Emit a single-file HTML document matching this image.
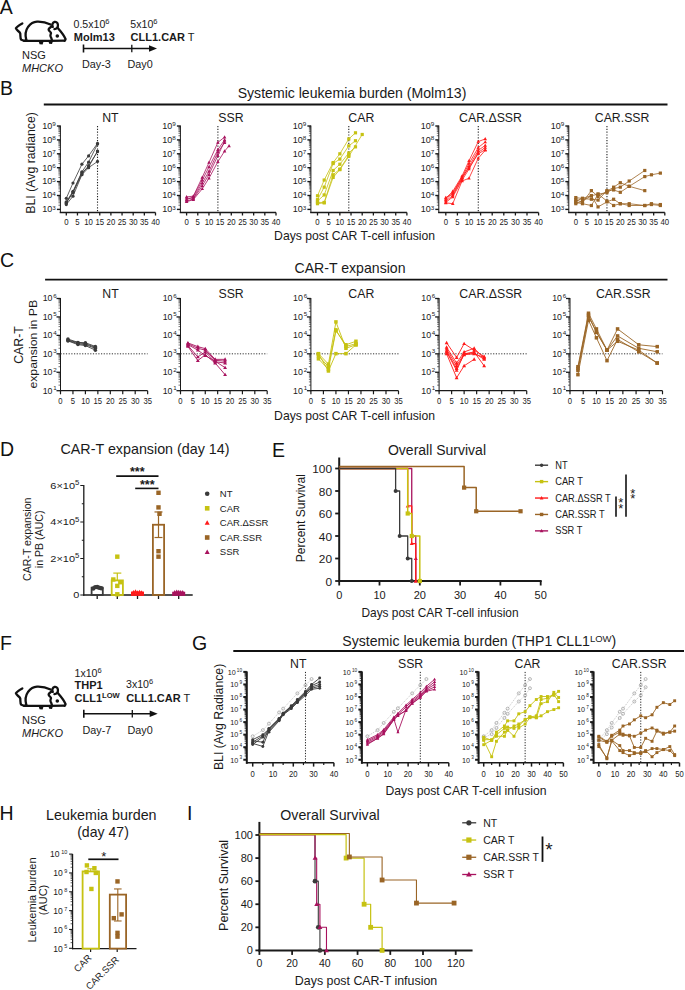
<!DOCTYPE html><html><head><meta charset="utf-8"><style>html,body{margin:0;padding:0;background:#fff;}svg{display:block;}</style></head><body><svg width="685" height="990" viewBox="0 0 685 990" font-family='"Liberation Sans", sans-serif'>
<rect width="685" height="990" fill="#fff"/>
<text transform="translate(-0.3,14.3)" font-size="19.5" text-anchor="start" fill="#111" >A</text>
<text transform="translate(0,95.2)" font-size="19.5" text-anchor="start" fill="#111" >B</text>
<text transform="translate(0,267.4)" font-size="19.5" text-anchor="start" fill="#111" >C</text>
<text transform="translate(0,456.4)" font-size="19.5" text-anchor="start" fill="#111" >D</text>
<text transform="translate(272,456.5)" font-size="19.5" text-anchor="start" fill="#111" >E</text>
<text transform="translate(0,650)" font-size="19.5" text-anchor="start" fill="#111" >F</text>
<text transform="translate(192,650)" font-size="19.5" text-anchor="start" fill="#111" >G</text>
<text transform="translate(-0.5,820)" font-size="19.5" text-anchor="start" fill="#111" >H</text>
<text transform="translate(187,820)" font-size="19.5" text-anchor="start" fill="#111" >I</text>
<g transform="translate(0,0.5)" fill="none" stroke="#111" stroke-width="2.3" stroke-linejoin="round" stroke-linecap="round">
<path d="M22.3,22.9 C19.6,24.4 16.8,26 15.9,27.8 C16.4,29.8 19.6,31 20.2,32.8 C20.6,35 20,37.6 21.2,39.2 C22.6,40.4 25,40.4 27.5,40.3"/>
<path d="M26.3,39.6 C25.2,35.6 25.2,30.4 28.2,26.2 C30.6,23 33.6,21.4 37,21.2 C41.6,21 46.4,22 50.6,24"/>
<path d="M24,40.4 L50,40.3 L64.8,40.1"/>
<path d="M51.4,26 C50,27 48.6,28 48.6,29.2 C48.8,30.6 51,31.4 51,32.6 C50.8,33.8 50,34.6 50.6,36 C51.2,37.2 51.8,38.4 52,40"/>
<path d="M57.8,27.4 C60.8,30.8 64.2,35 65.6,38.6 C65.4,39.6 65,40 64.6,40.2"/>
<path d="M52.8,26.4 C51.8,24.6 52.4,22 54.6,21.4 C57,21 58.2,23 57.9,25.6 C57.6,27.6 56,28.4 54.4,28.6"/>
</g>
<g transform="translate(0,0.5)" fill="#111">
<circle cx="57.3" cy="35.5" r="1.8"/>
<path d="M38.4,40 L43.8,40 L42.6,43.9 L39.6,43.7 Z"/>
<path d="M48.2,40 L53.2,40 L52,43.4 L49.2,43.2 Z"/>
</g>
<text transform="translate(22,59)" font-size="11" text-anchor="start" fill="#1a1a1a" >NSG</text>
<text transform="translate(22,72)" font-size="11" text-anchor="start" fill="#1a1a1a" font-style="italic" >MHCKO</text>
<text x="73.5" y="28" font-size="10.6" fill="#1a1a1a">0.5x10<tspan dy="-4" font-size="7.5">6</tspan></text>
<text transform="translate(73.8,40.8)" font-size="11" text-anchor="start" fill="#1a1a1a" font-weight="bold" >Molm13</text>
<text x="130.3" y="28" font-size="10.6" fill="#1a1a1a">5x10<tspan dy="-4" font-size="7.5">6</tspan></text>
<text x="130.6" y="40.8" font-size="11" fill="#1a1a1a"><tspan font-weight="bold">CLL1.CAR</tspan> T</text>
<line x1="83.5" y1="48.5" x2="151" y2="48.5" stroke="#111" stroke-width="1.6" stroke-linecap="butt"/>
<path d="M157,48.5 L149,45.2 L149,51.8 Z" fill="#111"/>
<line x1="83.5" y1="44.5" x2="83.5" y2="52.5" stroke="#111" stroke-width="1.6" stroke-linecap="butt"/>
<line x1="131.8" y1="44.8" x2="131.8" y2="52.2" stroke="#111" stroke-width="1.3" stroke-linecap="butt"/>
<text transform="translate(82,67.8)" font-size="10.8" text-anchor="start" fill="#1a1a1a" >Day-3</text>
<text transform="translate(127.5,67.8)" font-size="10.8" text-anchor="start" fill="#1a1a1a" >Day0</text>
<g transform="translate(0,665.5)" fill="none" stroke="#111" stroke-width="2.3" stroke-linejoin="round" stroke-linecap="round">
<path d="M22.3,22.9 C19.6,24.4 16.8,26 15.9,27.8 C16.4,29.8 19.6,31 20.2,32.8 C20.6,35 20,37.6 21.2,39.2 C22.6,40.4 25,40.4 27.5,40.3"/>
<path d="M26.3,39.6 C25.2,35.6 25.2,30.4 28.2,26.2 C30.6,23 33.6,21.4 37,21.2 C41.6,21 46.4,22 50.6,24"/>
<path d="M24,40.4 L50,40.3 L64.8,40.1"/>
<path d="M51.4,26 C50,27 48.6,28 48.6,29.2 C48.8,30.6 51,31.4 51,32.6 C50.8,33.8 50,34.6 50.6,36 C51.2,37.2 51.8,38.4 52,40"/>
<path d="M57.8,27.4 C60.8,30.8 64.2,35 65.6,38.6 C65.4,39.6 65,40 64.6,40.2"/>
<path d="M52.8,26.4 C51.8,24.6 52.4,22 54.6,21.4 C57,21 58.2,23 57.9,25.6 C57.6,27.6 56,28.4 54.4,28.6"/>
</g>
<g transform="translate(0,665.5)" fill="#111">
<circle cx="57.3" cy="35.5" r="1.8"/>
<path d="M38.4,40 L43.8,40 L42.6,43.9 L39.6,43.7 Z"/>
<path d="M48.2,40 L53.2,40 L52,43.4 L49.2,43.2 Z"/>
</g>
<text transform="translate(22,723.5)" font-size="11" text-anchor="start" fill="#1a1a1a" >NSG</text>
<text transform="translate(22,736.8)" font-size="11" text-anchor="start" fill="#1a1a1a" font-style="italic" >MHCKO</text>
<text x="74.5" y="676.8" font-size="10.6" fill="#1a1a1a">1x10<tspan dy="-4" font-size="7.5">6</tspan></text>
<text transform="translate(74.5,689.4)" font-size="11" text-anchor="start" fill="#1a1a1a" font-weight="bold" >THP1</text>
<text x="74.5" y="702.4" font-size="11" font-weight="bold" fill="#1a1a1a">CLL1<tspan dy="-4" font-size="7.6">LOW</tspan></text>
<text x="126" y="688.4" font-size="10.6" fill="#1a1a1a">3x10<tspan dy="-4" font-size="7.5">6</tspan></text>
<text x="126.3" y="702.4" font-size="11" fill="#1a1a1a"><tspan font-weight="bold">CLL1.CAR</tspan> T</text>
<line x1="83.8" y1="713.8" x2="151.5" y2="713.8" stroke="#111" stroke-width="1.6" stroke-linecap="butt"/>
<path d="M157.7,713.8 L149.7,710.5 L149.7,717.1 Z" fill="#111"/>
<line x1="83.8" y1="709.8" x2="83.8" y2="717.8" stroke="#111" stroke-width="1.6" stroke-linecap="butt"/>
<line x1="132.3" y1="710.1" x2="132.3" y2="717.5" stroke="#111" stroke-width="1.3" stroke-linecap="butt"/>
<text transform="translate(82.5,733.6)" font-size="10.8" text-anchor="start" fill="#1a1a1a" >Day-7</text>
<text transform="translate(127.5,733.6)" font-size="10.8" text-anchor="start" fill="#1a1a1a" >Day0</text>
<text transform="translate(352,97.8)" font-size="14.1" text-anchor="middle" fill="#1a1a1a" >Systemic leukemia burden (Molm13)</text>
<line x1="43.8" y1="104.5" x2="667.5" y2="104.5" stroke="#111" stroke-width="1.8" stroke-linecap="butt"/>
<text transform="translate(34.9,162.9) rotate(-90)" font-size="12.3" text-anchor="middle" fill="#1a1a1a" >BLI (Avg radiance)</text>
<text transform="translate(354.6,240)" font-size="12.2" text-anchor="middle" fill="#1a1a1a" >Days post CAR T-cell infusion</text>
<line x1="60.4" y1="125.5" x2="60.4" y2="213" stroke="#1a1a1a" stroke-width="1" stroke-linecap="butt"/>
<line x1="56.9" y1="209.4" x2="60.4" y2="209.4" stroke="#1a1a1a" stroke-width="1.4" stroke-linecap="butt"/>
<text transform="translate(55.8,212.2) scale(1.05,1)" font-size="8.6" text-anchor="end" fill="#1a1a1a">10<tspan dx="0" dy="-2.6" font-size="6">3</tspan></text>
<line x1="58.4" y1="205.22" x2="60.4" y2="205.22" stroke="#1a1a1a" stroke-width="0.6" stroke-linecap="butt"/>
<line x1="58.4" y1="202.77" x2="60.4" y2="202.77" stroke="#1a1a1a" stroke-width="0.6" stroke-linecap="butt"/>
<line x1="58.4" y1="201.03" x2="60.4" y2="201.03" stroke="#1a1a1a" stroke-width="0.6" stroke-linecap="butt"/>
<line x1="58.4" y1="199.68" x2="60.4" y2="199.68" stroke="#1a1a1a" stroke-width="0.6" stroke-linecap="butt"/>
<line x1="58.4" y1="198.58" x2="60.4" y2="198.58" stroke="#1a1a1a" stroke-width="0.6" stroke-linecap="butt"/>
<line x1="58.4" y1="197.65" x2="60.4" y2="197.65" stroke="#1a1a1a" stroke-width="0.6" stroke-linecap="butt"/>
<line x1="58.4" y1="196.85" x2="60.4" y2="196.85" stroke="#1a1a1a" stroke-width="0.6" stroke-linecap="butt"/>
<line x1="58.4" y1="196.14" x2="60.4" y2="196.14" stroke="#1a1a1a" stroke-width="0.6" stroke-linecap="butt"/>
<line x1="56.9" y1="195.5" x2="60.4" y2="195.5" stroke="#1a1a1a" stroke-width="1.4" stroke-linecap="butt"/>
<text transform="translate(55.8,198.3) scale(1.05,1)" font-size="8.6" text-anchor="end" fill="#1a1a1a">10<tspan dx="0" dy="-2.6" font-size="6">4</tspan></text>
<line x1="58.4" y1="191.32" x2="60.4" y2="191.32" stroke="#1a1a1a" stroke-width="0.6" stroke-linecap="butt"/>
<line x1="58.4" y1="188.87" x2="60.4" y2="188.87" stroke="#1a1a1a" stroke-width="0.6" stroke-linecap="butt"/>
<line x1="58.4" y1="187.13" x2="60.4" y2="187.13" stroke="#1a1a1a" stroke-width="0.6" stroke-linecap="butt"/>
<line x1="58.4" y1="185.78" x2="60.4" y2="185.78" stroke="#1a1a1a" stroke-width="0.6" stroke-linecap="butt"/>
<line x1="58.4" y1="184.68" x2="60.4" y2="184.68" stroke="#1a1a1a" stroke-width="0.6" stroke-linecap="butt"/>
<line x1="58.4" y1="183.75" x2="60.4" y2="183.75" stroke="#1a1a1a" stroke-width="0.6" stroke-linecap="butt"/>
<line x1="58.4" y1="182.95" x2="60.4" y2="182.95" stroke="#1a1a1a" stroke-width="0.6" stroke-linecap="butt"/>
<line x1="58.4" y1="182.24" x2="60.4" y2="182.24" stroke="#1a1a1a" stroke-width="0.6" stroke-linecap="butt"/>
<line x1="56.9" y1="181.6" x2="60.4" y2="181.6" stroke="#1a1a1a" stroke-width="1.4" stroke-linecap="butt"/>
<text transform="translate(55.8,184.4) scale(1.05,1)" font-size="8.6" text-anchor="end" fill="#1a1a1a">10<tspan dx="0" dy="-2.6" font-size="6">5</tspan></text>
<line x1="58.4" y1="177.42" x2="60.4" y2="177.42" stroke="#1a1a1a" stroke-width="0.6" stroke-linecap="butt"/>
<line x1="58.4" y1="174.97" x2="60.4" y2="174.97" stroke="#1a1a1a" stroke-width="0.6" stroke-linecap="butt"/>
<line x1="58.4" y1="173.23" x2="60.4" y2="173.23" stroke="#1a1a1a" stroke-width="0.6" stroke-linecap="butt"/>
<line x1="58.4" y1="171.88" x2="60.4" y2="171.88" stroke="#1a1a1a" stroke-width="0.6" stroke-linecap="butt"/>
<line x1="58.4" y1="170.78" x2="60.4" y2="170.78" stroke="#1a1a1a" stroke-width="0.6" stroke-linecap="butt"/>
<line x1="58.4" y1="169.85" x2="60.4" y2="169.85" stroke="#1a1a1a" stroke-width="0.6" stroke-linecap="butt"/>
<line x1="58.4" y1="169.05" x2="60.4" y2="169.05" stroke="#1a1a1a" stroke-width="0.6" stroke-linecap="butt"/>
<line x1="58.4" y1="168.34" x2="60.4" y2="168.34" stroke="#1a1a1a" stroke-width="0.6" stroke-linecap="butt"/>
<line x1="56.9" y1="167.7" x2="60.4" y2="167.7" stroke="#1a1a1a" stroke-width="1.4" stroke-linecap="butt"/>
<text transform="translate(55.8,170.5) scale(1.05,1)" font-size="8.6" text-anchor="end" fill="#1a1a1a">10<tspan dx="0" dy="-2.6" font-size="6">6</tspan></text>
<line x1="58.4" y1="163.52" x2="60.4" y2="163.52" stroke="#1a1a1a" stroke-width="0.6" stroke-linecap="butt"/>
<line x1="58.4" y1="161.07" x2="60.4" y2="161.07" stroke="#1a1a1a" stroke-width="0.6" stroke-linecap="butt"/>
<line x1="58.4" y1="159.33" x2="60.4" y2="159.33" stroke="#1a1a1a" stroke-width="0.6" stroke-linecap="butt"/>
<line x1="58.4" y1="157.98" x2="60.4" y2="157.98" stroke="#1a1a1a" stroke-width="0.6" stroke-linecap="butt"/>
<line x1="58.4" y1="156.88" x2="60.4" y2="156.88" stroke="#1a1a1a" stroke-width="0.6" stroke-linecap="butt"/>
<line x1="58.4" y1="155.95" x2="60.4" y2="155.95" stroke="#1a1a1a" stroke-width="0.6" stroke-linecap="butt"/>
<line x1="58.4" y1="155.15" x2="60.4" y2="155.15" stroke="#1a1a1a" stroke-width="0.6" stroke-linecap="butt"/>
<line x1="58.4" y1="154.44" x2="60.4" y2="154.44" stroke="#1a1a1a" stroke-width="0.6" stroke-linecap="butt"/>
<line x1="56.9" y1="153.8" x2="60.4" y2="153.8" stroke="#1a1a1a" stroke-width="1.4" stroke-linecap="butt"/>
<text transform="translate(55.8,156.6) scale(1.05,1)" font-size="8.6" text-anchor="end" fill="#1a1a1a">10<tspan dx="0" dy="-2.6" font-size="6">7</tspan></text>
<line x1="58.4" y1="149.62" x2="60.4" y2="149.62" stroke="#1a1a1a" stroke-width="0.6" stroke-linecap="butt"/>
<line x1="58.4" y1="147.17" x2="60.4" y2="147.17" stroke="#1a1a1a" stroke-width="0.6" stroke-linecap="butt"/>
<line x1="58.4" y1="145.43" x2="60.4" y2="145.43" stroke="#1a1a1a" stroke-width="0.6" stroke-linecap="butt"/>
<line x1="58.4" y1="144.08" x2="60.4" y2="144.08" stroke="#1a1a1a" stroke-width="0.6" stroke-linecap="butt"/>
<line x1="58.4" y1="142.98" x2="60.4" y2="142.98" stroke="#1a1a1a" stroke-width="0.6" stroke-linecap="butt"/>
<line x1="58.4" y1="142.05" x2="60.4" y2="142.05" stroke="#1a1a1a" stroke-width="0.6" stroke-linecap="butt"/>
<line x1="58.4" y1="141.25" x2="60.4" y2="141.25" stroke="#1a1a1a" stroke-width="0.6" stroke-linecap="butt"/>
<line x1="58.4" y1="140.54" x2="60.4" y2="140.54" stroke="#1a1a1a" stroke-width="0.6" stroke-linecap="butt"/>
<line x1="56.9" y1="139.9" x2="60.4" y2="139.9" stroke="#1a1a1a" stroke-width="1.4" stroke-linecap="butt"/>
<text transform="translate(55.8,142.7) scale(1.05,1)" font-size="8.6" text-anchor="end" fill="#1a1a1a">10<tspan dx="0" dy="-2.6" font-size="6">8</tspan></text>
<line x1="58.4" y1="135.72" x2="60.4" y2="135.72" stroke="#1a1a1a" stroke-width="0.6" stroke-linecap="butt"/>
<line x1="58.4" y1="133.27" x2="60.4" y2="133.27" stroke="#1a1a1a" stroke-width="0.6" stroke-linecap="butt"/>
<line x1="58.4" y1="131.53" x2="60.4" y2="131.53" stroke="#1a1a1a" stroke-width="0.6" stroke-linecap="butt"/>
<line x1="58.4" y1="130.18" x2="60.4" y2="130.18" stroke="#1a1a1a" stroke-width="0.6" stroke-linecap="butt"/>
<line x1="58.4" y1="129.08" x2="60.4" y2="129.08" stroke="#1a1a1a" stroke-width="0.6" stroke-linecap="butt"/>
<line x1="58.4" y1="128.15" x2="60.4" y2="128.15" stroke="#1a1a1a" stroke-width="0.6" stroke-linecap="butt"/>
<line x1="58.4" y1="127.35" x2="60.4" y2="127.35" stroke="#1a1a1a" stroke-width="0.6" stroke-linecap="butt"/>
<line x1="58.4" y1="126.64" x2="60.4" y2="126.64" stroke="#1a1a1a" stroke-width="0.6" stroke-linecap="butt"/>
<line x1="56.9" y1="126" x2="60.4" y2="126" stroke="#1a1a1a" stroke-width="1.4" stroke-linecap="butt"/>
<text transform="translate(55.8,128.8) scale(1.05,1)" font-size="8.6" text-anchor="end" fill="#1a1a1a">10<tspan dx="0" dy="-2.6" font-size="6">9</tspan></text>
<line x1="59.75" y1="212.5" x2="155.5" y2="212.5" stroke="#1a1a1a" stroke-width="1.3" stroke-linecap="butt"/>
<line x1="66.3" y1="212.5" x2="66.3" y2="215.5" stroke="#1a1a1a" stroke-width="1.3" stroke-linecap="butt"/>
<text transform="translate(66.3,224.6) scale(0.95,1)" font-size="8.2" text-anchor="middle" fill="#1a1a1a" >0</text>
<line x1="77.45" y1="212.5" x2="77.45" y2="215.5" stroke="#1a1a1a" stroke-width="1.3" stroke-linecap="butt"/>
<text transform="translate(77.45,224.6) scale(0.95,1)" font-size="8.2" text-anchor="middle" fill="#1a1a1a" >5</text>
<line x1="88.6" y1="212.5" x2="88.6" y2="215.5" stroke="#1a1a1a" stroke-width="1.3" stroke-linecap="butt"/>
<text transform="translate(88.6,224.6) scale(0.95,1)" font-size="8.2" text-anchor="middle" fill="#1a1a1a" >10</text>
<line x1="99.75" y1="212.5" x2="99.75" y2="215.5" stroke="#1a1a1a" stroke-width="1.3" stroke-linecap="butt"/>
<text transform="translate(99.75,224.6) scale(0.95,1)" font-size="8.2" text-anchor="middle" fill="#1a1a1a" >15</text>
<line x1="110.9" y1="212.5" x2="110.9" y2="215.5" stroke="#1a1a1a" stroke-width="1.3" stroke-linecap="butt"/>
<text transform="translate(110.9,224.6) scale(0.95,1)" font-size="8.2" text-anchor="middle" fill="#1a1a1a" >20</text>
<line x1="122.05" y1="212.5" x2="122.05" y2="215.5" stroke="#1a1a1a" stroke-width="1.3" stroke-linecap="butt"/>
<text transform="translate(122.05,224.6) scale(0.95,1)" font-size="8.2" text-anchor="middle" fill="#1a1a1a" >25</text>
<line x1="133.2" y1="212.5" x2="133.2" y2="215.5" stroke="#1a1a1a" stroke-width="1.3" stroke-linecap="butt"/>
<text transform="translate(133.2,224.6) scale(0.95,1)" font-size="8.2" text-anchor="middle" fill="#1a1a1a" >30</text>
<line x1="144.35" y1="212.5" x2="144.35" y2="215.5" stroke="#1a1a1a" stroke-width="1.3" stroke-linecap="butt"/>
<text transform="translate(144.35,224.6) scale(0.95,1)" font-size="8.2" text-anchor="middle" fill="#1a1a1a" >35</text>
<line x1="155.5" y1="212.5" x2="155.5" y2="215.5" stroke="#1a1a1a" stroke-width="1.3" stroke-linecap="butt"/>
<text transform="translate(155.5,224.6) scale(0.95,1)" font-size="8.2" text-anchor="middle" fill="#1a1a1a" >40</text>
<line x1="97.52" y1="126" x2="97.52" y2="212" stroke="#222" stroke-width="1.1" stroke-linecap="butt" stroke-dasharray="1.2,1.6"/>
<text transform="translate(110.4,121.9)" font-size="12.3" text-anchor="middle" fill="#1a1a1a" >NT</text>
<polyline points="66.3,198.28 72.99,182.99 81.91,164.22 88.6,155.88 97.52,143.38" fill="none" stroke="#3a3a3a" stroke-width="0.8" stroke-linejoin="round"/>
<circle cx="66.3" cy="198.28" r="1.6" fill="#3a3a3a"/>
<circle cx="72.99" cy="182.99" r="1.6" fill="#3a3a3a"/>
<circle cx="81.91" cy="164.22" r="1.6" fill="#3a3a3a"/>
<circle cx="88.6" cy="155.88" r="1.6" fill="#3a3a3a"/>
<circle cx="97.52" cy="143.38" r="1.6" fill="#3a3a3a"/>
<polyline points="66.3,201.75 72.99,191.33 81.91,171.87 88.6,162.14 97.52,144.07" fill="none" stroke="#3a3a3a" stroke-width="0.8" stroke-linejoin="round"/>
<circle cx="66.3" cy="201.75" r="1.6" fill="#3a3a3a"/>
<circle cx="72.99" cy="191.33" r="1.6" fill="#3a3a3a"/>
<circle cx="81.91" cy="171.87" r="1.6" fill="#3a3a3a"/>
<circle cx="88.6" cy="162.14" r="1.6" fill="#3a3a3a"/>
<circle cx="97.52" cy="144.07" r="1.6" fill="#3a3a3a"/>
<polyline points="66.3,203.14 72.99,192.03 81.91,172.56 88.6,167 97.52,151.02" fill="none" stroke="#3a3a3a" stroke-width="0.8" stroke-linejoin="round"/>
<circle cx="66.3" cy="203.14" r="1.6" fill="#3a3a3a"/>
<circle cx="72.99" cy="192.03" r="1.6" fill="#3a3a3a"/>
<circle cx="81.91" cy="172.56" r="1.6" fill="#3a3a3a"/>
<circle cx="88.6" cy="167" r="1.6" fill="#3a3a3a"/>
<circle cx="97.52" cy="151.02" r="1.6" fill="#3a3a3a"/>
<polyline points="66.3,204.54 72.99,196.19 81.91,174.65 88.6,167.7 97.52,161.44" fill="none" stroke="#3a3a3a" stroke-width="0.8" stroke-linejoin="round"/>
<circle cx="66.3" cy="204.54" r="1.6" fill="#3a3a3a"/>
<circle cx="72.99" cy="196.19" r="1.6" fill="#3a3a3a"/>
<circle cx="81.91" cy="174.65" r="1.6" fill="#3a3a3a"/>
<circle cx="88.6" cy="167.7" r="1.6" fill="#3a3a3a"/>
<circle cx="97.52" cy="161.44" r="1.6" fill="#3a3a3a"/>
<polyline points="66.3,202.45 72.99,192.72 81.91,173.96 88.6,165.62 97.52,151.72" fill="none" stroke="#3a3a3a" stroke-width="0.8" stroke-linejoin="round"/>
<circle cx="66.3" cy="202.45" r="1.6" fill="#3a3a3a"/>
<circle cx="72.99" cy="192.72" r="1.6" fill="#3a3a3a"/>
<circle cx="81.91" cy="173.96" r="1.6" fill="#3a3a3a"/>
<circle cx="88.6" cy="165.62" r="1.6" fill="#3a3a3a"/>
<circle cx="97.52" cy="151.72" r="1.6" fill="#3a3a3a"/>
<line x1="180.4" y1="125.5" x2="180.4" y2="213" stroke="#1a1a1a" stroke-width="1" stroke-linecap="butt"/>
<line x1="176.9" y1="209.4" x2="180.4" y2="209.4" stroke="#1a1a1a" stroke-width="1.4" stroke-linecap="butt"/>
<text transform="translate(175.8,212.2) scale(1.05,1)" font-size="8.6" text-anchor="end" fill="#1a1a1a">10<tspan dx="0" dy="-2.6" font-size="6">3</tspan></text>
<line x1="178.4" y1="205.22" x2="180.4" y2="205.22" stroke="#1a1a1a" stroke-width="0.6" stroke-linecap="butt"/>
<line x1="178.4" y1="202.77" x2="180.4" y2="202.77" stroke="#1a1a1a" stroke-width="0.6" stroke-linecap="butt"/>
<line x1="178.4" y1="201.03" x2="180.4" y2="201.03" stroke="#1a1a1a" stroke-width="0.6" stroke-linecap="butt"/>
<line x1="178.4" y1="199.68" x2="180.4" y2="199.68" stroke="#1a1a1a" stroke-width="0.6" stroke-linecap="butt"/>
<line x1="178.4" y1="198.58" x2="180.4" y2="198.58" stroke="#1a1a1a" stroke-width="0.6" stroke-linecap="butt"/>
<line x1="178.4" y1="197.65" x2="180.4" y2="197.65" stroke="#1a1a1a" stroke-width="0.6" stroke-linecap="butt"/>
<line x1="178.4" y1="196.85" x2="180.4" y2="196.85" stroke="#1a1a1a" stroke-width="0.6" stroke-linecap="butt"/>
<line x1="178.4" y1="196.14" x2="180.4" y2="196.14" stroke="#1a1a1a" stroke-width="0.6" stroke-linecap="butt"/>
<line x1="176.9" y1="195.5" x2="180.4" y2="195.5" stroke="#1a1a1a" stroke-width="1.4" stroke-linecap="butt"/>
<text transform="translate(175.8,198.3) scale(1.05,1)" font-size="8.6" text-anchor="end" fill="#1a1a1a">10<tspan dx="0" dy="-2.6" font-size="6">4</tspan></text>
<line x1="178.4" y1="191.32" x2="180.4" y2="191.32" stroke="#1a1a1a" stroke-width="0.6" stroke-linecap="butt"/>
<line x1="178.4" y1="188.87" x2="180.4" y2="188.87" stroke="#1a1a1a" stroke-width="0.6" stroke-linecap="butt"/>
<line x1="178.4" y1="187.13" x2="180.4" y2="187.13" stroke="#1a1a1a" stroke-width="0.6" stroke-linecap="butt"/>
<line x1="178.4" y1="185.78" x2="180.4" y2="185.78" stroke="#1a1a1a" stroke-width="0.6" stroke-linecap="butt"/>
<line x1="178.4" y1="184.68" x2="180.4" y2="184.68" stroke="#1a1a1a" stroke-width="0.6" stroke-linecap="butt"/>
<line x1="178.4" y1="183.75" x2="180.4" y2="183.75" stroke="#1a1a1a" stroke-width="0.6" stroke-linecap="butt"/>
<line x1="178.4" y1="182.95" x2="180.4" y2="182.95" stroke="#1a1a1a" stroke-width="0.6" stroke-linecap="butt"/>
<line x1="178.4" y1="182.24" x2="180.4" y2="182.24" stroke="#1a1a1a" stroke-width="0.6" stroke-linecap="butt"/>
<line x1="176.9" y1="181.6" x2="180.4" y2="181.6" stroke="#1a1a1a" stroke-width="1.4" stroke-linecap="butt"/>
<text transform="translate(175.8,184.4) scale(1.05,1)" font-size="8.6" text-anchor="end" fill="#1a1a1a">10<tspan dx="0" dy="-2.6" font-size="6">5</tspan></text>
<line x1="178.4" y1="177.42" x2="180.4" y2="177.42" stroke="#1a1a1a" stroke-width="0.6" stroke-linecap="butt"/>
<line x1="178.4" y1="174.97" x2="180.4" y2="174.97" stroke="#1a1a1a" stroke-width="0.6" stroke-linecap="butt"/>
<line x1="178.4" y1="173.23" x2="180.4" y2="173.23" stroke="#1a1a1a" stroke-width="0.6" stroke-linecap="butt"/>
<line x1="178.4" y1="171.88" x2="180.4" y2="171.88" stroke="#1a1a1a" stroke-width="0.6" stroke-linecap="butt"/>
<line x1="178.4" y1="170.78" x2="180.4" y2="170.78" stroke="#1a1a1a" stroke-width="0.6" stroke-linecap="butt"/>
<line x1="178.4" y1="169.85" x2="180.4" y2="169.85" stroke="#1a1a1a" stroke-width="0.6" stroke-linecap="butt"/>
<line x1="178.4" y1="169.05" x2="180.4" y2="169.05" stroke="#1a1a1a" stroke-width="0.6" stroke-linecap="butt"/>
<line x1="178.4" y1="168.34" x2="180.4" y2="168.34" stroke="#1a1a1a" stroke-width="0.6" stroke-linecap="butt"/>
<line x1="176.9" y1="167.7" x2="180.4" y2="167.7" stroke="#1a1a1a" stroke-width="1.4" stroke-linecap="butt"/>
<text transform="translate(175.8,170.5) scale(1.05,1)" font-size="8.6" text-anchor="end" fill="#1a1a1a">10<tspan dx="0" dy="-2.6" font-size="6">6</tspan></text>
<line x1="178.4" y1="163.52" x2="180.4" y2="163.52" stroke="#1a1a1a" stroke-width="0.6" stroke-linecap="butt"/>
<line x1="178.4" y1="161.07" x2="180.4" y2="161.07" stroke="#1a1a1a" stroke-width="0.6" stroke-linecap="butt"/>
<line x1="178.4" y1="159.33" x2="180.4" y2="159.33" stroke="#1a1a1a" stroke-width="0.6" stroke-linecap="butt"/>
<line x1="178.4" y1="157.98" x2="180.4" y2="157.98" stroke="#1a1a1a" stroke-width="0.6" stroke-linecap="butt"/>
<line x1="178.4" y1="156.88" x2="180.4" y2="156.88" stroke="#1a1a1a" stroke-width="0.6" stroke-linecap="butt"/>
<line x1="178.4" y1="155.95" x2="180.4" y2="155.95" stroke="#1a1a1a" stroke-width="0.6" stroke-linecap="butt"/>
<line x1="178.4" y1="155.15" x2="180.4" y2="155.15" stroke="#1a1a1a" stroke-width="0.6" stroke-linecap="butt"/>
<line x1="178.4" y1="154.44" x2="180.4" y2="154.44" stroke="#1a1a1a" stroke-width="0.6" stroke-linecap="butt"/>
<line x1="176.9" y1="153.8" x2="180.4" y2="153.8" stroke="#1a1a1a" stroke-width="1.4" stroke-linecap="butt"/>
<text transform="translate(175.8,156.6) scale(1.05,1)" font-size="8.6" text-anchor="end" fill="#1a1a1a">10<tspan dx="0" dy="-2.6" font-size="6">7</tspan></text>
<line x1="178.4" y1="149.62" x2="180.4" y2="149.62" stroke="#1a1a1a" stroke-width="0.6" stroke-linecap="butt"/>
<line x1="178.4" y1="147.17" x2="180.4" y2="147.17" stroke="#1a1a1a" stroke-width="0.6" stroke-linecap="butt"/>
<line x1="178.4" y1="145.43" x2="180.4" y2="145.43" stroke="#1a1a1a" stroke-width="0.6" stroke-linecap="butt"/>
<line x1="178.4" y1="144.08" x2="180.4" y2="144.08" stroke="#1a1a1a" stroke-width="0.6" stroke-linecap="butt"/>
<line x1="178.4" y1="142.98" x2="180.4" y2="142.98" stroke="#1a1a1a" stroke-width="0.6" stroke-linecap="butt"/>
<line x1="178.4" y1="142.05" x2="180.4" y2="142.05" stroke="#1a1a1a" stroke-width="0.6" stroke-linecap="butt"/>
<line x1="178.4" y1="141.25" x2="180.4" y2="141.25" stroke="#1a1a1a" stroke-width="0.6" stroke-linecap="butt"/>
<line x1="178.4" y1="140.54" x2="180.4" y2="140.54" stroke="#1a1a1a" stroke-width="0.6" stroke-linecap="butt"/>
<line x1="176.9" y1="139.9" x2="180.4" y2="139.9" stroke="#1a1a1a" stroke-width="1.4" stroke-linecap="butt"/>
<text transform="translate(175.8,142.7) scale(1.05,1)" font-size="8.6" text-anchor="end" fill="#1a1a1a">10<tspan dx="0" dy="-2.6" font-size="6">8</tspan></text>
<line x1="178.4" y1="135.72" x2="180.4" y2="135.72" stroke="#1a1a1a" stroke-width="0.6" stroke-linecap="butt"/>
<line x1="178.4" y1="133.27" x2="180.4" y2="133.27" stroke="#1a1a1a" stroke-width="0.6" stroke-linecap="butt"/>
<line x1="178.4" y1="131.53" x2="180.4" y2="131.53" stroke="#1a1a1a" stroke-width="0.6" stroke-linecap="butt"/>
<line x1="178.4" y1="130.18" x2="180.4" y2="130.18" stroke="#1a1a1a" stroke-width="0.6" stroke-linecap="butt"/>
<line x1="178.4" y1="129.08" x2="180.4" y2="129.08" stroke="#1a1a1a" stroke-width="0.6" stroke-linecap="butt"/>
<line x1="178.4" y1="128.15" x2="180.4" y2="128.15" stroke="#1a1a1a" stroke-width="0.6" stroke-linecap="butt"/>
<line x1="178.4" y1="127.35" x2="180.4" y2="127.35" stroke="#1a1a1a" stroke-width="0.6" stroke-linecap="butt"/>
<line x1="178.4" y1="126.64" x2="180.4" y2="126.64" stroke="#1a1a1a" stroke-width="0.6" stroke-linecap="butt"/>
<line x1="176.9" y1="126" x2="180.4" y2="126" stroke="#1a1a1a" stroke-width="1.4" stroke-linecap="butt"/>
<text transform="translate(175.8,128.8) scale(1.05,1)" font-size="8.6" text-anchor="end" fill="#1a1a1a">10<tspan dx="0" dy="-2.6" font-size="6">9</tspan></text>
<line x1="179.75" y1="212.5" x2="276" y2="212.5" stroke="#1a1a1a" stroke-width="1.3" stroke-linecap="butt"/>
<line x1="186.6" y1="212.5" x2="186.6" y2="215.5" stroke="#1a1a1a" stroke-width="1.3" stroke-linecap="butt"/>
<text transform="translate(186.6,224.6) scale(0.95,1)" font-size="8.2" text-anchor="middle" fill="#1a1a1a" >0</text>
<line x1="197.78" y1="212.5" x2="197.78" y2="215.5" stroke="#1a1a1a" stroke-width="1.3" stroke-linecap="butt"/>
<text transform="translate(197.78,224.6) scale(0.95,1)" font-size="8.2" text-anchor="middle" fill="#1a1a1a" >5</text>
<line x1="208.95" y1="212.5" x2="208.95" y2="215.5" stroke="#1a1a1a" stroke-width="1.3" stroke-linecap="butt"/>
<text transform="translate(208.95,224.6) scale(0.95,1)" font-size="8.2" text-anchor="middle" fill="#1a1a1a" >10</text>
<line x1="220.12" y1="212.5" x2="220.12" y2="215.5" stroke="#1a1a1a" stroke-width="1.3" stroke-linecap="butt"/>
<text transform="translate(220.12,224.6) scale(0.95,1)" font-size="8.2" text-anchor="middle" fill="#1a1a1a" >15</text>
<line x1="231.3" y1="212.5" x2="231.3" y2="215.5" stroke="#1a1a1a" stroke-width="1.3" stroke-linecap="butt"/>
<text transform="translate(231.3,224.6) scale(0.95,1)" font-size="8.2" text-anchor="middle" fill="#1a1a1a" >20</text>
<line x1="242.47" y1="212.5" x2="242.47" y2="215.5" stroke="#1a1a1a" stroke-width="1.3" stroke-linecap="butt"/>
<text transform="translate(242.47,224.6) scale(0.95,1)" font-size="8.2" text-anchor="middle" fill="#1a1a1a" >25</text>
<line x1="253.65" y1="212.5" x2="253.65" y2="215.5" stroke="#1a1a1a" stroke-width="1.3" stroke-linecap="butt"/>
<text transform="translate(253.65,224.6) scale(0.95,1)" font-size="8.2" text-anchor="middle" fill="#1a1a1a" >30</text>
<line x1="264.82" y1="212.5" x2="264.82" y2="215.5" stroke="#1a1a1a" stroke-width="1.3" stroke-linecap="butt"/>
<text transform="translate(264.82,224.6) scale(0.95,1)" font-size="8.2" text-anchor="middle" fill="#1a1a1a" >35</text>
<line x1="276" y1="212.5" x2="276" y2="215.5" stroke="#1a1a1a" stroke-width="1.3" stroke-linecap="butt"/>
<text transform="translate(276,224.6) scale(0.95,1)" font-size="8.2" text-anchor="middle" fill="#1a1a1a" >40</text>
<line x1="217.89" y1="126" x2="217.89" y2="212" stroke="#222" stroke-width="1.1" stroke-linecap="butt" stroke-dasharray="1.2,1.6"/>
<text transform="translate(231,121.9)" font-size="12.3" text-anchor="middle" fill="#1a1a1a" >SSR</text>
<polyline points="186.6,196.89 193.31,196.19 202.25,177.43 208.95,162.56 217.89,142.4 224.59,137.12" fill="none" stroke="#a8125e" stroke-width="0.8" stroke-linejoin="round"/>
<path d="M186.6,195.05L188.36,198.17L184.84,198.17Z" fill="#a8125e"/>
<path d="M193.31,194.35L195.06,197.47L191.55,197.47Z" fill="#a8125e"/>
<path d="M202.25,175.59L204,178.71L200.49,178.71Z" fill="#a8125e"/>
<path d="M208.95,160.72L210.71,163.84L207.19,163.84Z" fill="#a8125e"/>
<path d="M217.89,140.56L219.65,143.68L216.13,143.68Z" fill="#a8125e"/>
<path d="M224.59,135.28L226.35,138.4L222.84,138.4Z" fill="#a8125e"/>
<polyline points="186.6,199.67 193.31,196.89 202.25,180.21 208.95,167 217.89,149.63 224.59,139.9" fill="none" stroke="#a8125e" stroke-width="0.8" stroke-linejoin="round"/>
<path d="M186.6,197.83L188.36,200.95L184.84,200.95Z" fill="#a8125e"/>
<path d="M193.31,195.05L195.06,198.17L191.55,198.17Z" fill="#a8125e"/>
<path d="M202.25,178.37L204,181.49L200.49,181.49Z" fill="#a8125e"/>
<path d="M208.95,165.16L210.71,168.28L207.19,168.28Z" fill="#a8125e"/>
<path d="M217.89,147.79L219.65,150.91L216.13,150.91Z" fill="#a8125e"/>
<path d="M224.59,138.06L226.35,141.18L222.84,141.18Z" fill="#a8125e"/>
<polyline points="186.6,198.28 193.31,198.28 202.25,182.99 208.95,171.45 217.89,152.13 224.59,142.68" fill="none" stroke="#a8125e" stroke-width="0.8" stroke-linejoin="round"/>
<path d="M186.6,196.44L188.36,199.56L184.84,199.56Z" fill="#a8125e"/>
<path d="M193.31,196.44L195.06,199.56L191.55,199.56Z" fill="#a8125e"/>
<path d="M202.25,181.15L204,184.27L200.49,184.27Z" fill="#a8125e"/>
<path d="M208.95,169.61L210.71,172.73L207.19,172.73Z" fill="#a8125e"/>
<path d="M217.89,150.29L219.65,153.41L216.13,153.41Z" fill="#a8125e"/>
<path d="M224.59,140.84L226.35,143.96L222.84,143.96Z" fill="#a8125e"/>
<polyline points="186.6,201.06 193.31,198.98 202.25,185.77 208.95,174.65 217.89,155.61 224.59,141.29" fill="none" stroke="#a8125e" stroke-width="0.8" stroke-linejoin="round"/>
<path d="M186.6,199.22L188.36,202.34L184.84,202.34Z" fill="#a8125e"/>
<path d="M193.31,197.14L195.06,200.26L191.55,200.26Z" fill="#a8125e"/>
<path d="M202.25,183.93L204,187.05L200.49,187.05Z" fill="#a8125e"/>
<path d="M208.95,172.81L210.71,175.93L207.19,175.93Z" fill="#a8125e"/>
<path d="M217.89,153.77L219.65,156.89L216.13,156.89Z" fill="#a8125e"/>
<path d="M224.59,139.45L226.35,142.57L222.84,142.57Z" fill="#a8125e"/>
<polyline points="186.6,201.75 193.31,199.67 202.25,188.83 208.95,178.26 217.89,161.72 224.59,151.16 229.06,145.88" fill="none" stroke="#a8125e" stroke-width="0.8" stroke-linejoin="round"/>
<path d="M186.6,199.91L188.36,203.03L184.84,203.03Z" fill="#a8125e"/>
<path d="M193.31,197.83L195.06,200.95L191.55,200.95Z" fill="#a8125e"/>
<path d="M202.25,186.99L204,190.11L200.49,190.11Z" fill="#a8125e"/>
<path d="M208.95,176.42L210.71,179.54L207.19,179.54Z" fill="#a8125e"/>
<path d="M217.89,159.88L219.65,163L216.13,163Z" fill="#a8125e"/>
<path d="M224.59,149.32L226.35,152.44L222.84,152.44Z" fill="#a8125e"/>
<path d="M229.06,144.04L230.82,147.16L227.31,147.16Z" fill="#a8125e"/>
<line x1="310.9" y1="125.5" x2="310.9" y2="213" stroke="#1a1a1a" stroke-width="1" stroke-linecap="butt"/>
<line x1="307.4" y1="209.4" x2="310.9" y2="209.4" stroke="#1a1a1a" stroke-width="1.4" stroke-linecap="butt"/>
<text transform="translate(306.3,212.2) scale(1.05,1)" font-size="8.6" text-anchor="end" fill="#1a1a1a">10<tspan dx="0" dy="-2.6" font-size="6">3</tspan></text>
<line x1="308.9" y1="205.22" x2="310.9" y2="205.22" stroke="#1a1a1a" stroke-width="0.6" stroke-linecap="butt"/>
<line x1="308.9" y1="202.77" x2="310.9" y2="202.77" stroke="#1a1a1a" stroke-width="0.6" stroke-linecap="butt"/>
<line x1="308.9" y1="201.03" x2="310.9" y2="201.03" stroke="#1a1a1a" stroke-width="0.6" stroke-linecap="butt"/>
<line x1="308.9" y1="199.68" x2="310.9" y2="199.68" stroke="#1a1a1a" stroke-width="0.6" stroke-linecap="butt"/>
<line x1="308.9" y1="198.58" x2="310.9" y2="198.58" stroke="#1a1a1a" stroke-width="0.6" stroke-linecap="butt"/>
<line x1="308.9" y1="197.65" x2="310.9" y2="197.65" stroke="#1a1a1a" stroke-width="0.6" stroke-linecap="butt"/>
<line x1="308.9" y1="196.85" x2="310.9" y2="196.85" stroke="#1a1a1a" stroke-width="0.6" stroke-linecap="butt"/>
<line x1="308.9" y1="196.14" x2="310.9" y2="196.14" stroke="#1a1a1a" stroke-width="0.6" stroke-linecap="butt"/>
<line x1="307.4" y1="195.5" x2="310.9" y2="195.5" stroke="#1a1a1a" stroke-width="1.4" stroke-linecap="butt"/>
<text transform="translate(306.3,198.3) scale(1.05,1)" font-size="8.6" text-anchor="end" fill="#1a1a1a">10<tspan dx="0" dy="-2.6" font-size="6">4</tspan></text>
<line x1="308.9" y1="191.32" x2="310.9" y2="191.32" stroke="#1a1a1a" stroke-width="0.6" stroke-linecap="butt"/>
<line x1="308.9" y1="188.87" x2="310.9" y2="188.87" stroke="#1a1a1a" stroke-width="0.6" stroke-linecap="butt"/>
<line x1="308.9" y1="187.13" x2="310.9" y2="187.13" stroke="#1a1a1a" stroke-width="0.6" stroke-linecap="butt"/>
<line x1="308.9" y1="185.78" x2="310.9" y2="185.78" stroke="#1a1a1a" stroke-width="0.6" stroke-linecap="butt"/>
<line x1="308.9" y1="184.68" x2="310.9" y2="184.68" stroke="#1a1a1a" stroke-width="0.6" stroke-linecap="butt"/>
<line x1="308.9" y1="183.75" x2="310.9" y2="183.75" stroke="#1a1a1a" stroke-width="0.6" stroke-linecap="butt"/>
<line x1="308.9" y1="182.95" x2="310.9" y2="182.95" stroke="#1a1a1a" stroke-width="0.6" stroke-linecap="butt"/>
<line x1="308.9" y1="182.24" x2="310.9" y2="182.24" stroke="#1a1a1a" stroke-width="0.6" stroke-linecap="butt"/>
<line x1="307.4" y1="181.6" x2="310.9" y2="181.6" stroke="#1a1a1a" stroke-width="1.4" stroke-linecap="butt"/>
<text transform="translate(306.3,184.4) scale(1.05,1)" font-size="8.6" text-anchor="end" fill="#1a1a1a">10<tspan dx="0" dy="-2.6" font-size="6">5</tspan></text>
<line x1="308.9" y1="177.42" x2="310.9" y2="177.42" stroke="#1a1a1a" stroke-width="0.6" stroke-linecap="butt"/>
<line x1="308.9" y1="174.97" x2="310.9" y2="174.97" stroke="#1a1a1a" stroke-width="0.6" stroke-linecap="butt"/>
<line x1="308.9" y1="173.23" x2="310.9" y2="173.23" stroke="#1a1a1a" stroke-width="0.6" stroke-linecap="butt"/>
<line x1="308.9" y1="171.88" x2="310.9" y2="171.88" stroke="#1a1a1a" stroke-width="0.6" stroke-linecap="butt"/>
<line x1="308.9" y1="170.78" x2="310.9" y2="170.78" stroke="#1a1a1a" stroke-width="0.6" stroke-linecap="butt"/>
<line x1="308.9" y1="169.85" x2="310.9" y2="169.85" stroke="#1a1a1a" stroke-width="0.6" stroke-linecap="butt"/>
<line x1="308.9" y1="169.05" x2="310.9" y2="169.05" stroke="#1a1a1a" stroke-width="0.6" stroke-linecap="butt"/>
<line x1="308.9" y1="168.34" x2="310.9" y2="168.34" stroke="#1a1a1a" stroke-width="0.6" stroke-linecap="butt"/>
<line x1="307.4" y1="167.7" x2="310.9" y2="167.7" stroke="#1a1a1a" stroke-width="1.4" stroke-linecap="butt"/>
<text transform="translate(306.3,170.5) scale(1.05,1)" font-size="8.6" text-anchor="end" fill="#1a1a1a">10<tspan dx="0" dy="-2.6" font-size="6">6</tspan></text>
<line x1="308.9" y1="163.52" x2="310.9" y2="163.52" stroke="#1a1a1a" stroke-width="0.6" stroke-linecap="butt"/>
<line x1="308.9" y1="161.07" x2="310.9" y2="161.07" stroke="#1a1a1a" stroke-width="0.6" stroke-linecap="butt"/>
<line x1="308.9" y1="159.33" x2="310.9" y2="159.33" stroke="#1a1a1a" stroke-width="0.6" stroke-linecap="butt"/>
<line x1="308.9" y1="157.98" x2="310.9" y2="157.98" stroke="#1a1a1a" stroke-width="0.6" stroke-linecap="butt"/>
<line x1="308.9" y1="156.88" x2="310.9" y2="156.88" stroke="#1a1a1a" stroke-width="0.6" stroke-linecap="butt"/>
<line x1="308.9" y1="155.95" x2="310.9" y2="155.95" stroke="#1a1a1a" stroke-width="0.6" stroke-linecap="butt"/>
<line x1="308.9" y1="155.15" x2="310.9" y2="155.15" stroke="#1a1a1a" stroke-width="0.6" stroke-linecap="butt"/>
<line x1="308.9" y1="154.44" x2="310.9" y2="154.44" stroke="#1a1a1a" stroke-width="0.6" stroke-linecap="butt"/>
<line x1="307.4" y1="153.8" x2="310.9" y2="153.8" stroke="#1a1a1a" stroke-width="1.4" stroke-linecap="butt"/>
<text transform="translate(306.3,156.6) scale(1.05,1)" font-size="8.6" text-anchor="end" fill="#1a1a1a">10<tspan dx="0" dy="-2.6" font-size="6">7</tspan></text>
<line x1="308.9" y1="149.62" x2="310.9" y2="149.62" stroke="#1a1a1a" stroke-width="0.6" stroke-linecap="butt"/>
<line x1="308.9" y1="147.17" x2="310.9" y2="147.17" stroke="#1a1a1a" stroke-width="0.6" stroke-linecap="butt"/>
<line x1="308.9" y1="145.43" x2="310.9" y2="145.43" stroke="#1a1a1a" stroke-width="0.6" stroke-linecap="butt"/>
<line x1="308.9" y1="144.08" x2="310.9" y2="144.08" stroke="#1a1a1a" stroke-width="0.6" stroke-linecap="butt"/>
<line x1="308.9" y1="142.98" x2="310.9" y2="142.98" stroke="#1a1a1a" stroke-width="0.6" stroke-linecap="butt"/>
<line x1="308.9" y1="142.05" x2="310.9" y2="142.05" stroke="#1a1a1a" stroke-width="0.6" stroke-linecap="butt"/>
<line x1="308.9" y1="141.25" x2="310.9" y2="141.25" stroke="#1a1a1a" stroke-width="0.6" stroke-linecap="butt"/>
<line x1="308.9" y1="140.54" x2="310.9" y2="140.54" stroke="#1a1a1a" stroke-width="0.6" stroke-linecap="butt"/>
<line x1="307.4" y1="139.9" x2="310.9" y2="139.9" stroke="#1a1a1a" stroke-width="1.4" stroke-linecap="butt"/>
<text transform="translate(306.3,142.7) scale(1.05,1)" font-size="8.6" text-anchor="end" fill="#1a1a1a">10<tspan dx="0" dy="-2.6" font-size="6">8</tspan></text>
<line x1="308.9" y1="135.72" x2="310.9" y2="135.72" stroke="#1a1a1a" stroke-width="0.6" stroke-linecap="butt"/>
<line x1="308.9" y1="133.27" x2="310.9" y2="133.27" stroke="#1a1a1a" stroke-width="0.6" stroke-linecap="butt"/>
<line x1="308.9" y1="131.53" x2="310.9" y2="131.53" stroke="#1a1a1a" stroke-width="0.6" stroke-linecap="butt"/>
<line x1="308.9" y1="130.18" x2="310.9" y2="130.18" stroke="#1a1a1a" stroke-width="0.6" stroke-linecap="butt"/>
<line x1="308.9" y1="129.08" x2="310.9" y2="129.08" stroke="#1a1a1a" stroke-width="0.6" stroke-linecap="butt"/>
<line x1="308.9" y1="128.15" x2="310.9" y2="128.15" stroke="#1a1a1a" stroke-width="0.6" stroke-linecap="butt"/>
<line x1="308.9" y1="127.35" x2="310.9" y2="127.35" stroke="#1a1a1a" stroke-width="0.6" stroke-linecap="butt"/>
<line x1="308.9" y1="126.64" x2="310.9" y2="126.64" stroke="#1a1a1a" stroke-width="0.6" stroke-linecap="butt"/>
<line x1="307.4" y1="126" x2="310.9" y2="126" stroke="#1a1a1a" stroke-width="1.4" stroke-linecap="butt"/>
<text transform="translate(306.3,128.8) scale(1.05,1)" font-size="8.6" text-anchor="end" fill="#1a1a1a">10<tspan dx="0" dy="-2.6" font-size="6">9</tspan></text>
<line x1="310.25" y1="212.5" x2="406.9" y2="212.5" stroke="#1a1a1a" stroke-width="1.3" stroke-linecap="butt"/>
<line x1="317.5" y1="212.5" x2="317.5" y2="215.5" stroke="#1a1a1a" stroke-width="1.3" stroke-linecap="butt"/>
<text transform="translate(317.5,224.6) scale(0.95,1)" font-size="8.2" text-anchor="middle" fill="#1a1a1a" >0</text>
<line x1="328.68" y1="212.5" x2="328.68" y2="215.5" stroke="#1a1a1a" stroke-width="1.3" stroke-linecap="butt"/>
<text transform="translate(328.68,224.6) scale(0.95,1)" font-size="8.2" text-anchor="middle" fill="#1a1a1a" >5</text>
<line x1="339.85" y1="212.5" x2="339.85" y2="215.5" stroke="#1a1a1a" stroke-width="1.3" stroke-linecap="butt"/>
<text transform="translate(339.85,224.6) scale(0.95,1)" font-size="8.2" text-anchor="middle" fill="#1a1a1a" >10</text>
<line x1="351.02" y1="212.5" x2="351.02" y2="215.5" stroke="#1a1a1a" stroke-width="1.3" stroke-linecap="butt"/>
<text transform="translate(351.02,224.6) scale(0.95,1)" font-size="8.2" text-anchor="middle" fill="#1a1a1a" >15</text>
<line x1="362.2" y1="212.5" x2="362.2" y2="215.5" stroke="#1a1a1a" stroke-width="1.3" stroke-linecap="butt"/>
<text transform="translate(362.2,224.6) scale(0.95,1)" font-size="8.2" text-anchor="middle" fill="#1a1a1a" >20</text>
<line x1="373.38" y1="212.5" x2="373.38" y2="215.5" stroke="#1a1a1a" stroke-width="1.3" stroke-linecap="butt"/>
<text transform="translate(373.38,224.6) scale(0.95,1)" font-size="8.2" text-anchor="middle" fill="#1a1a1a" >25</text>
<line x1="384.55" y1="212.5" x2="384.55" y2="215.5" stroke="#1a1a1a" stroke-width="1.3" stroke-linecap="butt"/>
<text transform="translate(384.55,224.6) scale(0.95,1)" font-size="8.2" text-anchor="middle" fill="#1a1a1a" >30</text>
<line x1="395.73" y1="212.5" x2="395.73" y2="215.5" stroke="#1a1a1a" stroke-width="1.3" stroke-linecap="butt"/>
<text transform="translate(395.73,224.6) scale(0.95,1)" font-size="8.2" text-anchor="middle" fill="#1a1a1a" >35</text>
<line x1="406.9" y1="212.5" x2="406.9" y2="215.5" stroke="#1a1a1a" stroke-width="1.3" stroke-linecap="butt"/>
<text transform="translate(406.9,224.6) scale(0.95,1)" font-size="8.2" text-anchor="middle" fill="#1a1a1a" >40</text>
<line x1="348.79" y1="126" x2="348.79" y2="212" stroke="#222" stroke-width="1.1" stroke-linecap="butt" stroke-dasharray="1.2,1.6"/>
<text transform="translate(361.3,121.9)" font-size="12.3" text-anchor="middle" fill="#1a1a1a" >CAR</text>
<polyline points="317.5,195.78 324.2,180.07 333.14,162.56 339.85,153.8 348.79,138.93 355.5,132.81" fill="none" stroke="#c6c212" stroke-width="0.8" stroke-linejoin="round"/>
<rect x="315.9" y="194.18" width="3.2" height="3.2" fill="#c6c212"/>
<rect x="322.6" y="178.47" width="3.2" height="3.2" fill="#c6c212"/>
<rect x="331.54" y="160.96" width="3.2" height="3.2" fill="#c6c212"/>
<rect x="338.25" y="152.2" width="3.2" height="3.2" fill="#c6c212"/>
<rect x="347.19" y="137.33" width="3.2" height="3.2" fill="#c6c212"/>
<rect x="353.89" y="131.21" width="3.2" height="3.2" fill="#c6c212"/>
<polyline points="317.5,199.67 324.2,187.16 333.14,163.53 339.85,159.08 348.79,145.88 355.5,140.73" fill="none" stroke="#c6c212" stroke-width="0.8" stroke-linejoin="round"/>
<rect x="315.9" y="198.07" width="3.2" height="3.2" fill="#c6c212"/>
<rect x="322.6" y="185.56" width="3.2" height="3.2" fill="#c6c212"/>
<rect x="331.54" y="161.93" width="3.2" height="3.2" fill="#c6c212"/>
<rect x="338.25" y="157.48" width="3.2" height="3.2" fill="#c6c212"/>
<rect x="347.19" y="144.28" width="3.2" height="3.2" fill="#c6c212"/>
<rect x="353.89" y="139.13" width="3.2" height="3.2" fill="#c6c212"/>
<polyline points="317.5,201.06 324.2,194.94 333.14,170.48 339.85,164.22 348.79,152.97 355.5,146.85" fill="none" stroke="#c6c212" stroke-width="0.8" stroke-linejoin="round"/>
<rect x="315.9" y="199.46" width="3.2" height="3.2" fill="#c6c212"/>
<rect x="322.6" y="193.34" width="3.2" height="3.2" fill="#c6c212"/>
<rect x="331.54" y="168.88" width="3.2" height="3.2" fill="#c6c212"/>
<rect x="338.25" y="162.62" width="3.2" height="3.2" fill="#c6c212"/>
<rect x="347.19" y="151.37" width="3.2" height="3.2" fill="#c6c212"/>
<rect x="353.89" y="145.25" width="3.2" height="3.2" fill="#c6c212"/>
<polyline points="317.5,203.7 324.2,202.87 333.14,177.43 339.85,169.65 348.79,156.44 362.2,134.48" fill="none" stroke="#c6c212" stroke-width="0.8" stroke-linejoin="round"/>
<rect x="315.9" y="202.1" width="3.2" height="3.2" fill="#c6c212"/>
<rect x="322.6" y="201.27" width="3.2" height="3.2" fill="#c6c212"/>
<rect x="331.54" y="175.83" width="3.2" height="3.2" fill="#c6c212"/>
<rect x="338.25" y="168.05" width="3.2" height="3.2" fill="#c6c212"/>
<rect x="347.19" y="154.84" width="3.2" height="3.2" fill="#c6c212"/>
<rect x="360.6" y="132.88" width="3.2" height="3.2" fill="#c6c212"/>
<polyline points="317.5,202.45 324.2,202.45 333.14,174.79 339.85,169.09 348.79,155.19" fill="none" stroke="#c6c212" stroke-width="0.8" stroke-linejoin="round"/>
<rect x="315.9" y="200.85" width="3.2" height="3.2" fill="#c6c212"/>
<rect x="322.6" y="200.85" width="3.2" height="3.2" fill="#c6c212"/>
<rect x="331.54" y="173.19" width="3.2" height="3.2" fill="#c6c212"/>
<rect x="338.25" y="167.49" width="3.2" height="3.2" fill="#c6c212"/>
<rect x="347.19" y="153.59" width="3.2" height="3.2" fill="#c6c212"/>
<line x1="438.8" y1="125.5" x2="438.8" y2="213" stroke="#1a1a1a" stroke-width="1" stroke-linecap="butt"/>
<line x1="435.3" y1="209.4" x2="438.8" y2="209.4" stroke="#1a1a1a" stroke-width="1.4" stroke-linecap="butt"/>
<text transform="translate(434.2,212.2) scale(1.05,1)" font-size="8.6" text-anchor="end" fill="#1a1a1a">10<tspan dx="0" dy="-2.6" font-size="6">3</tspan></text>
<line x1="436.8" y1="205.22" x2="438.8" y2="205.22" stroke="#1a1a1a" stroke-width="0.6" stroke-linecap="butt"/>
<line x1="436.8" y1="202.77" x2="438.8" y2="202.77" stroke="#1a1a1a" stroke-width="0.6" stroke-linecap="butt"/>
<line x1="436.8" y1="201.03" x2="438.8" y2="201.03" stroke="#1a1a1a" stroke-width="0.6" stroke-linecap="butt"/>
<line x1="436.8" y1="199.68" x2="438.8" y2="199.68" stroke="#1a1a1a" stroke-width="0.6" stroke-linecap="butt"/>
<line x1="436.8" y1="198.58" x2="438.8" y2="198.58" stroke="#1a1a1a" stroke-width="0.6" stroke-linecap="butt"/>
<line x1="436.8" y1="197.65" x2="438.8" y2="197.65" stroke="#1a1a1a" stroke-width="0.6" stroke-linecap="butt"/>
<line x1="436.8" y1="196.85" x2="438.8" y2="196.85" stroke="#1a1a1a" stroke-width="0.6" stroke-linecap="butt"/>
<line x1="436.8" y1="196.14" x2="438.8" y2="196.14" stroke="#1a1a1a" stroke-width="0.6" stroke-linecap="butt"/>
<line x1="435.3" y1="195.5" x2="438.8" y2="195.5" stroke="#1a1a1a" stroke-width="1.4" stroke-linecap="butt"/>
<text transform="translate(434.2,198.3) scale(1.05,1)" font-size="8.6" text-anchor="end" fill="#1a1a1a">10<tspan dx="0" dy="-2.6" font-size="6">4</tspan></text>
<line x1="436.8" y1="191.32" x2="438.8" y2="191.32" stroke="#1a1a1a" stroke-width="0.6" stroke-linecap="butt"/>
<line x1="436.8" y1="188.87" x2="438.8" y2="188.87" stroke="#1a1a1a" stroke-width="0.6" stroke-linecap="butt"/>
<line x1="436.8" y1="187.13" x2="438.8" y2="187.13" stroke="#1a1a1a" stroke-width="0.6" stroke-linecap="butt"/>
<line x1="436.8" y1="185.78" x2="438.8" y2="185.78" stroke="#1a1a1a" stroke-width="0.6" stroke-linecap="butt"/>
<line x1="436.8" y1="184.68" x2="438.8" y2="184.68" stroke="#1a1a1a" stroke-width="0.6" stroke-linecap="butt"/>
<line x1="436.8" y1="183.75" x2="438.8" y2="183.75" stroke="#1a1a1a" stroke-width="0.6" stroke-linecap="butt"/>
<line x1="436.8" y1="182.95" x2="438.8" y2="182.95" stroke="#1a1a1a" stroke-width="0.6" stroke-linecap="butt"/>
<line x1="436.8" y1="182.24" x2="438.8" y2="182.24" stroke="#1a1a1a" stroke-width="0.6" stroke-linecap="butt"/>
<line x1="435.3" y1="181.6" x2="438.8" y2="181.6" stroke="#1a1a1a" stroke-width="1.4" stroke-linecap="butt"/>
<text transform="translate(434.2,184.4) scale(1.05,1)" font-size="8.6" text-anchor="end" fill="#1a1a1a">10<tspan dx="0" dy="-2.6" font-size="6">5</tspan></text>
<line x1="436.8" y1="177.42" x2="438.8" y2="177.42" stroke="#1a1a1a" stroke-width="0.6" stroke-linecap="butt"/>
<line x1="436.8" y1="174.97" x2="438.8" y2="174.97" stroke="#1a1a1a" stroke-width="0.6" stroke-linecap="butt"/>
<line x1="436.8" y1="173.23" x2="438.8" y2="173.23" stroke="#1a1a1a" stroke-width="0.6" stroke-linecap="butt"/>
<line x1="436.8" y1="171.88" x2="438.8" y2="171.88" stroke="#1a1a1a" stroke-width="0.6" stroke-linecap="butt"/>
<line x1="436.8" y1="170.78" x2="438.8" y2="170.78" stroke="#1a1a1a" stroke-width="0.6" stroke-linecap="butt"/>
<line x1="436.8" y1="169.85" x2="438.8" y2="169.85" stroke="#1a1a1a" stroke-width="0.6" stroke-linecap="butt"/>
<line x1="436.8" y1="169.05" x2="438.8" y2="169.05" stroke="#1a1a1a" stroke-width="0.6" stroke-linecap="butt"/>
<line x1="436.8" y1="168.34" x2="438.8" y2="168.34" stroke="#1a1a1a" stroke-width="0.6" stroke-linecap="butt"/>
<line x1="435.3" y1="167.7" x2="438.8" y2="167.7" stroke="#1a1a1a" stroke-width="1.4" stroke-linecap="butt"/>
<text transform="translate(434.2,170.5) scale(1.05,1)" font-size="8.6" text-anchor="end" fill="#1a1a1a">10<tspan dx="0" dy="-2.6" font-size="6">6</tspan></text>
<line x1="436.8" y1="163.52" x2="438.8" y2="163.52" stroke="#1a1a1a" stroke-width="0.6" stroke-linecap="butt"/>
<line x1="436.8" y1="161.07" x2="438.8" y2="161.07" stroke="#1a1a1a" stroke-width="0.6" stroke-linecap="butt"/>
<line x1="436.8" y1="159.33" x2="438.8" y2="159.33" stroke="#1a1a1a" stroke-width="0.6" stroke-linecap="butt"/>
<line x1="436.8" y1="157.98" x2="438.8" y2="157.98" stroke="#1a1a1a" stroke-width="0.6" stroke-linecap="butt"/>
<line x1="436.8" y1="156.88" x2="438.8" y2="156.88" stroke="#1a1a1a" stroke-width="0.6" stroke-linecap="butt"/>
<line x1="436.8" y1="155.95" x2="438.8" y2="155.95" stroke="#1a1a1a" stroke-width="0.6" stroke-linecap="butt"/>
<line x1="436.8" y1="155.15" x2="438.8" y2="155.15" stroke="#1a1a1a" stroke-width="0.6" stroke-linecap="butt"/>
<line x1="436.8" y1="154.44" x2="438.8" y2="154.44" stroke="#1a1a1a" stroke-width="0.6" stroke-linecap="butt"/>
<line x1="435.3" y1="153.8" x2="438.8" y2="153.8" stroke="#1a1a1a" stroke-width="1.4" stroke-linecap="butt"/>
<text transform="translate(434.2,156.6) scale(1.05,1)" font-size="8.6" text-anchor="end" fill="#1a1a1a">10<tspan dx="0" dy="-2.6" font-size="6">7</tspan></text>
<line x1="436.8" y1="149.62" x2="438.8" y2="149.62" stroke="#1a1a1a" stroke-width="0.6" stroke-linecap="butt"/>
<line x1="436.8" y1="147.17" x2="438.8" y2="147.17" stroke="#1a1a1a" stroke-width="0.6" stroke-linecap="butt"/>
<line x1="436.8" y1="145.43" x2="438.8" y2="145.43" stroke="#1a1a1a" stroke-width="0.6" stroke-linecap="butt"/>
<line x1="436.8" y1="144.08" x2="438.8" y2="144.08" stroke="#1a1a1a" stroke-width="0.6" stroke-linecap="butt"/>
<line x1="436.8" y1="142.98" x2="438.8" y2="142.98" stroke="#1a1a1a" stroke-width="0.6" stroke-linecap="butt"/>
<line x1="436.8" y1="142.05" x2="438.8" y2="142.05" stroke="#1a1a1a" stroke-width="0.6" stroke-linecap="butt"/>
<line x1="436.8" y1="141.25" x2="438.8" y2="141.25" stroke="#1a1a1a" stroke-width="0.6" stroke-linecap="butt"/>
<line x1="436.8" y1="140.54" x2="438.8" y2="140.54" stroke="#1a1a1a" stroke-width="0.6" stroke-linecap="butt"/>
<line x1="435.3" y1="139.9" x2="438.8" y2="139.9" stroke="#1a1a1a" stroke-width="1.4" stroke-linecap="butt"/>
<text transform="translate(434.2,142.7) scale(1.05,1)" font-size="8.6" text-anchor="end" fill="#1a1a1a">10<tspan dx="0" dy="-2.6" font-size="6">8</tspan></text>
<line x1="436.8" y1="135.72" x2="438.8" y2="135.72" stroke="#1a1a1a" stroke-width="0.6" stroke-linecap="butt"/>
<line x1="436.8" y1="133.27" x2="438.8" y2="133.27" stroke="#1a1a1a" stroke-width="0.6" stroke-linecap="butt"/>
<line x1="436.8" y1="131.53" x2="438.8" y2="131.53" stroke="#1a1a1a" stroke-width="0.6" stroke-linecap="butt"/>
<line x1="436.8" y1="130.18" x2="438.8" y2="130.18" stroke="#1a1a1a" stroke-width="0.6" stroke-linecap="butt"/>
<line x1="436.8" y1="129.08" x2="438.8" y2="129.08" stroke="#1a1a1a" stroke-width="0.6" stroke-linecap="butt"/>
<line x1="436.8" y1="128.15" x2="438.8" y2="128.15" stroke="#1a1a1a" stroke-width="0.6" stroke-linecap="butt"/>
<line x1="436.8" y1="127.35" x2="438.8" y2="127.35" stroke="#1a1a1a" stroke-width="0.6" stroke-linecap="butt"/>
<line x1="436.8" y1="126.64" x2="438.8" y2="126.64" stroke="#1a1a1a" stroke-width="0.6" stroke-linecap="butt"/>
<line x1="435.3" y1="126" x2="438.8" y2="126" stroke="#1a1a1a" stroke-width="1.4" stroke-linecap="butt"/>
<text transform="translate(434.2,128.8) scale(1.05,1)" font-size="8.6" text-anchor="end" fill="#1a1a1a">10<tspan dx="0" dy="-2.6" font-size="6">9</tspan></text>
<line x1="438.15" y1="212.5" x2="538.6" y2="212.5" stroke="#1a1a1a" stroke-width="1.3" stroke-linecap="butt"/>
<line x1="445.8" y1="212.5" x2="445.8" y2="215.5" stroke="#1a1a1a" stroke-width="1.3" stroke-linecap="butt"/>
<text transform="translate(445.8,224.6) scale(0.95,1)" font-size="8.2" text-anchor="middle" fill="#1a1a1a" >0</text>
<line x1="457.4" y1="212.5" x2="457.4" y2="215.5" stroke="#1a1a1a" stroke-width="1.3" stroke-linecap="butt"/>
<text transform="translate(457.4,224.6) scale(0.95,1)" font-size="8.2" text-anchor="middle" fill="#1a1a1a" >5</text>
<line x1="469" y1="212.5" x2="469" y2="215.5" stroke="#1a1a1a" stroke-width="1.3" stroke-linecap="butt"/>
<text transform="translate(469,224.6) scale(0.95,1)" font-size="8.2" text-anchor="middle" fill="#1a1a1a" >10</text>
<line x1="480.6" y1="212.5" x2="480.6" y2="215.5" stroke="#1a1a1a" stroke-width="1.3" stroke-linecap="butt"/>
<text transform="translate(480.6,224.6) scale(0.95,1)" font-size="8.2" text-anchor="middle" fill="#1a1a1a" >15</text>
<line x1="492.2" y1="212.5" x2="492.2" y2="215.5" stroke="#1a1a1a" stroke-width="1.3" stroke-linecap="butt"/>
<text transform="translate(492.2,224.6) scale(0.95,1)" font-size="8.2" text-anchor="middle" fill="#1a1a1a" >20</text>
<line x1="503.8" y1="212.5" x2="503.8" y2="215.5" stroke="#1a1a1a" stroke-width="1.3" stroke-linecap="butt"/>
<text transform="translate(503.8,224.6) scale(0.95,1)" font-size="8.2" text-anchor="middle" fill="#1a1a1a" >25</text>
<line x1="515.4" y1="212.5" x2="515.4" y2="215.5" stroke="#1a1a1a" stroke-width="1.3" stroke-linecap="butt"/>
<text transform="translate(515.4,224.6) scale(0.95,1)" font-size="8.2" text-anchor="middle" fill="#1a1a1a" >30</text>
<line x1="527" y1="212.5" x2="527" y2="215.5" stroke="#1a1a1a" stroke-width="1.3" stroke-linecap="butt"/>
<text transform="translate(527,224.6) scale(0.95,1)" font-size="8.2" text-anchor="middle" fill="#1a1a1a" >35</text>
<line x1="538.6" y1="212.5" x2="538.6" y2="215.5" stroke="#1a1a1a" stroke-width="1.3" stroke-linecap="butt"/>
<text transform="translate(538.6,224.6) scale(0.95,1)" font-size="8.2" text-anchor="middle" fill="#1a1a1a" >40</text>
<line x1="478.28" y1="126" x2="478.28" y2="212" stroke="#222" stroke-width="1.1" stroke-linecap="butt" stroke-dasharray="1.2,1.6"/>
<text transform="translate(490.5,121.9)" font-size="12.3" text-anchor="middle" fill="#1a1a1a" >CAR.&#916;SSR</text>
<polyline points="445.8,198.28 452.76,191.33 462.04,176.04 469,160.75 478.28,141.57 485.24,138.93" fill="none" stroke="#ff1a1a" stroke-width="0.8" stroke-linejoin="round"/>
<path d="M445.8,196.44L447.56,199.56L444.04,199.56Z" fill="#ff1a1a"/>
<path d="M452.76,189.49L454.52,192.61L451,192.61Z" fill="#ff1a1a"/>
<path d="M462.04,174.2L463.8,177.32L460.28,177.32Z" fill="#ff1a1a"/>
<path d="M469,158.91L470.76,162.03L467.24,162.03Z" fill="#ff1a1a"/>
<path d="M478.28,139.73L480.04,142.85L476.52,142.85Z" fill="#ff1a1a"/>
<path d="M485.24,137.09L487,140.21L483.48,140.21Z" fill="#ff1a1a"/>
<polyline points="445.8,199.67 452.76,192.72 462.04,177.43 469,163.53 478.28,147.54 485.24,141.99" fill="none" stroke="#ff1a1a" stroke-width="0.8" stroke-linejoin="round"/>
<path d="M445.8,197.83L447.56,200.95L444.04,200.95Z" fill="#ff1a1a"/>
<path d="M452.76,190.88L454.52,194L451,194Z" fill="#ff1a1a"/>
<path d="M462.04,175.59L463.8,178.71L460.28,178.71Z" fill="#ff1a1a"/>
<path d="M469,161.69L470.76,164.81L467.24,164.81Z" fill="#ff1a1a"/>
<path d="M478.28,145.7L480.04,148.82L476.52,148.82Z" fill="#ff1a1a"/>
<path d="M485.24,140.15L487,143.27L483.48,143.27Z" fill="#ff1a1a"/>
<polyline points="445.8,201.06 452.76,195.5 462.04,178.82 469,166.31 478.28,150.32 485.24,145.46" fill="none" stroke="#ff1a1a" stroke-width="0.8" stroke-linejoin="round"/>
<path d="M445.8,199.22L447.56,202.34L444.04,202.34Z" fill="#ff1a1a"/>
<path d="M452.76,193.66L454.52,196.78L451,196.78Z" fill="#ff1a1a"/>
<path d="M462.04,176.98L463.8,180.1L460.28,180.1Z" fill="#ff1a1a"/>
<path d="M469,164.47L470.76,167.59L467.24,167.59Z" fill="#ff1a1a"/>
<path d="M478.28,148.48L480.04,151.6L476.52,151.6Z" fill="#ff1a1a"/>
<path d="M485.24,143.62L487,146.74L483.48,146.74Z" fill="#ff1a1a"/>
<polyline points="445.8,202.45 452.76,196.89 462.04,180.21 469,169.09 478.28,152.41 485.24,147.54" fill="none" stroke="#ff1a1a" stroke-width="0.8" stroke-linejoin="round"/>
<path d="M445.8,200.61L447.56,203.73L444.04,203.73Z" fill="#ff1a1a"/>
<path d="M452.76,195.05L454.52,198.17L451,198.17Z" fill="#ff1a1a"/>
<path d="M462.04,178.37L463.8,181.49L460.28,181.49Z" fill="#ff1a1a"/>
<path d="M469,167.25L470.76,170.37L467.24,170.37Z" fill="#ff1a1a"/>
<path d="M478.28,150.57L480.04,153.69L476.52,153.69Z" fill="#ff1a1a"/>
<path d="M485.24,145.7L487,148.82L483.48,148.82Z" fill="#ff1a1a"/>
<polyline points="445.8,202.87 452.76,203.7 462.04,181.04 469,178.26 478.28,158.25 485.24,150.32" fill="none" stroke="#ff1a1a" stroke-width="0.8" stroke-linejoin="round"/>
<path d="M445.8,201.03L447.56,204.15L444.04,204.15Z" fill="#ff1a1a"/>
<path d="M452.76,201.86L454.52,204.98L451,204.98Z" fill="#ff1a1a"/>
<path d="M462.04,179.2L463.8,182.32L460.28,182.32Z" fill="#ff1a1a"/>
<path d="M469,176.42L470.76,179.54L467.24,179.54Z" fill="#ff1a1a"/>
<path d="M478.28,156.41L480.04,159.53L476.52,159.53Z" fill="#ff1a1a"/>
<path d="M485.24,148.48L487,151.6L483.48,151.6Z" fill="#ff1a1a"/>
<polyline points="445.8,197.59 452.76,194.11 462.04,177.43 469,167.7 478.28,153.8 485.24,149.63" fill="none" stroke="#ff1a1a" stroke-width="0.8" stroke-linejoin="round"/>
<path d="M445.8,195.75L447.56,198.87L444.04,198.87Z" fill="#ff1a1a"/>
<path d="M452.76,192.27L454.52,195.39L451,195.39Z" fill="#ff1a1a"/>
<path d="M462.04,175.59L463.8,178.71L460.28,178.71Z" fill="#ff1a1a"/>
<path d="M469,165.86L470.76,168.98L467.24,168.98Z" fill="#ff1a1a"/>
<path d="M478.28,151.96L480.04,155.08L476.52,155.08Z" fill="#ff1a1a"/>
<path d="M485.24,147.79L487,150.91L483.48,150.91Z" fill="#ff1a1a"/>
<line x1="568.8" y1="125.5" x2="568.8" y2="213" stroke="#1a1a1a" stroke-width="1" stroke-linecap="butt"/>
<line x1="565.3" y1="209.4" x2="568.8" y2="209.4" stroke="#1a1a1a" stroke-width="1.4" stroke-linecap="butt"/>
<text transform="translate(564.2,212.2) scale(1.05,1)" font-size="8.6" text-anchor="end" fill="#1a1a1a">10<tspan dx="0" dy="-2.6" font-size="6">3</tspan></text>
<line x1="566.8" y1="205.22" x2="568.8" y2="205.22" stroke="#1a1a1a" stroke-width="0.6" stroke-linecap="butt"/>
<line x1="566.8" y1="202.77" x2="568.8" y2="202.77" stroke="#1a1a1a" stroke-width="0.6" stroke-linecap="butt"/>
<line x1="566.8" y1="201.03" x2="568.8" y2="201.03" stroke="#1a1a1a" stroke-width="0.6" stroke-linecap="butt"/>
<line x1="566.8" y1="199.68" x2="568.8" y2="199.68" stroke="#1a1a1a" stroke-width="0.6" stroke-linecap="butt"/>
<line x1="566.8" y1="198.58" x2="568.8" y2="198.58" stroke="#1a1a1a" stroke-width="0.6" stroke-linecap="butt"/>
<line x1="566.8" y1="197.65" x2="568.8" y2="197.65" stroke="#1a1a1a" stroke-width="0.6" stroke-linecap="butt"/>
<line x1="566.8" y1="196.85" x2="568.8" y2="196.85" stroke="#1a1a1a" stroke-width="0.6" stroke-linecap="butt"/>
<line x1="566.8" y1="196.14" x2="568.8" y2="196.14" stroke="#1a1a1a" stroke-width="0.6" stroke-linecap="butt"/>
<line x1="565.3" y1="195.5" x2="568.8" y2="195.5" stroke="#1a1a1a" stroke-width="1.4" stroke-linecap="butt"/>
<text transform="translate(564.2,198.3) scale(1.05,1)" font-size="8.6" text-anchor="end" fill="#1a1a1a">10<tspan dx="0" dy="-2.6" font-size="6">4</tspan></text>
<line x1="566.8" y1="191.32" x2="568.8" y2="191.32" stroke="#1a1a1a" stroke-width="0.6" stroke-linecap="butt"/>
<line x1="566.8" y1="188.87" x2="568.8" y2="188.87" stroke="#1a1a1a" stroke-width="0.6" stroke-linecap="butt"/>
<line x1="566.8" y1="187.13" x2="568.8" y2="187.13" stroke="#1a1a1a" stroke-width="0.6" stroke-linecap="butt"/>
<line x1="566.8" y1="185.78" x2="568.8" y2="185.78" stroke="#1a1a1a" stroke-width="0.6" stroke-linecap="butt"/>
<line x1="566.8" y1="184.68" x2="568.8" y2="184.68" stroke="#1a1a1a" stroke-width="0.6" stroke-linecap="butt"/>
<line x1="566.8" y1="183.75" x2="568.8" y2="183.75" stroke="#1a1a1a" stroke-width="0.6" stroke-linecap="butt"/>
<line x1="566.8" y1="182.95" x2="568.8" y2="182.95" stroke="#1a1a1a" stroke-width="0.6" stroke-linecap="butt"/>
<line x1="566.8" y1="182.24" x2="568.8" y2="182.24" stroke="#1a1a1a" stroke-width="0.6" stroke-linecap="butt"/>
<line x1="565.3" y1="181.6" x2="568.8" y2="181.6" stroke="#1a1a1a" stroke-width="1.4" stroke-linecap="butt"/>
<text transform="translate(564.2,184.4) scale(1.05,1)" font-size="8.6" text-anchor="end" fill="#1a1a1a">10<tspan dx="0" dy="-2.6" font-size="6">5</tspan></text>
<line x1="566.8" y1="177.42" x2="568.8" y2="177.42" stroke="#1a1a1a" stroke-width="0.6" stroke-linecap="butt"/>
<line x1="566.8" y1="174.97" x2="568.8" y2="174.97" stroke="#1a1a1a" stroke-width="0.6" stroke-linecap="butt"/>
<line x1="566.8" y1="173.23" x2="568.8" y2="173.23" stroke="#1a1a1a" stroke-width="0.6" stroke-linecap="butt"/>
<line x1="566.8" y1="171.88" x2="568.8" y2="171.88" stroke="#1a1a1a" stroke-width="0.6" stroke-linecap="butt"/>
<line x1="566.8" y1="170.78" x2="568.8" y2="170.78" stroke="#1a1a1a" stroke-width="0.6" stroke-linecap="butt"/>
<line x1="566.8" y1="169.85" x2="568.8" y2="169.85" stroke="#1a1a1a" stroke-width="0.6" stroke-linecap="butt"/>
<line x1="566.8" y1="169.05" x2="568.8" y2="169.05" stroke="#1a1a1a" stroke-width="0.6" stroke-linecap="butt"/>
<line x1="566.8" y1="168.34" x2="568.8" y2="168.34" stroke="#1a1a1a" stroke-width="0.6" stroke-linecap="butt"/>
<line x1="565.3" y1="167.7" x2="568.8" y2="167.7" stroke="#1a1a1a" stroke-width="1.4" stroke-linecap="butt"/>
<text transform="translate(564.2,170.5) scale(1.05,1)" font-size="8.6" text-anchor="end" fill="#1a1a1a">10<tspan dx="0" dy="-2.6" font-size="6">6</tspan></text>
<line x1="566.8" y1="163.52" x2="568.8" y2="163.52" stroke="#1a1a1a" stroke-width="0.6" stroke-linecap="butt"/>
<line x1="566.8" y1="161.07" x2="568.8" y2="161.07" stroke="#1a1a1a" stroke-width="0.6" stroke-linecap="butt"/>
<line x1="566.8" y1="159.33" x2="568.8" y2="159.33" stroke="#1a1a1a" stroke-width="0.6" stroke-linecap="butt"/>
<line x1="566.8" y1="157.98" x2="568.8" y2="157.98" stroke="#1a1a1a" stroke-width="0.6" stroke-linecap="butt"/>
<line x1="566.8" y1="156.88" x2="568.8" y2="156.88" stroke="#1a1a1a" stroke-width="0.6" stroke-linecap="butt"/>
<line x1="566.8" y1="155.95" x2="568.8" y2="155.95" stroke="#1a1a1a" stroke-width="0.6" stroke-linecap="butt"/>
<line x1="566.8" y1="155.15" x2="568.8" y2="155.15" stroke="#1a1a1a" stroke-width="0.6" stroke-linecap="butt"/>
<line x1="566.8" y1="154.44" x2="568.8" y2="154.44" stroke="#1a1a1a" stroke-width="0.6" stroke-linecap="butt"/>
<line x1="565.3" y1="153.8" x2="568.8" y2="153.8" stroke="#1a1a1a" stroke-width="1.4" stroke-linecap="butt"/>
<text transform="translate(564.2,156.6) scale(1.05,1)" font-size="8.6" text-anchor="end" fill="#1a1a1a">10<tspan dx="0" dy="-2.6" font-size="6">7</tspan></text>
<line x1="566.8" y1="149.62" x2="568.8" y2="149.62" stroke="#1a1a1a" stroke-width="0.6" stroke-linecap="butt"/>
<line x1="566.8" y1="147.17" x2="568.8" y2="147.17" stroke="#1a1a1a" stroke-width="0.6" stroke-linecap="butt"/>
<line x1="566.8" y1="145.43" x2="568.8" y2="145.43" stroke="#1a1a1a" stroke-width="0.6" stroke-linecap="butt"/>
<line x1="566.8" y1="144.08" x2="568.8" y2="144.08" stroke="#1a1a1a" stroke-width="0.6" stroke-linecap="butt"/>
<line x1="566.8" y1="142.98" x2="568.8" y2="142.98" stroke="#1a1a1a" stroke-width="0.6" stroke-linecap="butt"/>
<line x1="566.8" y1="142.05" x2="568.8" y2="142.05" stroke="#1a1a1a" stroke-width="0.6" stroke-linecap="butt"/>
<line x1="566.8" y1="141.25" x2="568.8" y2="141.25" stroke="#1a1a1a" stroke-width="0.6" stroke-linecap="butt"/>
<line x1="566.8" y1="140.54" x2="568.8" y2="140.54" stroke="#1a1a1a" stroke-width="0.6" stroke-linecap="butt"/>
<line x1="565.3" y1="139.9" x2="568.8" y2="139.9" stroke="#1a1a1a" stroke-width="1.4" stroke-linecap="butt"/>
<text transform="translate(564.2,142.7) scale(1.05,1)" font-size="8.6" text-anchor="end" fill="#1a1a1a">10<tspan dx="0" dy="-2.6" font-size="6">8</tspan></text>
<line x1="566.8" y1="135.72" x2="568.8" y2="135.72" stroke="#1a1a1a" stroke-width="0.6" stroke-linecap="butt"/>
<line x1="566.8" y1="133.27" x2="568.8" y2="133.27" stroke="#1a1a1a" stroke-width="0.6" stroke-linecap="butt"/>
<line x1="566.8" y1="131.53" x2="568.8" y2="131.53" stroke="#1a1a1a" stroke-width="0.6" stroke-linecap="butt"/>
<line x1="566.8" y1="130.18" x2="568.8" y2="130.18" stroke="#1a1a1a" stroke-width="0.6" stroke-linecap="butt"/>
<line x1="566.8" y1="129.08" x2="568.8" y2="129.08" stroke="#1a1a1a" stroke-width="0.6" stroke-linecap="butt"/>
<line x1="566.8" y1="128.15" x2="568.8" y2="128.15" stroke="#1a1a1a" stroke-width="0.6" stroke-linecap="butt"/>
<line x1="566.8" y1="127.35" x2="568.8" y2="127.35" stroke="#1a1a1a" stroke-width="0.6" stroke-linecap="butt"/>
<line x1="566.8" y1="126.64" x2="568.8" y2="126.64" stroke="#1a1a1a" stroke-width="0.6" stroke-linecap="butt"/>
<line x1="565.3" y1="126" x2="568.8" y2="126" stroke="#1a1a1a" stroke-width="1.4" stroke-linecap="butt"/>
<text transform="translate(564.2,128.8) scale(1.05,1)" font-size="8.6" text-anchor="end" fill="#1a1a1a">10<tspan dx="0" dy="-2.6" font-size="6">9</tspan></text>
<line x1="568.15" y1="212.5" x2="664.8" y2="212.5" stroke="#1a1a1a" stroke-width="1.3" stroke-linecap="butt"/>
<line x1="575.8" y1="212.5" x2="575.8" y2="215.5" stroke="#1a1a1a" stroke-width="1.3" stroke-linecap="butt"/>
<text transform="translate(575.8,224.6) scale(0.95,1)" font-size="8.2" text-anchor="middle" fill="#1a1a1a" >0</text>
<line x1="586.92" y1="212.5" x2="586.92" y2="215.5" stroke="#1a1a1a" stroke-width="1.3" stroke-linecap="butt"/>
<text transform="translate(586.92,224.6) scale(0.95,1)" font-size="8.2" text-anchor="middle" fill="#1a1a1a" >5</text>
<line x1="598.05" y1="212.5" x2="598.05" y2="215.5" stroke="#1a1a1a" stroke-width="1.3" stroke-linecap="butt"/>
<text transform="translate(598.05,224.6) scale(0.95,1)" font-size="8.2" text-anchor="middle" fill="#1a1a1a" >10</text>
<line x1="609.17" y1="212.5" x2="609.17" y2="215.5" stroke="#1a1a1a" stroke-width="1.3" stroke-linecap="butt"/>
<text transform="translate(609.17,224.6) scale(0.95,1)" font-size="8.2" text-anchor="middle" fill="#1a1a1a" >15</text>
<line x1="620.3" y1="212.5" x2="620.3" y2="215.5" stroke="#1a1a1a" stroke-width="1.3" stroke-linecap="butt"/>
<text transform="translate(620.3,224.6) scale(0.95,1)" font-size="8.2" text-anchor="middle" fill="#1a1a1a" >20</text>
<line x1="631.42" y1="212.5" x2="631.42" y2="215.5" stroke="#1a1a1a" stroke-width="1.3" stroke-linecap="butt"/>
<text transform="translate(631.42,224.6) scale(0.95,1)" font-size="8.2" text-anchor="middle" fill="#1a1a1a" >25</text>
<line x1="642.55" y1="212.5" x2="642.55" y2="215.5" stroke="#1a1a1a" stroke-width="1.3" stroke-linecap="butt"/>
<text transform="translate(642.55,224.6) scale(0.95,1)" font-size="8.2" text-anchor="middle" fill="#1a1a1a" >30</text>
<line x1="653.67" y1="212.5" x2="653.67" y2="215.5" stroke="#1a1a1a" stroke-width="1.3" stroke-linecap="butt"/>
<text transform="translate(653.67,224.6) scale(0.95,1)" font-size="8.2" text-anchor="middle" fill="#1a1a1a" >35</text>
<line x1="664.8" y1="212.5" x2="664.8" y2="215.5" stroke="#1a1a1a" stroke-width="1.3" stroke-linecap="butt"/>
<text transform="translate(664.8,224.6) scale(0.95,1)" font-size="8.2" text-anchor="middle" fill="#1a1a1a" >40</text>
<line x1="606.95" y1="126" x2="606.95" y2="212" stroke="#222" stroke-width="1.1" stroke-linecap="butt" stroke-dasharray="1.2,1.6"/>
<text transform="translate(622.1,121.9)" font-size="12.3" text-anchor="middle" fill="#1a1a1a" >CAR.SSR</text>
<polyline points="575.8,201.06 582.47,198.28 591.38,195.78 598.05,194.11 606.95,192.72 613.62,188.55 620.3,187.16 629.2,181.04 644.77,170.48" fill="none" stroke="#9a6526" stroke-width="0.8" stroke-linejoin="round"/>
<rect x="574.2" y="199.46" width="3.2" height="3.2" fill="#9a6526"/>
<rect x="580.87" y="196.68" width="3.2" height="3.2" fill="#9a6526"/>
<rect x="589.77" y="194.18" width="3.2" height="3.2" fill="#9a6526"/>
<rect x="596.45" y="192.51" width="3.2" height="3.2" fill="#9a6526"/>
<rect x="605.35" y="191.12" width="3.2" height="3.2" fill="#9a6526"/>
<rect x="612.02" y="186.95" width="3.2" height="3.2" fill="#9a6526"/>
<rect x="618.7" y="185.56" width="3.2" height="3.2" fill="#9a6526"/>
<rect x="627.6" y="179.44" width="3.2" height="3.2" fill="#9a6526"/>
<rect x="643.17" y="168.88" width="3.2" height="3.2" fill="#9a6526"/>
<polyline points="575.8,197.59 582.47,198.56 591.38,199.25 598.05,200.09 606.95,190.63 613.62,189.94 620.3,192.3 629.2,186.33 644.77,176.6 651.45,174.79 660.35,173.12" fill="none" stroke="#9a6526" stroke-width="0.8" stroke-linejoin="round"/>
<rect x="574.2" y="195.99" width="3.2" height="3.2" fill="#9a6526"/>
<rect x="580.87" y="196.96" width="3.2" height="3.2" fill="#9a6526"/>
<rect x="589.77" y="197.65" width="3.2" height="3.2" fill="#9a6526"/>
<rect x="596.45" y="198.49" width="3.2" height="3.2" fill="#9a6526"/>
<rect x="605.35" y="189.03" width="3.2" height="3.2" fill="#9a6526"/>
<rect x="612.02" y="188.34" width="3.2" height="3.2" fill="#9a6526"/>
<rect x="618.7" y="190.7" width="3.2" height="3.2" fill="#9a6526"/>
<rect x="627.6" y="184.73" width="3.2" height="3.2" fill="#9a6526"/>
<rect x="643.17" y="175" width="3.2" height="3.2" fill="#9a6526"/>
<rect x="649.85" y="173.19" width="3.2" height="3.2" fill="#9a6526"/>
<rect x="658.75" y="171.52" width="3.2" height="3.2" fill="#9a6526"/>
<polyline points="575.8,199.67 582.47,202.45 591.38,190.63 598.05,196.47 606.95,191.33 613.62,187.16 620.3,182.71 629.2,186.33 644.77,190.63" fill="none" stroke="#9a6526" stroke-width="0.8" stroke-linejoin="round"/>
<rect x="574.2" y="198.07" width="3.2" height="3.2" fill="#9a6526"/>
<rect x="580.87" y="200.85" width="3.2" height="3.2" fill="#9a6526"/>
<rect x="589.77" y="189.03" width="3.2" height="3.2" fill="#9a6526"/>
<rect x="596.45" y="194.87" width="3.2" height="3.2" fill="#9a6526"/>
<rect x="605.35" y="189.73" width="3.2" height="3.2" fill="#9a6526"/>
<rect x="612.02" y="185.56" width="3.2" height="3.2" fill="#9a6526"/>
<rect x="618.7" y="181.11" width="3.2" height="3.2" fill="#9a6526"/>
<rect x="627.6" y="184.73" width="3.2" height="3.2" fill="#9a6526"/>
<rect x="643.17" y="189.03" width="3.2" height="3.2" fill="#9a6526"/>
<polyline points="575.8,202.45 582.47,203.7 591.38,205.51 598.05,194.11 606.95,201.06 613.62,205.51 620.3,203.7 629.2,203.7 644.77,205.51 651.45,203.7 660.35,204.54" fill="none" stroke="#9a6526" stroke-width="0.8" stroke-linejoin="round"/>
<rect x="574.2" y="200.85" width="3.2" height="3.2" fill="#9a6526"/>
<rect x="580.87" y="202.1" width="3.2" height="3.2" fill="#9a6526"/>
<rect x="589.77" y="203.91" width="3.2" height="3.2" fill="#9a6526"/>
<rect x="596.45" y="192.51" width="3.2" height="3.2" fill="#9a6526"/>
<rect x="605.35" y="199.46" width="3.2" height="3.2" fill="#9a6526"/>
<rect x="612.02" y="203.91" width="3.2" height="3.2" fill="#9a6526"/>
<rect x="618.7" y="202.1" width="3.2" height="3.2" fill="#9a6526"/>
<rect x="627.6" y="202.1" width="3.2" height="3.2" fill="#9a6526"/>
<rect x="643.17" y="203.91" width="3.2" height="3.2" fill="#9a6526"/>
<rect x="649.85" y="202.1" width="3.2" height="3.2" fill="#9a6526"/>
<rect x="658.75" y="202.94" width="3.2" height="3.2" fill="#9a6526"/>
<polyline points="575.8,203.7 582.47,201.06 591.38,195.78 598.05,206.9 606.95,201.89 613.62,199.25 620.3,203.7 629.2,205.51 644.77,205.51 651.45,204.54 660.35,205.51" fill="none" stroke="#9a6526" stroke-width="0.8" stroke-linejoin="round"/>
<rect x="574.2" y="202.1" width="3.2" height="3.2" fill="#9a6526"/>
<rect x="580.87" y="199.46" width="3.2" height="3.2" fill="#9a6526"/>
<rect x="589.77" y="194.18" width="3.2" height="3.2" fill="#9a6526"/>
<rect x="596.45" y="205.3" width="3.2" height="3.2" fill="#9a6526"/>
<rect x="605.35" y="200.29" width="3.2" height="3.2" fill="#9a6526"/>
<rect x="612.02" y="197.65" width="3.2" height="3.2" fill="#9a6526"/>
<rect x="618.7" y="202.1" width="3.2" height="3.2" fill="#9a6526"/>
<rect x="627.6" y="203.91" width="3.2" height="3.2" fill="#9a6526"/>
<rect x="643.17" y="203.91" width="3.2" height="3.2" fill="#9a6526"/>
<rect x="649.85" y="202.94" width="3.2" height="3.2" fill="#9a6526"/>
<rect x="658.75" y="203.91" width="3.2" height="3.2" fill="#9a6526"/>
<text transform="translate(350,273)" font-size="14.1" text-anchor="middle" fill="#1a1a1a" >CAR-T expansion</text>
<line x1="45.1" y1="279.6" x2="667.5" y2="279.6" stroke="#111" stroke-width="1.8" stroke-linecap="butt"/>
<text transform="translate(23,345) rotate(-90)" font-size="12.3" text-anchor="middle" fill="#1a1a1a" >CAR-T</text>
<text transform="translate(36.9,344.2) rotate(-90) scale(1,0.85)" font-size="12.3" text-anchor="middle" fill="#1a1a1a" >expansion in PB</text>
<text transform="translate(354.6,420)" font-size="12.2" text-anchor="middle" fill="#1a1a1a" >Days post CAR T-cell infusion</text>
<line x1="60.5" y1="298" x2="60.5" y2="391.2" stroke="#1a1a1a" stroke-width="1" stroke-linecap="butt"/>
<line x1="56.5" y1="390.7" x2="60.5" y2="390.7" stroke="#1a1a1a" stroke-width="1.3" stroke-linecap="butt"/>
<text transform="translate(56.7,393.5) scale(1,1)" font-size="8.8" text-anchor="end" fill="#1a1a1a">10<tspan dx="0.8" dy="-3.3" font-size="6.2">1</tspan></text>
<line x1="58.5" y1="385.15" x2="60.5" y2="385.15" stroke="#1a1a1a" stroke-width="0.6" stroke-linecap="butt"/>
<line x1="58.5" y1="381.9" x2="60.5" y2="381.9" stroke="#1a1a1a" stroke-width="0.6" stroke-linecap="butt"/>
<line x1="58.5" y1="379.6" x2="60.5" y2="379.6" stroke="#1a1a1a" stroke-width="0.6" stroke-linecap="butt"/>
<line x1="58.5" y1="377.81" x2="60.5" y2="377.81" stroke="#1a1a1a" stroke-width="0.6" stroke-linecap="butt"/>
<line x1="58.5" y1="376.35" x2="60.5" y2="376.35" stroke="#1a1a1a" stroke-width="0.6" stroke-linecap="butt"/>
<line x1="58.5" y1="375.12" x2="60.5" y2="375.12" stroke="#1a1a1a" stroke-width="0.6" stroke-linecap="butt"/>
<line x1="58.5" y1="374.05" x2="60.5" y2="374.05" stroke="#1a1a1a" stroke-width="0.6" stroke-linecap="butt"/>
<line x1="58.5" y1="373.1" x2="60.5" y2="373.1" stroke="#1a1a1a" stroke-width="0.6" stroke-linecap="butt"/>
<line x1="56.5" y1="372.26" x2="60.5" y2="372.26" stroke="#1a1a1a" stroke-width="1.3" stroke-linecap="butt"/>
<text transform="translate(56.7,375.06) scale(1,1)" font-size="8.8" text-anchor="end" fill="#1a1a1a">10<tspan dx="0.8" dy="-3.3" font-size="6.2">2</tspan></text>
<line x1="58.5" y1="366.71" x2="60.5" y2="366.71" stroke="#1a1a1a" stroke-width="0.6" stroke-linecap="butt"/>
<line x1="58.5" y1="363.46" x2="60.5" y2="363.46" stroke="#1a1a1a" stroke-width="0.6" stroke-linecap="butt"/>
<line x1="58.5" y1="361.16" x2="60.5" y2="361.16" stroke="#1a1a1a" stroke-width="0.6" stroke-linecap="butt"/>
<line x1="58.5" y1="359.37" x2="60.5" y2="359.37" stroke="#1a1a1a" stroke-width="0.6" stroke-linecap="butt"/>
<line x1="58.5" y1="357.91" x2="60.5" y2="357.91" stroke="#1a1a1a" stroke-width="0.6" stroke-linecap="butt"/>
<line x1="58.5" y1="356.68" x2="60.5" y2="356.68" stroke="#1a1a1a" stroke-width="0.6" stroke-linecap="butt"/>
<line x1="58.5" y1="355.61" x2="60.5" y2="355.61" stroke="#1a1a1a" stroke-width="0.6" stroke-linecap="butt"/>
<line x1="58.5" y1="354.66" x2="60.5" y2="354.66" stroke="#1a1a1a" stroke-width="0.6" stroke-linecap="butt"/>
<line x1="56.5" y1="353.82" x2="60.5" y2="353.82" stroke="#1a1a1a" stroke-width="1.3" stroke-linecap="butt"/>
<text transform="translate(56.7,356.62) scale(1,1)" font-size="8.8" text-anchor="end" fill="#1a1a1a">10<tspan dx="0.8" dy="-3.3" font-size="6.2">3</tspan></text>
<line x1="58.5" y1="348.27" x2="60.5" y2="348.27" stroke="#1a1a1a" stroke-width="0.6" stroke-linecap="butt"/>
<line x1="58.5" y1="345.02" x2="60.5" y2="345.02" stroke="#1a1a1a" stroke-width="0.6" stroke-linecap="butt"/>
<line x1="58.5" y1="342.72" x2="60.5" y2="342.72" stroke="#1a1a1a" stroke-width="0.6" stroke-linecap="butt"/>
<line x1="58.5" y1="340.93" x2="60.5" y2="340.93" stroke="#1a1a1a" stroke-width="0.6" stroke-linecap="butt"/>
<line x1="58.5" y1="339.47" x2="60.5" y2="339.47" stroke="#1a1a1a" stroke-width="0.6" stroke-linecap="butt"/>
<line x1="58.5" y1="338.24" x2="60.5" y2="338.24" stroke="#1a1a1a" stroke-width="0.6" stroke-linecap="butt"/>
<line x1="58.5" y1="337.17" x2="60.5" y2="337.17" stroke="#1a1a1a" stroke-width="0.6" stroke-linecap="butt"/>
<line x1="58.5" y1="336.22" x2="60.5" y2="336.22" stroke="#1a1a1a" stroke-width="0.6" stroke-linecap="butt"/>
<line x1="56.5" y1="335.38" x2="60.5" y2="335.38" stroke="#1a1a1a" stroke-width="1.3" stroke-linecap="butt"/>
<text transform="translate(56.7,338.18) scale(1,1)" font-size="8.8" text-anchor="end" fill="#1a1a1a">10<tspan dx="0.8" dy="-3.3" font-size="6.2">4</tspan></text>
<line x1="58.5" y1="329.83" x2="60.5" y2="329.83" stroke="#1a1a1a" stroke-width="0.6" stroke-linecap="butt"/>
<line x1="58.5" y1="326.58" x2="60.5" y2="326.58" stroke="#1a1a1a" stroke-width="0.6" stroke-linecap="butt"/>
<line x1="58.5" y1="324.28" x2="60.5" y2="324.28" stroke="#1a1a1a" stroke-width="0.6" stroke-linecap="butt"/>
<line x1="58.5" y1="322.49" x2="60.5" y2="322.49" stroke="#1a1a1a" stroke-width="0.6" stroke-linecap="butt"/>
<line x1="58.5" y1="321.03" x2="60.5" y2="321.03" stroke="#1a1a1a" stroke-width="0.6" stroke-linecap="butt"/>
<line x1="58.5" y1="319.8" x2="60.5" y2="319.8" stroke="#1a1a1a" stroke-width="0.6" stroke-linecap="butt"/>
<line x1="58.5" y1="318.73" x2="60.5" y2="318.73" stroke="#1a1a1a" stroke-width="0.6" stroke-linecap="butt"/>
<line x1="58.5" y1="317.78" x2="60.5" y2="317.78" stroke="#1a1a1a" stroke-width="0.6" stroke-linecap="butt"/>
<line x1="56.5" y1="316.94" x2="60.5" y2="316.94" stroke="#1a1a1a" stroke-width="1.3" stroke-linecap="butt"/>
<text transform="translate(56.7,319.74) scale(1,1)" font-size="8.8" text-anchor="end" fill="#1a1a1a">10<tspan dx="0.8" dy="-3.3" font-size="6.2">5</tspan></text>
<line x1="58.5" y1="311.39" x2="60.5" y2="311.39" stroke="#1a1a1a" stroke-width="0.6" stroke-linecap="butt"/>
<line x1="58.5" y1="308.14" x2="60.5" y2="308.14" stroke="#1a1a1a" stroke-width="0.6" stroke-linecap="butt"/>
<line x1="58.5" y1="305.84" x2="60.5" y2="305.84" stroke="#1a1a1a" stroke-width="0.6" stroke-linecap="butt"/>
<line x1="58.5" y1="304.05" x2="60.5" y2="304.05" stroke="#1a1a1a" stroke-width="0.6" stroke-linecap="butt"/>
<line x1="58.5" y1="302.59" x2="60.5" y2="302.59" stroke="#1a1a1a" stroke-width="0.6" stroke-linecap="butt"/>
<line x1="58.5" y1="301.36" x2="60.5" y2="301.36" stroke="#1a1a1a" stroke-width="0.6" stroke-linecap="butt"/>
<line x1="58.5" y1="300.29" x2="60.5" y2="300.29" stroke="#1a1a1a" stroke-width="0.6" stroke-linecap="butt"/>
<line x1="58.5" y1="299.34" x2="60.5" y2="299.34" stroke="#1a1a1a" stroke-width="0.6" stroke-linecap="butt"/>
<line x1="56.5" y1="298.5" x2="60.5" y2="298.5" stroke="#1a1a1a" stroke-width="1.3" stroke-linecap="butt"/>
<text transform="translate(56.7,301.3) scale(1,1)" font-size="8.8" text-anchor="end" fill="#1a1a1a">10<tspan dx="0.8" dy="-3.3" font-size="6.2">6</tspan></text>
<line x1="59.9" y1="390.7" x2="147.65" y2="390.7" stroke="#1a1a1a" stroke-width="1.2" stroke-linecap="butt"/>
<line x1="60.5" y1="390.7" x2="60.5" y2="394.3" stroke="#1a1a1a" stroke-width="1.2" stroke-linecap="butt"/>
<text transform="translate(60.5,403.9) scale(0.8,1)" font-size="9.6" text-anchor="middle" fill="#1a1a1a" >0</text>
<line x1="72.95" y1="390.7" x2="72.95" y2="394.3" stroke="#1a1a1a" stroke-width="1.2" stroke-linecap="butt"/>
<text transform="translate(72.95,403.9) scale(0.8,1)" font-size="9.6" text-anchor="middle" fill="#1a1a1a" >5</text>
<line x1="85.4" y1="390.7" x2="85.4" y2="394.3" stroke="#1a1a1a" stroke-width="1.2" stroke-linecap="butt"/>
<text transform="translate(85.4,403.9) scale(0.8,1)" font-size="9.6" text-anchor="middle" fill="#1a1a1a" >10</text>
<line x1="97.85" y1="390.7" x2="97.85" y2="394.3" stroke="#1a1a1a" stroke-width="1.2" stroke-linecap="butt"/>
<text transform="translate(97.85,403.9) scale(0.8,1)" font-size="9.6" text-anchor="middle" fill="#1a1a1a" >15</text>
<line x1="110.3" y1="390.7" x2="110.3" y2="394.3" stroke="#1a1a1a" stroke-width="1.2" stroke-linecap="butt"/>
<text transform="translate(110.3,403.9) scale(0.8,1)" font-size="9.6" text-anchor="middle" fill="#1a1a1a" >20</text>
<line x1="122.75" y1="390.7" x2="122.75" y2="394.3" stroke="#1a1a1a" stroke-width="1.2" stroke-linecap="butt"/>
<text transform="translate(122.75,403.9) scale(0.8,1)" font-size="9.6" text-anchor="middle" fill="#1a1a1a" >25</text>
<line x1="135.2" y1="390.7" x2="135.2" y2="394.3" stroke="#1a1a1a" stroke-width="1.2" stroke-linecap="butt"/>
<text transform="translate(135.2,403.9) scale(0.8,1)" font-size="9.6" text-anchor="middle" fill="#1a1a1a" >30</text>
<line x1="147.65" y1="390.7" x2="147.65" y2="394.3" stroke="#1a1a1a" stroke-width="1.2" stroke-linecap="butt"/>
<text transform="translate(147.65,403.9) scale(0.8,1)" font-size="9.6" text-anchor="middle" fill="#1a1a1a" >35</text>
<line x1="60.5" y1="353.82" x2="147.65" y2="353.82" stroke="#333" stroke-width="1" stroke-linecap="butt" stroke-dasharray="1.2,1.5"/>
<text transform="translate(110.5,298)" font-size="12.3" text-anchor="middle" fill="#1a1a1a" >NT</text>
<polyline points="67.97,339.07 77.93,342.39 85.4,342.76 95.36,346.44" fill="none" stroke="#3a3a3a" stroke-width="0.9" stroke-linejoin="round"/>
<circle cx="67.97" cy="339.07" r="1.75" fill="#3a3a3a"/>
<circle cx="77.93" cy="342.39" r="1.75" fill="#3a3a3a"/>
<circle cx="85.4" cy="342.76" r="1.75" fill="#3a3a3a"/>
<circle cx="95.36" cy="346.44" r="1.75" fill="#3a3a3a"/>
<polyline points="67.97,340.54 77.93,343.68 85.4,344.6 95.36,348.29" fill="none" stroke="#3a3a3a" stroke-width="0.9" stroke-linejoin="round"/>
<circle cx="67.97" cy="340.54" r="1.75" fill="#3a3a3a"/>
<circle cx="77.93" cy="343.68" r="1.75" fill="#3a3a3a"/>
<circle cx="85.4" cy="344.6" r="1.75" fill="#3a3a3a"/>
<circle cx="95.36" cy="348.29" r="1.75" fill="#3a3a3a"/>
<polyline points="67.97,340.91 77.93,344.6 85.4,345.52 95.36,350.13" fill="none" stroke="#3a3a3a" stroke-width="0.9" stroke-linejoin="round"/>
<circle cx="67.97" cy="340.91" r="1.75" fill="#3a3a3a"/>
<circle cx="77.93" cy="344.6" r="1.75" fill="#3a3a3a"/>
<circle cx="85.4" cy="345.52" r="1.75" fill="#3a3a3a"/>
<circle cx="95.36" cy="350.13" r="1.75" fill="#3a3a3a"/>
<polyline points="67.97,339.99 77.93,342.76 85.4,343.68 95.36,347.37" fill="none" stroke="#3a3a3a" stroke-width="0.9" stroke-linejoin="round"/>
<circle cx="67.97" cy="339.99" r="1.75" fill="#3a3a3a"/>
<circle cx="77.93" cy="342.76" r="1.75" fill="#3a3a3a"/>
<circle cx="85.4" cy="343.68" r="1.75" fill="#3a3a3a"/>
<circle cx="95.36" cy="347.37" r="1.75" fill="#3a3a3a"/>
<line x1="180.5" y1="298" x2="180.5" y2="391.2" stroke="#1a1a1a" stroke-width="1" stroke-linecap="butt"/>
<line x1="176.5" y1="390.7" x2="180.5" y2="390.7" stroke="#1a1a1a" stroke-width="1.3" stroke-linecap="butt"/>
<text transform="translate(176.7,393.5) scale(1,1)" font-size="8.8" text-anchor="end" fill="#1a1a1a">10<tspan dx="0.8" dy="-3.3" font-size="6.2">1</tspan></text>
<line x1="178.5" y1="385.15" x2="180.5" y2="385.15" stroke="#1a1a1a" stroke-width="0.6" stroke-linecap="butt"/>
<line x1="178.5" y1="381.9" x2="180.5" y2="381.9" stroke="#1a1a1a" stroke-width="0.6" stroke-linecap="butt"/>
<line x1="178.5" y1="379.6" x2="180.5" y2="379.6" stroke="#1a1a1a" stroke-width="0.6" stroke-linecap="butt"/>
<line x1="178.5" y1="377.81" x2="180.5" y2="377.81" stroke="#1a1a1a" stroke-width="0.6" stroke-linecap="butt"/>
<line x1="178.5" y1="376.35" x2="180.5" y2="376.35" stroke="#1a1a1a" stroke-width="0.6" stroke-linecap="butt"/>
<line x1="178.5" y1="375.12" x2="180.5" y2="375.12" stroke="#1a1a1a" stroke-width="0.6" stroke-linecap="butt"/>
<line x1="178.5" y1="374.05" x2="180.5" y2="374.05" stroke="#1a1a1a" stroke-width="0.6" stroke-linecap="butt"/>
<line x1="178.5" y1="373.1" x2="180.5" y2="373.1" stroke="#1a1a1a" stroke-width="0.6" stroke-linecap="butt"/>
<line x1="176.5" y1="372.26" x2="180.5" y2="372.26" stroke="#1a1a1a" stroke-width="1.3" stroke-linecap="butt"/>
<text transform="translate(176.7,375.06) scale(1,1)" font-size="8.8" text-anchor="end" fill="#1a1a1a">10<tspan dx="0.8" dy="-3.3" font-size="6.2">2</tspan></text>
<line x1="178.5" y1="366.71" x2="180.5" y2="366.71" stroke="#1a1a1a" stroke-width="0.6" stroke-linecap="butt"/>
<line x1="178.5" y1="363.46" x2="180.5" y2="363.46" stroke="#1a1a1a" stroke-width="0.6" stroke-linecap="butt"/>
<line x1="178.5" y1="361.16" x2="180.5" y2="361.16" stroke="#1a1a1a" stroke-width="0.6" stroke-linecap="butt"/>
<line x1="178.5" y1="359.37" x2="180.5" y2="359.37" stroke="#1a1a1a" stroke-width="0.6" stroke-linecap="butt"/>
<line x1="178.5" y1="357.91" x2="180.5" y2="357.91" stroke="#1a1a1a" stroke-width="0.6" stroke-linecap="butt"/>
<line x1="178.5" y1="356.68" x2="180.5" y2="356.68" stroke="#1a1a1a" stroke-width="0.6" stroke-linecap="butt"/>
<line x1="178.5" y1="355.61" x2="180.5" y2="355.61" stroke="#1a1a1a" stroke-width="0.6" stroke-linecap="butt"/>
<line x1="178.5" y1="354.66" x2="180.5" y2="354.66" stroke="#1a1a1a" stroke-width="0.6" stroke-linecap="butt"/>
<line x1="176.5" y1="353.82" x2="180.5" y2="353.82" stroke="#1a1a1a" stroke-width="1.3" stroke-linecap="butt"/>
<text transform="translate(176.7,356.62) scale(1,1)" font-size="8.8" text-anchor="end" fill="#1a1a1a">10<tspan dx="0.8" dy="-3.3" font-size="6.2">3</tspan></text>
<line x1="178.5" y1="348.27" x2="180.5" y2="348.27" stroke="#1a1a1a" stroke-width="0.6" stroke-linecap="butt"/>
<line x1="178.5" y1="345.02" x2="180.5" y2="345.02" stroke="#1a1a1a" stroke-width="0.6" stroke-linecap="butt"/>
<line x1="178.5" y1="342.72" x2="180.5" y2="342.72" stroke="#1a1a1a" stroke-width="0.6" stroke-linecap="butt"/>
<line x1="178.5" y1="340.93" x2="180.5" y2="340.93" stroke="#1a1a1a" stroke-width="0.6" stroke-linecap="butt"/>
<line x1="178.5" y1="339.47" x2="180.5" y2="339.47" stroke="#1a1a1a" stroke-width="0.6" stroke-linecap="butt"/>
<line x1="178.5" y1="338.24" x2="180.5" y2="338.24" stroke="#1a1a1a" stroke-width="0.6" stroke-linecap="butt"/>
<line x1="178.5" y1="337.17" x2="180.5" y2="337.17" stroke="#1a1a1a" stroke-width="0.6" stroke-linecap="butt"/>
<line x1="178.5" y1="336.22" x2="180.5" y2="336.22" stroke="#1a1a1a" stroke-width="0.6" stroke-linecap="butt"/>
<line x1="176.5" y1="335.38" x2="180.5" y2="335.38" stroke="#1a1a1a" stroke-width="1.3" stroke-linecap="butt"/>
<text transform="translate(176.7,338.18) scale(1,1)" font-size="8.8" text-anchor="end" fill="#1a1a1a">10<tspan dx="0.8" dy="-3.3" font-size="6.2">4</tspan></text>
<line x1="178.5" y1="329.83" x2="180.5" y2="329.83" stroke="#1a1a1a" stroke-width="0.6" stroke-linecap="butt"/>
<line x1="178.5" y1="326.58" x2="180.5" y2="326.58" stroke="#1a1a1a" stroke-width="0.6" stroke-linecap="butt"/>
<line x1="178.5" y1="324.28" x2="180.5" y2="324.28" stroke="#1a1a1a" stroke-width="0.6" stroke-linecap="butt"/>
<line x1="178.5" y1="322.49" x2="180.5" y2="322.49" stroke="#1a1a1a" stroke-width="0.6" stroke-linecap="butt"/>
<line x1="178.5" y1="321.03" x2="180.5" y2="321.03" stroke="#1a1a1a" stroke-width="0.6" stroke-linecap="butt"/>
<line x1="178.5" y1="319.8" x2="180.5" y2="319.8" stroke="#1a1a1a" stroke-width="0.6" stroke-linecap="butt"/>
<line x1="178.5" y1="318.73" x2="180.5" y2="318.73" stroke="#1a1a1a" stroke-width="0.6" stroke-linecap="butt"/>
<line x1="178.5" y1="317.78" x2="180.5" y2="317.78" stroke="#1a1a1a" stroke-width="0.6" stroke-linecap="butt"/>
<line x1="176.5" y1="316.94" x2="180.5" y2="316.94" stroke="#1a1a1a" stroke-width="1.3" stroke-linecap="butt"/>
<text transform="translate(176.7,319.74) scale(1,1)" font-size="8.8" text-anchor="end" fill="#1a1a1a">10<tspan dx="0.8" dy="-3.3" font-size="6.2">5</tspan></text>
<line x1="178.5" y1="311.39" x2="180.5" y2="311.39" stroke="#1a1a1a" stroke-width="0.6" stroke-linecap="butt"/>
<line x1="178.5" y1="308.14" x2="180.5" y2="308.14" stroke="#1a1a1a" stroke-width="0.6" stroke-linecap="butt"/>
<line x1="178.5" y1="305.84" x2="180.5" y2="305.84" stroke="#1a1a1a" stroke-width="0.6" stroke-linecap="butt"/>
<line x1="178.5" y1="304.05" x2="180.5" y2="304.05" stroke="#1a1a1a" stroke-width="0.6" stroke-linecap="butt"/>
<line x1="178.5" y1="302.59" x2="180.5" y2="302.59" stroke="#1a1a1a" stroke-width="0.6" stroke-linecap="butt"/>
<line x1="178.5" y1="301.36" x2="180.5" y2="301.36" stroke="#1a1a1a" stroke-width="0.6" stroke-linecap="butt"/>
<line x1="178.5" y1="300.29" x2="180.5" y2="300.29" stroke="#1a1a1a" stroke-width="0.6" stroke-linecap="butt"/>
<line x1="178.5" y1="299.34" x2="180.5" y2="299.34" stroke="#1a1a1a" stroke-width="0.6" stroke-linecap="butt"/>
<line x1="176.5" y1="298.5" x2="180.5" y2="298.5" stroke="#1a1a1a" stroke-width="1.3" stroke-linecap="butt"/>
<text transform="translate(176.7,301.3) scale(1,1)" font-size="8.8" text-anchor="end" fill="#1a1a1a">10<tspan dx="0.8" dy="-3.3" font-size="6.2">6</tspan></text>
<line x1="179.9" y1="390.7" x2="267.19" y2="390.7" stroke="#1a1a1a" stroke-width="1.2" stroke-linecap="butt"/>
<line x1="180.5" y1="390.7" x2="180.5" y2="394.3" stroke="#1a1a1a" stroke-width="1.2" stroke-linecap="butt"/>
<text transform="translate(180.5,403.9) scale(0.8,1)" font-size="9.6" text-anchor="middle" fill="#1a1a1a" >0</text>
<line x1="192.88" y1="390.7" x2="192.88" y2="394.3" stroke="#1a1a1a" stroke-width="1.2" stroke-linecap="butt"/>
<text transform="translate(192.88,403.9) scale(0.8,1)" font-size="9.6" text-anchor="middle" fill="#1a1a1a" >5</text>
<line x1="205.27" y1="390.7" x2="205.27" y2="394.3" stroke="#1a1a1a" stroke-width="1.2" stroke-linecap="butt"/>
<text transform="translate(205.27,403.9) scale(0.8,1)" font-size="9.6" text-anchor="middle" fill="#1a1a1a" >10</text>
<line x1="217.66" y1="390.7" x2="217.66" y2="394.3" stroke="#1a1a1a" stroke-width="1.2" stroke-linecap="butt"/>
<text transform="translate(217.66,403.9) scale(0.8,1)" font-size="9.6" text-anchor="middle" fill="#1a1a1a" >15</text>
<line x1="230.04" y1="390.7" x2="230.04" y2="394.3" stroke="#1a1a1a" stroke-width="1.2" stroke-linecap="butt"/>
<text transform="translate(230.04,403.9) scale(0.8,1)" font-size="9.6" text-anchor="middle" fill="#1a1a1a" >20</text>
<line x1="242.43" y1="390.7" x2="242.43" y2="394.3" stroke="#1a1a1a" stroke-width="1.2" stroke-linecap="butt"/>
<text transform="translate(242.43,403.9) scale(0.8,1)" font-size="9.6" text-anchor="middle" fill="#1a1a1a" >25</text>
<line x1="254.81" y1="390.7" x2="254.81" y2="394.3" stroke="#1a1a1a" stroke-width="1.2" stroke-linecap="butt"/>
<text transform="translate(254.81,403.9) scale(0.8,1)" font-size="9.6" text-anchor="middle" fill="#1a1a1a" >30</text>
<line x1="267.19" y1="390.7" x2="267.19" y2="394.3" stroke="#1a1a1a" stroke-width="1.2" stroke-linecap="butt"/>
<text transform="translate(267.19,403.9) scale(0.8,1)" font-size="9.6" text-anchor="middle" fill="#1a1a1a" >35</text>
<line x1="180.5" y1="353.82" x2="267.19" y2="353.82" stroke="#333" stroke-width="1" stroke-linecap="butt" stroke-dasharray="1.2,1.5"/>
<text transform="translate(231.1,298)" font-size="12.3" text-anchor="middle" fill="#1a1a1a" >SSR</text>
<polyline points="187.93,342.94 197.84,346.63 205.27,348.66 215.18,359.35 225.09,359.35" fill="none" stroke="#a8125e" stroke-width="0.9" stroke-linejoin="round"/>
<path d="M187.93,340.93L189.86,344.34L186.01,344.34Z" fill="#a8125e"/>
<path d="M197.84,344.62L199.76,348.03L195.91,348.03Z" fill="#a8125e"/>
<path d="M205.27,346.64L207.2,350.06L203.34,350.06Z" fill="#a8125e"/>
<path d="M215.18,357.34L217.1,360.75L213.25,360.75Z" fill="#a8125e"/>
<path d="M225.09,357.34L227.01,360.75L223.16,360.75Z" fill="#a8125e"/>
<polyline points="187.93,344.6 197.84,350.13 205.27,355.66 215.18,361.2 225.09,367.65" fill="none" stroke="#a8125e" stroke-width="0.9" stroke-linejoin="round"/>
<path d="M187.93,342.59L189.86,346L186.01,346Z" fill="#a8125e"/>
<path d="M197.84,348.12L199.76,351.53L195.91,351.53Z" fill="#a8125e"/>
<path d="M205.27,353.65L207.2,357.06L203.34,357.06Z" fill="#a8125e"/>
<path d="M215.18,359.18L217.1,362.6L213.25,362.6Z" fill="#a8125e"/>
<path d="M225.09,365.64L227.01,369.05L223.16,369.05Z" fill="#a8125e"/>
<polyline points="187.93,345.52 197.84,356.95 205.27,351.98 215.18,361.75 225.09,363.04" fill="none" stroke="#a8125e" stroke-width="0.9" stroke-linejoin="round"/>
<path d="M187.93,343.51L189.86,346.92L186.01,346.92Z" fill="#a8125e"/>
<path d="M197.84,354.94L199.76,358.35L195.91,358.35Z" fill="#a8125e"/>
<path d="M205.27,349.96L207.2,353.38L203.34,353.38Z" fill="#a8125e"/>
<path d="M215.18,359.74L217.1,363.15L213.25,363.15Z" fill="#a8125e"/>
<path d="M225.09,361.03L227.01,364.44L223.16,364.44Z" fill="#a8125e"/>
<polyline points="187.93,346.44 197.84,360.64 205.27,354.74 215.18,363.04 225.09,374.66" fill="none" stroke="#a8125e" stroke-width="0.9" stroke-linejoin="round"/>
<path d="M187.93,344.43L189.86,347.84L186.01,347.84Z" fill="#a8125e"/>
<path d="M197.84,358.63L199.76,362.04L195.91,362.04Z" fill="#a8125e"/>
<path d="M205.27,352.73L207.2,356.14L203.34,356.14Z" fill="#a8125e"/>
<path d="M215.18,361.03L217.1,364.44L213.25,364.44Z" fill="#a8125e"/>
<path d="M225.09,372.64L227.01,376.06L223.16,376.06Z" fill="#a8125e"/>
<polyline points="187.93,343.68 197.84,348.29 205.27,350.13 215.18,360.27 225.09,361.2" fill="none" stroke="#a8125e" stroke-width="0.9" stroke-linejoin="round"/>
<path d="M187.93,341.67L189.86,345.08L186.01,345.08Z" fill="#a8125e"/>
<path d="M197.84,346.28L199.76,349.69L195.91,349.69Z" fill="#a8125e"/>
<path d="M205.27,348.12L207.2,351.53L203.34,351.53Z" fill="#a8125e"/>
<path d="M215.18,358.26L217.1,361.67L213.25,361.67Z" fill="#a8125e"/>
<path d="M225.09,359.18L227.01,362.6L223.16,362.6Z" fill="#a8125e"/>
<line x1="310.9" y1="298" x2="310.9" y2="391.2" stroke="#1a1a1a" stroke-width="1" stroke-linecap="butt"/>
<line x1="306.9" y1="390.7" x2="310.9" y2="390.7" stroke="#1a1a1a" stroke-width="1.3" stroke-linecap="butt"/>
<text transform="translate(307.1,393.5) scale(1,1)" font-size="8.8" text-anchor="end" fill="#1a1a1a">10<tspan dx="0.8" dy="-3.3" font-size="6.2">1</tspan></text>
<line x1="308.9" y1="385.15" x2="310.9" y2="385.15" stroke="#1a1a1a" stroke-width="0.6" stroke-linecap="butt"/>
<line x1="308.9" y1="381.9" x2="310.9" y2="381.9" stroke="#1a1a1a" stroke-width="0.6" stroke-linecap="butt"/>
<line x1="308.9" y1="379.6" x2="310.9" y2="379.6" stroke="#1a1a1a" stroke-width="0.6" stroke-linecap="butt"/>
<line x1="308.9" y1="377.81" x2="310.9" y2="377.81" stroke="#1a1a1a" stroke-width="0.6" stroke-linecap="butt"/>
<line x1="308.9" y1="376.35" x2="310.9" y2="376.35" stroke="#1a1a1a" stroke-width="0.6" stroke-linecap="butt"/>
<line x1="308.9" y1="375.12" x2="310.9" y2="375.12" stroke="#1a1a1a" stroke-width="0.6" stroke-linecap="butt"/>
<line x1="308.9" y1="374.05" x2="310.9" y2="374.05" stroke="#1a1a1a" stroke-width="0.6" stroke-linecap="butt"/>
<line x1="308.9" y1="373.1" x2="310.9" y2="373.1" stroke="#1a1a1a" stroke-width="0.6" stroke-linecap="butt"/>
<line x1="306.9" y1="372.26" x2="310.9" y2="372.26" stroke="#1a1a1a" stroke-width="1.3" stroke-linecap="butt"/>
<text transform="translate(307.1,375.06) scale(1,1)" font-size="8.8" text-anchor="end" fill="#1a1a1a">10<tspan dx="0.8" dy="-3.3" font-size="6.2">2</tspan></text>
<line x1="308.9" y1="366.71" x2="310.9" y2="366.71" stroke="#1a1a1a" stroke-width="0.6" stroke-linecap="butt"/>
<line x1="308.9" y1="363.46" x2="310.9" y2="363.46" stroke="#1a1a1a" stroke-width="0.6" stroke-linecap="butt"/>
<line x1="308.9" y1="361.16" x2="310.9" y2="361.16" stroke="#1a1a1a" stroke-width="0.6" stroke-linecap="butt"/>
<line x1="308.9" y1="359.37" x2="310.9" y2="359.37" stroke="#1a1a1a" stroke-width="0.6" stroke-linecap="butt"/>
<line x1="308.9" y1="357.91" x2="310.9" y2="357.91" stroke="#1a1a1a" stroke-width="0.6" stroke-linecap="butt"/>
<line x1="308.9" y1="356.68" x2="310.9" y2="356.68" stroke="#1a1a1a" stroke-width="0.6" stroke-linecap="butt"/>
<line x1="308.9" y1="355.61" x2="310.9" y2="355.61" stroke="#1a1a1a" stroke-width="0.6" stroke-linecap="butt"/>
<line x1="308.9" y1="354.66" x2="310.9" y2="354.66" stroke="#1a1a1a" stroke-width="0.6" stroke-linecap="butt"/>
<line x1="306.9" y1="353.82" x2="310.9" y2="353.82" stroke="#1a1a1a" stroke-width="1.3" stroke-linecap="butt"/>
<text transform="translate(307.1,356.62) scale(1,1)" font-size="8.8" text-anchor="end" fill="#1a1a1a">10<tspan dx="0.8" dy="-3.3" font-size="6.2">3</tspan></text>
<line x1="308.9" y1="348.27" x2="310.9" y2="348.27" stroke="#1a1a1a" stroke-width="0.6" stroke-linecap="butt"/>
<line x1="308.9" y1="345.02" x2="310.9" y2="345.02" stroke="#1a1a1a" stroke-width="0.6" stroke-linecap="butt"/>
<line x1="308.9" y1="342.72" x2="310.9" y2="342.72" stroke="#1a1a1a" stroke-width="0.6" stroke-linecap="butt"/>
<line x1="308.9" y1="340.93" x2="310.9" y2="340.93" stroke="#1a1a1a" stroke-width="0.6" stroke-linecap="butt"/>
<line x1="308.9" y1="339.47" x2="310.9" y2="339.47" stroke="#1a1a1a" stroke-width="0.6" stroke-linecap="butt"/>
<line x1="308.9" y1="338.24" x2="310.9" y2="338.24" stroke="#1a1a1a" stroke-width="0.6" stroke-linecap="butt"/>
<line x1="308.9" y1="337.17" x2="310.9" y2="337.17" stroke="#1a1a1a" stroke-width="0.6" stroke-linecap="butt"/>
<line x1="308.9" y1="336.22" x2="310.9" y2="336.22" stroke="#1a1a1a" stroke-width="0.6" stroke-linecap="butt"/>
<line x1="306.9" y1="335.38" x2="310.9" y2="335.38" stroke="#1a1a1a" stroke-width="1.3" stroke-linecap="butt"/>
<text transform="translate(307.1,338.18) scale(1,1)" font-size="8.8" text-anchor="end" fill="#1a1a1a">10<tspan dx="0.8" dy="-3.3" font-size="6.2">4</tspan></text>
<line x1="308.9" y1="329.83" x2="310.9" y2="329.83" stroke="#1a1a1a" stroke-width="0.6" stroke-linecap="butt"/>
<line x1="308.9" y1="326.58" x2="310.9" y2="326.58" stroke="#1a1a1a" stroke-width="0.6" stroke-linecap="butt"/>
<line x1="308.9" y1="324.28" x2="310.9" y2="324.28" stroke="#1a1a1a" stroke-width="0.6" stroke-linecap="butt"/>
<line x1="308.9" y1="322.49" x2="310.9" y2="322.49" stroke="#1a1a1a" stroke-width="0.6" stroke-linecap="butt"/>
<line x1="308.9" y1="321.03" x2="310.9" y2="321.03" stroke="#1a1a1a" stroke-width="0.6" stroke-linecap="butt"/>
<line x1="308.9" y1="319.8" x2="310.9" y2="319.8" stroke="#1a1a1a" stroke-width="0.6" stroke-linecap="butt"/>
<line x1="308.9" y1="318.73" x2="310.9" y2="318.73" stroke="#1a1a1a" stroke-width="0.6" stroke-linecap="butt"/>
<line x1="308.9" y1="317.78" x2="310.9" y2="317.78" stroke="#1a1a1a" stroke-width="0.6" stroke-linecap="butt"/>
<line x1="306.9" y1="316.94" x2="310.9" y2="316.94" stroke="#1a1a1a" stroke-width="1.3" stroke-linecap="butt"/>
<text transform="translate(307.1,319.74) scale(1,1)" font-size="8.8" text-anchor="end" fill="#1a1a1a">10<tspan dx="0.8" dy="-3.3" font-size="6.2">5</tspan></text>
<line x1="308.9" y1="311.39" x2="310.9" y2="311.39" stroke="#1a1a1a" stroke-width="0.6" stroke-linecap="butt"/>
<line x1="308.9" y1="308.14" x2="310.9" y2="308.14" stroke="#1a1a1a" stroke-width="0.6" stroke-linecap="butt"/>
<line x1="308.9" y1="305.84" x2="310.9" y2="305.84" stroke="#1a1a1a" stroke-width="0.6" stroke-linecap="butt"/>
<line x1="308.9" y1="304.05" x2="310.9" y2="304.05" stroke="#1a1a1a" stroke-width="0.6" stroke-linecap="butt"/>
<line x1="308.9" y1="302.59" x2="310.9" y2="302.59" stroke="#1a1a1a" stroke-width="0.6" stroke-linecap="butt"/>
<line x1="308.9" y1="301.36" x2="310.9" y2="301.36" stroke="#1a1a1a" stroke-width="0.6" stroke-linecap="butt"/>
<line x1="308.9" y1="300.29" x2="310.9" y2="300.29" stroke="#1a1a1a" stroke-width="0.6" stroke-linecap="butt"/>
<line x1="308.9" y1="299.34" x2="310.9" y2="299.34" stroke="#1a1a1a" stroke-width="0.6" stroke-linecap="butt"/>
<line x1="306.9" y1="298.5" x2="310.9" y2="298.5" stroke="#1a1a1a" stroke-width="1.3" stroke-linecap="butt"/>
<text transform="translate(307.1,301.3) scale(1,1)" font-size="8.8" text-anchor="end" fill="#1a1a1a">10<tspan dx="0.8" dy="-3.3" font-size="6.2">6</tspan></text>
<line x1="310.3" y1="390.7" x2="398.5" y2="390.7" stroke="#1a1a1a" stroke-width="1.2" stroke-linecap="butt"/>
<line x1="310.9" y1="390.7" x2="310.9" y2="394.3" stroke="#1a1a1a" stroke-width="1.2" stroke-linecap="butt"/>
<text transform="translate(310.9,403.9) scale(0.8,1)" font-size="9.6" text-anchor="middle" fill="#1a1a1a" >0</text>
<line x1="323.41" y1="390.7" x2="323.41" y2="394.3" stroke="#1a1a1a" stroke-width="1.2" stroke-linecap="butt"/>
<text transform="translate(323.41,403.9) scale(0.8,1)" font-size="9.6" text-anchor="middle" fill="#1a1a1a" >5</text>
<line x1="335.93" y1="390.7" x2="335.93" y2="394.3" stroke="#1a1a1a" stroke-width="1.2" stroke-linecap="butt"/>
<text transform="translate(335.93,403.9) scale(0.8,1)" font-size="9.6" text-anchor="middle" fill="#1a1a1a" >10</text>
<line x1="348.44" y1="390.7" x2="348.44" y2="394.3" stroke="#1a1a1a" stroke-width="1.2" stroke-linecap="butt"/>
<text transform="translate(348.44,403.9) scale(0.8,1)" font-size="9.6" text-anchor="middle" fill="#1a1a1a" >15</text>
<line x1="360.96" y1="390.7" x2="360.96" y2="394.3" stroke="#1a1a1a" stroke-width="1.2" stroke-linecap="butt"/>
<text transform="translate(360.96,403.9) scale(0.8,1)" font-size="9.6" text-anchor="middle" fill="#1a1a1a" >20</text>
<line x1="373.47" y1="390.7" x2="373.47" y2="394.3" stroke="#1a1a1a" stroke-width="1.2" stroke-linecap="butt"/>
<text transform="translate(373.47,403.9) scale(0.8,1)" font-size="9.6" text-anchor="middle" fill="#1a1a1a" >25</text>
<line x1="385.99" y1="390.7" x2="385.99" y2="394.3" stroke="#1a1a1a" stroke-width="1.2" stroke-linecap="butt"/>
<text transform="translate(385.99,403.9) scale(0.8,1)" font-size="9.6" text-anchor="middle" fill="#1a1a1a" >30</text>
<line x1="398.5" y1="390.7" x2="398.5" y2="394.3" stroke="#1a1a1a" stroke-width="1.2" stroke-linecap="butt"/>
<text transform="translate(398.5,403.9) scale(0.8,1)" font-size="9.6" text-anchor="middle" fill="#1a1a1a" >35</text>
<line x1="310.9" y1="353.82" x2="398.5" y2="353.82" stroke="#333" stroke-width="1" stroke-linecap="butt" stroke-dasharray="1.2,1.5"/>
<text transform="translate(361.3,298)" font-size="12.3" text-anchor="middle" fill="#1a1a1a" >CAR</text>
<polyline points="318.41,353.64 328.42,364.15 335.93,321.92 345.94,348.29 355.95,344.78" fill="none" stroke="#c6c212" stroke-width="0.9" stroke-linejoin="round"/>
<rect x="316.66" y="351.89" width="3.5" height="3.5" fill="#c6c212"/>
<rect x="326.67" y="362.4" width="3.5" height="3.5" fill="#c6c212"/>
<rect x="334.18" y="320.17" width="3.5" height="3.5" fill="#c6c212"/>
<rect x="344.19" y="346.54" width="3.5" height="3.5" fill="#c6c212"/>
<rect x="354.2" y="343.03" width="3.5" height="3.5" fill="#c6c212"/>
<polyline points="318.41,358.8 328.42,369.31 335.93,330.77 345.94,344.78 355.95,341.28" fill="none" stroke="#c6c212" stroke-width="0.9" stroke-linejoin="round"/>
<rect x="316.66" y="357.05" width="3.5" height="3.5" fill="#c6c212"/>
<rect x="326.67" y="367.56" width="3.5" height="3.5" fill="#c6c212"/>
<rect x="334.18" y="329.02" width="3.5" height="3.5" fill="#c6c212"/>
<rect x="344.19" y="343.03" width="3.5" height="3.5" fill="#c6c212"/>
<rect x="354.2" y="339.53" width="3.5" height="3.5" fill="#c6c212"/>
<polyline points="318.41,353.82 328.42,370.97 335.93,353.64 345.94,353.64 355.95,344.78" fill="none" stroke="#c6c212" stroke-width="0.9" stroke-linejoin="round"/>
<rect x="316.66" y="352.07" width="3.5" height="3.5" fill="#c6c212"/>
<rect x="326.67" y="369.22" width="3.5" height="3.5" fill="#c6c212"/>
<rect x="334.18" y="351.89" width="3.5" height="3.5" fill="#c6c212"/>
<rect x="344.19" y="351.89" width="3.5" height="3.5" fill="#c6c212"/>
<rect x="354.2" y="343.03" width="3.5" height="3.5" fill="#c6c212"/>
<polyline points="318.41,355.66 328.42,366.73 335.93,329.85 345.94,346.44 355.95,343.68" fill="none" stroke="#c6c212" stroke-width="0.9" stroke-linejoin="round"/>
<rect x="316.66" y="353.91" width="3.5" height="3.5" fill="#c6c212"/>
<rect x="326.67" y="364.98" width="3.5" height="3.5" fill="#c6c212"/>
<rect x="334.18" y="328.1" width="3.5" height="3.5" fill="#c6c212"/>
<rect x="344.19" y="344.69" width="3.5" height="3.5" fill="#c6c212"/>
<rect x="354.2" y="341.93" width="3.5" height="3.5" fill="#c6c212"/>
<line x1="439.1" y1="298" x2="439.1" y2="391.2" stroke="#1a1a1a" stroke-width="1" stroke-linecap="butt"/>
<line x1="435.1" y1="390.7" x2="439.1" y2="390.7" stroke="#1a1a1a" stroke-width="1.3" stroke-linecap="butt"/>
<text transform="translate(435.3,393.5) scale(1,1)" font-size="8.8" text-anchor="end" fill="#1a1a1a">10<tspan dx="0.8" dy="-3.3" font-size="6.2">1</tspan></text>
<line x1="437.1" y1="385.15" x2="439.1" y2="385.15" stroke="#1a1a1a" stroke-width="0.6" stroke-linecap="butt"/>
<line x1="437.1" y1="381.9" x2="439.1" y2="381.9" stroke="#1a1a1a" stroke-width="0.6" stroke-linecap="butt"/>
<line x1="437.1" y1="379.6" x2="439.1" y2="379.6" stroke="#1a1a1a" stroke-width="0.6" stroke-linecap="butt"/>
<line x1="437.1" y1="377.81" x2="439.1" y2="377.81" stroke="#1a1a1a" stroke-width="0.6" stroke-linecap="butt"/>
<line x1="437.1" y1="376.35" x2="439.1" y2="376.35" stroke="#1a1a1a" stroke-width="0.6" stroke-linecap="butt"/>
<line x1="437.1" y1="375.12" x2="439.1" y2="375.12" stroke="#1a1a1a" stroke-width="0.6" stroke-linecap="butt"/>
<line x1="437.1" y1="374.05" x2="439.1" y2="374.05" stroke="#1a1a1a" stroke-width="0.6" stroke-linecap="butt"/>
<line x1="437.1" y1="373.1" x2="439.1" y2="373.1" stroke="#1a1a1a" stroke-width="0.6" stroke-linecap="butt"/>
<line x1="435.1" y1="372.26" x2="439.1" y2="372.26" stroke="#1a1a1a" stroke-width="1.3" stroke-linecap="butt"/>
<text transform="translate(435.3,375.06) scale(1,1)" font-size="8.8" text-anchor="end" fill="#1a1a1a">10<tspan dx="0.8" dy="-3.3" font-size="6.2">2</tspan></text>
<line x1="437.1" y1="366.71" x2="439.1" y2="366.71" stroke="#1a1a1a" stroke-width="0.6" stroke-linecap="butt"/>
<line x1="437.1" y1="363.46" x2="439.1" y2="363.46" stroke="#1a1a1a" stroke-width="0.6" stroke-linecap="butt"/>
<line x1="437.1" y1="361.16" x2="439.1" y2="361.16" stroke="#1a1a1a" stroke-width="0.6" stroke-linecap="butt"/>
<line x1="437.1" y1="359.37" x2="439.1" y2="359.37" stroke="#1a1a1a" stroke-width="0.6" stroke-linecap="butt"/>
<line x1="437.1" y1="357.91" x2="439.1" y2="357.91" stroke="#1a1a1a" stroke-width="0.6" stroke-linecap="butt"/>
<line x1="437.1" y1="356.68" x2="439.1" y2="356.68" stroke="#1a1a1a" stroke-width="0.6" stroke-linecap="butt"/>
<line x1="437.1" y1="355.61" x2="439.1" y2="355.61" stroke="#1a1a1a" stroke-width="0.6" stroke-linecap="butt"/>
<line x1="437.1" y1="354.66" x2="439.1" y2="354.66" stroke="#1a1a1a" stroke-width="0.6" stroke-linecap="butt"/>
<line x1="435.1" y1="353.82" x2="439.1" y2="353.82" stroke="#1a1a1a" stroke-width="1.3" stroke-linecap="butt"/>
<text transform="translate(435.3,356.62) scale(1,1)" font-size="8.8" text-anchor="end" fill="#1a1a1a">10<tspan dx="0.8" dy="-3.3" font-size="6.2">3</tspan></text>
<line x1="437.1" y1="348.27" x2="439.1" y2="348.27" stroke="#1a1a1a" stroke-width="0.6" stroke-linecap="butt"/>
<line x1="437.1" y1="345.02" x2="439.1" y2="345.02" stroke="#1a1a1a" stroke-width="0.6" stroke-linecap="butt"/>
<line x1="437.1" y1="342.72" x2="439.1" y2="342.72" stroke="#1a1a1a" stroke-width="0.6" stroke-linecap="butt"/>
<line x1="437.1" y1="340.93" x2="439.1" y2="340.93" stroke="#1a1a1a" stroke-width="0.6" stroke-linecap="butt"/>
<line x1="437.1" y1="339.47" x2="439.1" y2="339.47" stroke="#1a1a1a" stroke-width="0.6" stroke-linecap="butt"/>
<line x1="437.1" y1="338.24" x2="439.1" y2="338.24" stroke="#1a1a1a" stroke-width="0.6" stroke-linecap="butt"/>
<line x1="437.1" y1="337.17" x2="439.1" y2="337.17" stroke="#1a1a1a" stroke-width="0.6" stroke-linecap="butt"/>
<line x1="437.1" y1="336.22" x2="439.1" y2="336.22" stroke="#1a1a1a" stroke-width="0.6" stroke-linecap="butt"/>
<line x1="435.1" y1="335.38" x2="439.1" y2="335.38" stroke="#1a1a1a" stroke-width="1.3" stroke-linecap="butt"/>
<text transform="translate(435.3,338.18) scale(1,1)" font-size="8.8" text-anchor="end" fill="#1a1a1a">10<tspan dx="0.8" dy="-3.3" font-size="6.2">4</tspan></text>
<line x1="437.1" y1="329.83" x2="439.1" y2="329.83" stroke="#1a1a1a" stroke-width="0.6" stroke-linecap="butt"/>
<line x1="437.1" y1="326.58" x2="439.1" y2="326.58" stroke="#1a1a1a" stroke-width="0.6" stroke-linecap="butt"/>
<line x1="437.1" y1="324.28" x2="439.1" y2="324.28" stroke="#1a1a1a" stroke-width="0.6" stroke-linecap="butt"/>
<line x1="437.1" y1="322.49" x2="439.1" y2="322.49" stroke="#1a1a1a" stroke-width="0.6" stroke-linecap="butt"/>
<line x1="437.1" y1="321.03" x2="439.1" y2="321.03" stroke="#1a1a1a" stroke-width="0.6" stroke-linecap="butt"/>
<line x1="437.1" y1="319.8" x2="439.1" y2="319.8" stroke="#1a1a1a" stroke-width="0.6" stroke-linecap="butt"/>
<line x1="437.1" y1="318.73" x2="439.1" y2="318.73" stroke="#1a1a1a" stroke-width="0.6" stroke-linecap="butt"/>
<line x1="437.1" y1="317.78" x2="439.1" y2="317.78" stroke="#1a1a1a" stroke-width="0.6" stroke-linecap="butt"/>
<line x1="435.1" y1="316.94" x2="439.1" y2="316.94" stroke="#1a1a1a" stroke-width="1.3" stroke-linecap="butt"/>
<text transform="translate(435.3,319.74) scale(1,1)" font-size="8.8" text-anchor="end" fill="#1a1a1a">10<tspan dx="0.8" dy="-3.3" font-size="6.2">5</tspan></text>
<line x1="437.1" y1="311.39" x2="439.1" y2="311.39" stroke="#1a1a1a" stroke-width="0.6" stroke-linecap="butt"/>
<line x1="437.1" y1="308.14" x2="439.1" y2="308.14" stroke="#1a1a1a" stroke-width="0.6" stroke-linecap="butt"/>
<line x1="437.1" y1="305.84" x2="439.1" y2="305.84" stroke="#1a1a1a" stroke-width="0.6" stroke-linecap="butt"/>
<line x1="437.1" y1="304.05" x2="439.1" y2="304.05" stroke="#1a1a1a" stroke-width="0.6" stroke-linecap="butt"/>
<line x1="437.1" y1="302.59" x2="439.1" y2="302.59" stroke="#1a1a1a" stroke-width="0.6" stroke-linecap="butt"/>
<line x1="437.1" y1="301.36" x2="439.1" y2="301.36" stroke="#1a1a1a" stroke-width="0.6" stroke-linecap="butt"/>
<line x1="437.1" y1="300.29" x2="439.1" y2="300.29" stroke="#1a1a1a" stroke-width="0.6" stroke-linecap="butt"/>
<line x1="437.1" y1="299.34" x2="439.1" y2="299.34" stroke="#1a1a1a" stroke-width="0.6" stroke-linecap="butt"/>
<line x1="435.1" y1="298.5" x2="439.1" y2="298.5" stroke="#1a1a1a" stroke-width="1.3" stroke-linecap="butt"/>
<text transform="translate(435.3,301.3) scale(1,1)" font-size="8.8" text-anchor="end" fill="#1a1a1a">10<tspan dx="0.8" dy="-3.3" font-size="6.2">6</tspan></text>
<line x1="438.5" y1="390.7" x2="526.71" y2="390.7" stroke="#1a1a1a" stroke-width="1.2" stroke-linecap="butt"/>
<line x1="439.1" y1="390.7" x2="439.1" y2="394.3" stroke="#1a1a1a" stroke-width="1.2" stroke-linecap="butt"/>
<text transform="translate(439.1,403.9) scale(0.8,1)" font-size="9.6" text-anchor="middle" fill="#1a1a1a" >0</text>
<line x1="451.62" y1="390.7" x2="451.62" y2="394.3" stroke="#1a1a1a" stroke-width="1.2" stroke-linecap="butt"/>
<text transform="translate(451.62,403.9) scale(0.8,1)" font-size="9.6" text-anchor="middle" fill="#1a1a1a" >5</text>
<line x1="464.13" y1="390.7" x2="464.13" y2="394.3" stroke="#1a1a1a" stroke-width="1.2" stroke-linecap="butt"/>
<text transform="translate(464.13,403.9) scale(0.8,1)" font-size="9.6" text-anchor="middle" fill="#1a1a1a" >10</text>
<line x1="476.65" y1="390.7" x2="476.65" y2="394.3" stroke="#1a1a1a" stroke-width="1.2" stroke-linecap="butt"/>
<text transform="translate(476.65,403.9) scale(0.8,1)" font-size="9.6" text-anchor="middle" fill="#1a1a1a" >15</text>
<line x1="489.16" y1="390.7" x2="489.16" y2="394.3" stroke="#1a1a1a" stroke-width="1.2" stroke-linecap="butt"/>
<text transform="translate(489.16,403.9) scale(0.8,1)" font-size="9.6" text-anchor="middle" fill="#1a1a1a" >20</text>
<line x1="501.68" y1="390.7" x2="501.68" y2="394.3" stroke="#1a1a1a" stroke-width="1.2" stroke-linecap="butt"/>
<text transform="translate(501.68,403.9) scale(0.8,1)" font-size="9.6" text-anchor="middle" fill="#1a1a1a" >25</text>
<line x1="514.19" y1="390.7" x2="514.19" y2="394.3" stroke="#1a1a1a" stroke-width="1.2" stroke-linecap="butt"/>
<text transform="translate(514.19,403.9) scale(0.8,1)" font-size="9.6" text-anchor="middle" fill="#1a1a1a" >30</text>
<line x1="526.71" y1="390.7" x2="526.71" y2="394.3" stroke="#1a1a1a" stroke-width="1.2" stroke-linecap="butt"/>
<text transform="translate(526.71,403.9) scale(0.8,1)" font-size="9.6" text-anchor="middle" fill="#1a1a1a" >35</text>
<line x1="439.1" y1="353.82" x2="526.71" y2="353.82" stroke="#333" stroke-width="1" stroke-linecap="butt" stroke-dasharray="1.2,1.5"/>
<text transform="translate(490.8,298)" font-size="12.3" text-anchor="middle" fill="#1a1a1a" >CAR.&#916;SSR</text>
<polyline points="446.61,342.76 456.62,357.51 464.13,343.68 474.14,350.13 484.15,356.59" fill="none" stroke="#ff1a1a" stroke-width="0.9" stroke-linejoin="round"/>
<path d="M446.61,340.74L448.53,344.16L444.68,344.16Z" fill="#ff1a1a"/>
<path d="M456.62,355.5L458.55,358.91L454.7,358.91Z" fill="#ff1a1a"/>
<path d="M464.13,341.67L466.06,345.08L462.2,345.08Z" fill="#ff1a1a"/>
<path d="M474.14,348.12L476.07,351.53L472.22,351.53Z" fill="#ff1a1a"/>
<path d="M484.15,354.57L486.08,357.99L482.23,357.99Z" fill="#ff1a1a"/>
<polyline points="446.61,347.37 456.62,363.04 464.13,351.98 474.14,348.29 484.15,358.43" fill="none" stroke="#ff1a1a" stroke-width="0.9" stroke-linejoin="round"/>
<path d="M446.61,345.35L448.53,348.77L444.68,348.77Z" fill="#ff1a1a"/>
<path d="M456.62,361.03L458.55,364.44L454.7,364.44Z" fill="#ff1a1a"/>
<path d="M464.13,349.96L466.06,353.38L462.2,353.38Z" fill="#ff1a1a"/>
<path d="M474.14,346.28L476.07,349.69L472.22,349.69Z" fill="#ff1a1a"/>
<path d="M484.15,356.42L486.08,359.83L482.23,359.83Z" fill="#ff1a1a"/>
<polyline points="446.61,349.21 456.62,365.81 464.13,353.82 474.14,351.98 484.15,365.81" fill="none" stroke="#ff1a1a" stroke-width="0.9" stroke-linejoin="round"/>
<path d="M446.61,347.2L448.53,350.61L444.68,350.61Z" fill="#ff1a1a"/>
<path d="M456.62,363.79L458.55,367.21L454.7,367.21Z" fill="#ff1a1a"/>
<path d="M464.13,351.81L466.06,355.22L462.2,355.22Z" fill="#ff1a1a"/>
<path d="M474.14,349.96L476.07,353.38L472.22,353.38Z" fill="#ff1a1a"/>
<path d="M484.15,363.79L486.08,367.21L482.23,367.21Z" fill="#ff1a1a"/>
<polyline points="446.61,351.05 456.62,368.57 464.13,354.74 474.14,353.82 484.15,357.51" fill="none" stroke="#ff1a1a" stroke-width="0.9" stroke-linejoin="round"/>
<path d="M446.61,349.04L448.53,352.45L444.68,352.45Z" fill="#ff1a1a"/>
<path d="M456.62,366.56L458.55,369.97L454.7,369.97Z" fill="#ff1a1a"/>
<path d="M464.13,352.73L466.06,356.14L462.2,356.14Z" fill="#ff1a1a"/>
<path d="M474.14,351.81L476.07,355.22L472.22,355.22Z" fill="#ff1a1a"/>
<path d="M484.15,355.5L486.08,358.91L482.23,358.91Z" fill="#ff1a1a"/>
<polyline points="446.61,353.82 456.62,377.79 464.13,365.81 474.14,359.35" fill="none" stroke="#ff1a1a" stroke-width="0.9" stroke-linejoin="round"/>
<path d="M446.61,351.81L448.53,355.22L444.68,355.22Z" fill="#ff1a1a"/>
<path d="M456.62,375.78L458.55,379.19L454.7,379.19Z" fill="#ff1a1a"/>
<path d="M464.13,363.79L466.06,367.21L462.2,367.21Z" fill="#ff1a1a"/>
<path d="M474.14,357.34L476.07,360.75L472.22,360.75Z" fill="#ff1a1a"/>
<polyline points="446.61,351.98 456.62,370.42 464.13,353.82 474.14,352.9 484.15,359.35" fill="none" stroke="#ff1a1a" stroke-width="0.9" stroke-linejoin="round"/>
<path d="M446.61,349.96L448.53,353.38L444.68,353.38Z" fill="#ff1a1a"/>
<path d="M456.62,368.4L458.55,371.82L454.7,371.82Z" fill="#ff1a1a"/>
<path d="M464.13,351.81L466.06,355.22L462.2,355.22Z" fill="#ff1a1a"/>
<path d="M474.14,350.89L476.07,354.3L472.22,354.3Z" fill="#ff1a1a"/>
<path d="M484.15,357.34L486.08,360.75L482.23,360.75Z" fill="#ff1a1a"/>
<line x1="570" y1="298" x2="570" y2="391.2" stroke="#1a1a1a" stroke-width="1" stroke-linecap="butt"/>
<line x1="566" y1="390.7" x2="570" y2="390.7" stroke="#1a1a1a" stroke-width="1.3" stroke-linecap="butt"/>
<text transform="translate(566.2,393.5) scale(1,1)" font-size="8.8" text-anchor="end" fill="#1a1a1a">10<tspan dx="0.8" dy="-3.3" font-size="6.2">1</tspan></text>
<line x1="568" y1="385.15" x2="570" y2="385.15" stroke="#1a1a1a" stroke-width="0.6" stroke-linecap="butt"/>
<line x1="568" y1="381.9" x2="570" y2="381.9" stroke="#1a1a1a" stroke-width="0.6" stroke-linecap="butt"/>
<line x1="568" y1="379.6" x2="570" y2="379.6" stroke="#1a1a1a" stroke-width="0.6" stroke-linecap="butt"/>
<line x1="568" y1="377.81" x2="570" y2="377.81" stroke="#1a1a1a" stroke-width="0.6" stroke-linecap="butt"/>
<line x1="568" y1="376.35" x2="570" y2="376.35" stroke="#1a1a1a" stroke-width="0.6" stroke-linecap="butt"/>
<line x1="568" y1="375.12" x2="570" y2="375.12" stroke="#1a1a1a" stroke-width="0.6" stroke-linecap="butt"/>
<line x1="568" y1="374.05" x2="570" y2="374.05" stroke="#1a1a1a" stroke-width="0.6" stroke-linecap="butt"/>
<line x1="568" y1="373.1" x2="570" y2="373.1" stroke="#1a1a1a" stroke-width="0.6" stroke-linecap="butt"/>
<line x1="566" y1="372.26" x2="570" y2="372.26" stroke="#1a1a1a" stroke-width="1.3" stroke-linecap="butt"/>
<text transform="translate(566.2,375.06) scale(1,1)" font-size="8.8" text-anchor="end" fill="#1a1a1a">10<tspan dx="0.8" dy="-3.3" font-size="6.2">2</tspan></text>
<line x1="568" y1="366.71" x2="570" y2="366.71" stroke="#1a1a1a" stroke-width="0.6" stroke-linecap="butt"/>
<line x1="568" y1="363.46" x2="570" y2="363.46" stroke="#1a1a1a" stroke-width="0.6" stroke-linecap="butt"/>
<line x1="568" y1="361.16" x2="570" y2="361.16" stroke="#1a1a1a" stroke-width="0.6" stroke-linecap="butt"/>
<line x1="568" y1="359.37" x2="570" y2="359.37" stroke="#1a1a1a" stroke-width="0.6" stroke-linecap="butt"/>
<line x1="568" y1="357.91" x2="570" y2="357.91" stroke="#1a1a1a" stroke-width="0.6" stroke-linecap="butt"/>
<line x1="568" y1="356.68" x2="570" y2="356.68" stroke="#1a1a1a" stroke-width="0.6" stroke-linecap="butt"/>
<line x1="568" y1="355.61" x2="570" y2="355.61" stroke="#1a1a1a" stroke-width="0.6" stroke-linecap="butt"/>
<line x1="568" y1="354.66" x2="570" y2="354.66" stroke="#1a1a1a" stroke-width="0.6" stroke-linecap="butt"/>
<line x1="566" y1="353.82" x2="570" y2="353.82" stroke="#1a1a1a" stroke-width="1.3" stroke-linecap="butt"/>
<text transform="translate(566.2,356.62) scale(1,1)" font-size="8.8" text-anchor="end" fill="#1a1a1a">10<tspan dx="0.8" dy="-3.3" font-size="6.2">3</tspan></text>
<line x1="568" y1="348.27" x2="570" y2="348.27" stroke="#1a1a1a" stroke-width="0.6" stroke-linecap="butt"/>
<line x1="568" y1="345.02" x2="570" y2="345.02" stroke="#1a1a1a" stroke-width="0.6" stroke-linecap="butt"/>
<line x1="568" y1="342.72" x2="570" y2="342.72" stroke="#1a1a1a" stroke-width="0.6" stroke-linecap="butt"/>
<line x1="568" y1="340.93" x2="570" y2="340.93" stroke="#1a1a1a" stroke-width="0.6" stroke-linecap="butt"/>
<line x1="568" y1="339.47" x2="570" y2="339.47" stroke="#1a1a1a" stroke-width="0.6" stroke-linecap="butt"/>
<line x1="568" y1="338.24" x2="570" y2="338.24" stroke="#1a1a1a" stroke-width="0.6" stroke-linecap="butt"/>
<line x1="568" y1="337.17" x2="570" y2="337.17" stroke="#1a1a1a" stroke-width="0.6" stroke-linecap="butt"/>
<line x1="568" y1="336.22" x2="570" y2="336.22" stroke="#1a1a1a" stroke-width="0.6" stroke-linecap="butt"/>
<line x1="566" y1="335.38" x2="570" y2="335.38" stroke="#1a1a1a" stroke-width="1.3" stroke-linecap="butt"/>
<text transform="translate(566.2,338.18) scale(1,1)" font-size="8.8" text-anchor="end" fill="#1a1a1a">10<tspan dx="0.8" dy="-3.3" font-size="6.2">4</tspan></text>
<line x1="568" y1="329.83" x2="570" y2="329.83" stroke="#1a1a1a" stroke-width="0.6" stroke-linecap="butt"/>
<line x1="568" y1="326.58" x2="570" y2="326.58" stroke="#1a1a1a" stroke-width="0.6" stroke-linecap="butt"/>
<line x1="568" y1="324.28" x2="570" y2="324.28" stroke="#1a1a1a" stroke-width="0.6" stroke-linecap="butt"/>
<line x1="568" y1="322.49" x2="570" y2="322.49" stroke="#1a1a1a" stroke-width="0.6" stroke-linecap="butt"/>
<line x1="568" y1="321.03" x2="570" y2="321.03" stroke="#1a1a1a" stroke-width="0.6" stroke-linecap="butt"/>
<line x1="568" y1="319.8" x2="570" y2="319.8" stroke="#1a1a1a" stroke-width="0.6" stroke-linecap="butt"/>
<line x1="568" y1="318.73" x2="570" y2="318.73" stroke="#1a1a1a" stroke-width="0.6" stroke-linecap="butt"/>
<line x1="568" y1="317.78" x2="570" y2="317.78" stroke="#1a1a1a" stroke-width="0.6" stroke-linecap="butt"/>
<line x1="566" y1="316.94" x2="570" y2="316.94" stroke="#1a1a1a" stroke-width="1.3" stroke-linecap="butt"/>
<text transform="translate(566.2,319.74) scale(1,1)" font-size="8.8" text-anchor="end" fill="#1a1a1a">10<tspan dx="0.8" dy="-3.3" font-size="6.2">5</tspan></text>
<line x1="568" y1="311.39" x2="570" y2="311.39" stroke="#1a1a1a" stroke-width="0.6" stroke-linecap="butt"/>
<line x1="568" y1="308.14" x2="570" y2="308.14" stroke="#1a1a1a" stroke-width="0.6" stroke-linecap="butt"/>
<line x1="568" y1="305.84" x2="570" y2="305.84" stroke="#1a1a1a" stroke-width="0.6" stroke-linecap="butt"/>
<line x1="568" y1="304.05" x2="570" y2="304.05" stroke="#1a1a1a" stroke-width="0.6" stroke-linecap="butt"/>
<line x1="568" y1="302.59" x2="570" y2="302.59" stroke="#1a1a1a" stroke-width="0.6" stroke-linecap="butt"/>
<line x1="568" y1="301.36" x2="570" y2="301.36" stroke="#1a1a1a" stroke-width="0.6" stroke-linecap="butt"/>
<line x1="568" y1="300.29" x2="570" y2="300.29" stroke="#1a1a1a" stroke-width="0.6" stroke-linecap="butt"/>
<line x1="568" y1="299.34" x2="570" y2="299.34" stroke="#1a1a1a" stroke-width="0.6" stroke-linecap="butt"/>
<line x1="566" y1="298.5" x2="570" y2="298.5" stroke="#1a1a1a" stroke-width="1.3" stroke-linecap="butt"/>
<text transform="translate(566.2,301.3) scale(1,1)" font-size="8.8" text-anchor="end" fill="#1a1a1a">10<tspan dx="0.8" dy="-3.3" font-size="6.2">6</tspan></text>
<line x1="569.4" y1="390.7" x2="662.5" y2="390.7" stroke="#1a1a1a" stroke-width="1.2" stroke-linecap="butt"/>
<line x1="570" y1="390.7" x2="570" y2="394.3" stroke="#1a1a1a" stroke-width="1.2" stroke-linecap="butt"/>
<text transform="translate(570,403.9) scale(0.8,1)" font-size="9.6" text-anchor="middle" fill="#1a1a1a" >0</text>
<line x1="583.22" y1="390.7" x2="583.22" y2="394.3" stroke="#1a1a1a" stroke-width="1.2" stroke-linecap="butt"/>
<text transform="translate(583.22,403.9) scale(0.8,1)" font-size="9.6" text-anchor="middle" fill="#1a1a1a" >5</text>
<line x1="596.43" y1="390.7" x2="596.43" y2="394.3" stroke="#1a1a1a" stroke-width="1.2" stroke-linecap="butt"/>
<text transform="translate(596.43,403.9) scale(0.8,1)" font-size="9.6" text-anchor="middle" fill="#1a1a1a" >10</text>
<line x1="609.64" y1="390.7" x2="609.64" y2="394.3" stroke="#1a1a1a" stroke-width="1.2" stroke-linecap="butt"/>
<text transform="translate(609.64,403.9) scale(0.8,1)" font-size="9.6" text-anchor="middle" fill="#1a1a1a" >15</text>
<line x1="622.86" y1="390.7" x2="622.86" y2="394.3" stroke="#1a1a1a" stroke-width="1.2" stroke-linecap="butt"/>
<text transform="translate(622.86,403.9) scale(0.8,1)" font-size="9.6" text-anchor="middle" fill="#1a1a1a" >20</text>
<line x1="636.08" y1="390.7" x2="636.08" y2="394.3" stroke="#1a1a1a" stroke-width="1.2" stroke-linecap="butt"/>
<text transform="translate(636.08,403.9) scale(0.8,1)" font-size="9.6" text-anchor="middle" fill="#1a1a1a" >25</text>
<line x1="649.29" y1="390.7" x2="649.29" y2="394.3" stroke="#1a1a1a" stroke-width="1.2" stroke-linecap="butt"/>
<text transform="translate(649.29,403.9) scale(0.8,1)" font-size="9.6" text-anchor="middle" fill="#1a1a1a" >30</text>
<line x1="662.5" y1="390.7" x2="662.5" y2="394.3" stroke="#1a1a1a" stroke-width="1.2" stroke-linecap="butt"/>
<text transform="translate(662.5,403.9) scale(0.8,1)" font-size="9.6" text-anchor="middle" fill="#1a1a1a" >35</text>
<line x1="570" y1="353.82" x2="662.5" y2="353.82" stroke="#333" stroke-width="1" stroke-linecap="butt" stroke-dasharray="1.2,1.5"/>
<text transform="translate(623.3,298)" font-size="12.3" text-anchor="middle" fill="#1a1a1a" >CAR.SSR</text>
<polyline points="577.93,366.73 588.5,313.25 596.43,328.93 607,350.13 617.57,328.93 638.72,344.78 657.22,346.63" fill="none" stroke="#9a6526" stroke-width="0.9" stroke-linejoin="round"/>
<rect x="576.18" y="364.98" width="3.5" height="3.5" fill="#9a6526"/>
<rect x="586.75" y="311.5" width="3.5" height="3.5" fill="#9a6526"/>
<rect x="594.68" y="327.18" width="3.5" height="3.5" fill="#9a6526"/>
<rect x="605.25" y="348.38" width="3.5" height="3.5" fill="#9a6526"/>
<rect x="615.82" y="327.18" width="3.5" height="3.5" fill="#9a6526"/>
<rect x="636.97" y="343.03" width="3.5" height="3.5" fill="#9a6526"/>
<rect x="655.47" y="344.88" width="3.5" height="3.5" fill="#9a6526"/>
<polyline points="577.93,368.57 588.5,315.1 596.43,332.43 607,350.13 617.57,335.93 638.72,348.29 657.22,351.79" fill="none" stroke="#9a6526" stroke-width="0.9" stroke-linejoin="round"/>
<rect x="576.18" y="366.82" width="3.5" height="3.5" fill="#9a6526"/>
<rect x="586.75" y="313.35" width="3.5" height="3.5" fill="#9a6526"/>
<rect x="594.68" y="330.68" width="3.5" height="3.5" fill="#9a6526"/>
<rect x="605.25" y="348.38" width="3.5" height="3.5" fill="#9a6526"/>
<rect x="615.82" y="334.18" width="3.5" height="3.5" fill="#9a6526"/>
<rect x="636.97" y="346.54" width="3.5" height="3.5" fill="#9a6526"/>
<rect x="655.47" y="350.04" width="3.5" height="3.5" fill="#9a6526"/>
<polyline points="577.93,374.66 588.5,320.26 596.43,337.78 607,360.64 617.57,339.44 638.72,351.79 657.22,363.04" fill="none" stroke="#9a6526" stroke-width="0.9" stroke-linejoin="round"/>
<rect x="576.18" y="372.91" width="3.5" height="3.5" fill="#9a6526"/>
<rect x="586.75" y="318.51" width="3.5" height="3.5" fill="#9a6526"/>
<rect x="594.68" y="336.03" width="3.5" height="3.5" fill="#9a6526"/>
<rect x="605.25" y="358.89" width="3.5" height="3.5" fill="#9a6526"/>
<rect x="615.82" y="337.69" width="3.5" height="3.5" fill="#9a6526"/>
<rect x="636.97" y="350.04" width="3.5" height="3.5" fill="#9a6526"/>
<rect x="655.47" y="361.29" width="3.5" height="3.5" fill="#9a6526"/>
<polyline points="577.93,370.42 588.5,316.94 596.43,331.69 607,350.13 617.57,341.28 638.72,350.13 657.22,363.04" fill="none" stroke="#9a6526" stroke-width="0.9" stroke-linejoin="round"/>
<rect x="576.18" y="368.67" width="3.5" height="3.5" fill="#9a6526"/>
<rect x="586.75" y="315.19" width="3.5" height="3.5" fill="#9a6526"/>
<rect x="594.68" y="329.94" width="3.5" height="3.5" fill="#9a6526"/>
<rect x="605.25" y="348.38" width="3.5" height="3.5" fill="#9a6526"/>
<rect x="615.82" y="339.53" width="3.5" height="3.5" fill="#9a6526"/>
<rect x="636.97" y="348.38" width="3.5" height="3.5" fill="#9a6526"/>
<rect x="655.47" y="361.29" width="3.5" height="3.5" fill="#9a6526"/>
<text transform="translate(145,454)" font-size="14.3" text-anchor="middle" fill="#1a1a1a" >CAR-T expansion (day 14)</text>
<line x1="83.8" y1="485" x2="83.8" y2="595.7" stroke="#1a1a1a" stroke-width="1.3" stroke-linecap="butt"/>
<line x1="80.3" y1="595" x2="83.8" y2="595" stroke="#1a1a1a" stroke-width="1" stroke-linecap="butt"/>
<line x1="81.8" y1="576.75" x2="83.8" y2="576.75" stroke="#1a1a1a" stroke-width="1" stroke-linecap="butt"/>
<line x1="80.3" y1="558.5" x2="83.8" y2="558.5" stroke="#1a1a1a" stroke-width="1" stroke-linecap="butt"/>
<line x1="81.8" y1="540.25" x2="83.8" y2="540.25" stroke="#1a1a1a" stroke-width="1" stroke-linecap="butt"/>
<line x1="80.3" y1="522" x2="83.8" y2="522" stroke="#1a1a1a" stroke-width="1" stroke-linecap="butt"/>
<line x1="81.8" y1="503.75" x2="83.8" y2="503.75" stroke="#1a1a1a" stroke-width="1" stroke-linecap="butt"/>
<line x1="80.3" y1="485.5" x2="83.8" y2="485.5" stroke="#1a1a1a" stroke-width="1" stroke-linecap="butt"/>
<text transform="translate(79.3,488.5) scale(1.22,1)" font-size="9" text-anchor="end" fill="#1a1a1a">6&#215;10<tspan dy="-3.4" font-size="6.3">5</tspan></text>
<text transform="translate(79.3,525) scale(1.22,1)" font-size="9" text-anchor="end" fill="#1a1a1a">4&#215;10<tspan dy="-3.4" font-size="6.3">5</tspan></text>
<text transform="translate(79.3,561.5) scale(1.22,1)" font-size="9" text-anchor="end" fill="#1a1a1a">2&#215;10<tspan dy="-3.4" font-size="6.3">5</tspan></text>
<text transform="translate(79.3,598.2) scale(1.15,1)" font-size="9.5" text-anchor="end" fill="#1a1a1a" >0</text>
<line x1="83.2" y1="595" x2="192.7" y2="595" stroke="#1a1a1a" stroke-width="1.4" stroke-linecap="butt"/>
<line x1="97.2" y1="595" x2="97.2" y2="599" stroke="#1a1a1a" stroke-width="1.3" stroke-linecap="butt"/>
<line x1="117.3" y1="595" x2="117.3" y2="599" stroke="#1a1a1a" stroke-width="1.3" stroke-linecap="butt"/>
<line x1="137.5" y1="595" x2="137.5" y2="599" stroke="#1a1a1a" stroke-width="1.3" stroke-linecap="butt"/>
<line x1="158.5" y1="595" x2="158.5" y2="599" stroke="#1a1a1a" stroke-width="1.3" stroke-linecap="butt"/>
<line x1="178.7" y1="595" x2="178.7" y2="599" stroke="#1a1a1a" stroke-width="1.3" stroke-linecap="butt"/>
<text transform="translate(30.8,539.3) rotate(-90)" font-size="10.6" text-anchor="middle" fill="#1a1a1a" >CAR-T expansion</text>
<text transform="translate(42.8,539.3) rotate(-90)" font-size="10.6" text-anchor="middle" fill="#1a1a1a" >in PB (AUC)</text>
<rect x="91.6" y="587.7" width="11.2" height="7.3" fill="none" stroke="#3a3a3a" stroke-width="1.8"/>
<rect x="111.7" y="580.4" width="11.2" height="14.6" fill="none" stroke="#c6c212" stroke-width="1.8"/>
<rect x="131.9" y="592.45" width="11.2" height="2.55" fill="none" stroke="#ff1a1a" stroke-width="1.8"/>
<rect x="152.9" y="524.74" width="11.2" height="70.26" fill="none" stroke="#9a6526" stroke-width="1.8"/>
<rect x="173.1" y="592.63" width="11.2" height="2.37" fill="none" stroke="#a8125e" stroke-width="1.8"/>
<circle cx="93.2" cy="588.43" r="2.2" fill="#3a3a3a"/>
<circle cx="95.2" cy="587.15" r="2.2" fill="#3a3a3a"/>
<circle cx="97.2" cy="586.97" r="2.2" fill="#3a3a3a"/>
<circle cx="99.2" cy="587.7" r="2.2" fill="#3a3a3a"/>
<circle cx="101.2" cy="588.25" r="2.2" fill="#3a3a3a"/>
<rect x="115.1" y="554.47" width="4.4" height="4.4" fill="#c6c212"/>
<rect x="111.1" y="577.29" width="4.4" height="4.4" fill="#c6c212"/>
<rect x="118.1" y="580.02" width="4.4" height="4.4" fill="#c6c212"/>
<rect x="115.1" y="583.67" width="4.4" height="4.4" fill="#c6c212"/>
<rect x="115.1" y="592.07" width="4.4" height="4.4" fill="#c6c212"/>
<path d="M133.5,589.92L135.92,594.21L131.08,594.21Z" fill="#ff1a1a"/>
<path d="M135.5,589.37L137.92,593.66L133.08,593.66Z" fill="#ff1a1a"/>
<path d="M137.5,590.28L139.92,594.57L135.08,594.57Z" fill="#ff1a1a"/>
<path d="M139.5,589.73L141.92,594.02L137.08,594.02Z" fill="#ff1a1a"/>
<path d="M141.5,590.28L143.92,594.57L139.08,594.57Z" fill="#ff1a1a"/>
<rect x="156.3" y="490.6" width="4.4" height="4.4" fill="#9a6526"/>
<rect x="156.3" y="505.2" width="4.4" height="4.4" fill="#9a6526"/>
<rect x="157.3" y="511.59" width="4.4" height="4.4" fill="#9a6526"/>
<rect x="156.3" y="549" width="4.4" height="4.4" fill="#9a6526"/>
<rect x="156.3" y="554.47" width="4.4" height="4.4" fill="#9a6526"/>
<path d="M174.7,590.1L177.12,594.39L172.28,594.39Z" fill="#a8125e"/>
<path d="M176.7,589.55L179.12,593.84L174.28,593.84Z" fill="#a8125e"/>
<path d="M178.7,589.73L181.12,594.02L176.28,594.02Z" fill="#a8125e"/>
<path d="M180.7,589.92L183.12,594.21L178.28,594.21Z" fill="#a8125e"/>
<path d="M182.7,590.1L185.12,594.39L180.28,594.39Z" fill="#a8125e"/>
<line x1="117.3" y1="580.4" x2="117.3" y2="573.1" stroke="#c6c212" stroke-width="1.2" stroke-linecap="butt"/>
<line x1="113.3" y1="573.1" x2="121.3" y2="573.1" stroke="#c6c212" stroke-width="1.2" stroke-linecap="butt"/>
<line x1="158.5" y1="537.51" x2="158.5" y2="511.96" stroke="#9a6526" stroke-width="1.2" stroke-linecap="butt"/>
<line x1="154.5" y1="511.96" x2="162.5" y2="511.96" stroke="#9a6526" stroke-width="1.2" stroke-linecap="butt"/>
<line x1="154.5" y1="537.51" x2="162.5" y2="537.51" stroke="#9a6526" stroke-width="1.2" stroke-linecap="butt"/>
<line x1="116.2" y1="476.1" x2="158.5" y2="476.1" stroke="#111" stroke-width="1.6" stroke-linecap="butt"/>
<text transform="translate(137.3,476.3)" font-size="12.5" text-anchor="middle" fill="#1a1a1a" font-weight="bold" >***</text>
<line x1="135.2" y1="488.4" x2="158.5" y2="488.4" stroke="#111" stroke-width="1.6" stroke-linecap="butt"/>
<text transform="translate(147.3,488.6)" font-size="12.5" text-anchor="middle" fill="#1a1a1a" font-weight="bold" >***</text>
<circle cx="207.2" cy="493.7" r="2.3" fill="#3a3a3a"/>
<text transform="translate(219.8,497)" font-size="9.5" text-anchor="start" fill="#1a1a1a" >NT</text>
<rect x="204.9" y="506" width="4.6" height="4.6" fill="#c6c212"/>
<text transform="translate(219.8,511.6)" font-size="9.5" text-anchor="start" fill="#1a1a1a" >CAR</text>
<path d="M207.2,520.25L209.73,524.74L204.67,524.74Z" fill="#ff1a1a"/>
<text transform="translate(219.8,526.2)" font-size="9.5" text-anchor="start" fill="#1a1a1a" >CAR.&#916;SSR</text>
<rect x="204.9" y="535.2" width="4.6" height="4.6" fill="#9a6526"/>
<text transform="translate(219.8,540.8)" font-size="9.5" text-anchor="start" fill="#1a1a1a" >CAR.SSR</text>
<path d="M207.2,549.46L209.73,553.94L204.67,553.94Z" fill="#a8125e"/>
<text transform="translate(219.8,555.4)" font-size="9.5" text-anchor="start" fill="#1a1a1a" >SSR</text>
<text transform="translate(437,454.8)" font-size="14" text-anchor="middle" fill="#1a1a1a" >Overall Survival</text>
<line x1="339.2" y1="457.5" x2="339.2" y2="582" stroke="#1a1a1a" stroke-width="2" stroke-linecap="butt"/>
<line x1="335.2" y1="581" x2="339.2" y2="581" stroke="#1a1a1a" stroke-width="1.8" stroke-linecap="butt"/>
<text transform="translate(332,585.5) scale(1.08,1)" font-size="11" text-anchor="end" fill="#1a1a1a" >0</text>
<line x1="335.2" y1="558.5" x2="339.2" y2="558.5" stroke="#1a1a1a" stroke-width="1.8" stroke-linecap="butt"/>
<text transform="translate(332,563) scale(1.08,1)" font-size="11" text-anchor="end" fill="#1a1a1a" >20</text>
<line x1="335.2" y1="536" x2="339.2" y2="536" stroke="#1a1a1a" stroke-width="1.8" stroke-linecap="butt"/>
<text transform="translate(332,540.5) scale(1.08,1)" font-size="11" text-anchor="end" fill="#1a1a1a" >40</text>
<line x1="335.2" y1="513.5" x2="339.2" y2="513.5" stroke="#1a1a1a" stroke-width="1.8" stroke-linecap="butt"/>
<text transform="translate(332,518) scale(1.08,1)" font-size="11" text-anchor="end" fill="#1a1a1a" >60</text>
<line x1="335.2" y1="491" x2="339.2" y2="491" stroke="#1a1a1a" stroke-width="1.8" stroke-linecap="butt"/>
<text transform="translate(332,495.5) scale(1.08,1)" font-size="11" text-anchor="end" fill="#1a1a1a" >80</text>
<line x1="335.2" y1="468.5" x2="339.2" y2="468.5" stroke="#1a1a1a" stroke-width="1.8" stroke-linecap="butt"/>
<text transform="translate(332,473) scale(1.08,1)" font-size="11" text-anchor="end" fill="#1a1a1a" >100</text>
<line x1="338.2" y1="581" x2="541.7" y2="581" stroke="#1a1a1a" stroke-width="2" stroke-linecap="butt"/>
<line x1="339.2" y1="581" x2="339.2" y2="585.5" stroke="#1a1a1a" stroke-width="1.8" stroke-linecap="butt"/>
<text transform="translate(339.2,598.8)" font-size="11" text-anchor="middle" fill="#1a1a1a" >0</text>
<line x1="379.5" y1="581" x2="379.5" y2="585.5" stroke="#1a1a1a" stroke-width="1.8" stroke-linecap="butt"/>
<text transform="translate(379.5,598.8)" font-size="11" text-anchor="middle" fill="#1a1a1a" >10</text>
<line x1="419.8" y1="581" x2="419.8" y2="585.5" stroke="#1a1a1a" stroke-width="1.8" stroke-linecap="butt"/>
<text transform="translate(419.8,598.8)" font-size="11" text-anchor="middle" fill="#1a1a1a" >20</text>
<line x1="460.1" y1="581" x2="460.1" y2="585.5" stroke="#1a1a1a" stroke-width="1.8" stroke-linecap="butt"/>
<text transform="translate(460.1,598.8)" font-size="11" text-anchor="middle" fill="#1a1a1a" >30</text>
<line x1="500.4" y1="581" x2="500.4" y2="585.5" stroke="#1a1a1a" stroke-width="1.8" stroke-linecap="butt"/>
<text transform="translate(500.4,598.8)" font-size="11" text-anchor="middle" fill="#1a1a1a" >40</text>
<line x1="540.7" y1="581" x2="540.7" y2="585.5" stroke="#1a1a1a" stroke-width="1.8" stroke-linecap="butt"/>
<text transform="translate(540.7,598.8)" font-size="11" text-anchor="middle" fill="#1a1a1a" >50</text>
<text transform="translate(305,518.2) rotate(-90)" font-size="12.1" text-anchor="middle" fill="#1a1a1a" >Percent Survival</text>
<text transform="translate(440,617)" font-size="11.9" text-anchor="middle" fill="#1a1a1a" >Days post CAR T-cell infusion</text>
<polyline points="339.2,468.5 411.74,468.5 411.74,536 415.77,536 415.77,581" fill="none" stroke="#a8125e" stroke-width="1.3" stroke-linejoin="round"/>
<path d="M411.74,533.93L413.72,537.44L409.76,537.44Z" fill="#a8125e"/>
<path d="M415.77,556.43L417.75,559.94L413.79,559.94Z" fill="#a8125e"/>
<path d="M415.77,578.93L417.75,582.44L413.79,582.44Z" fill="#a8125e"/>
<polyline points="339.2,468.5 407.71,468.5 407.71,505.96 411.74,505.96 411.74,543.54 415.77,543.54 415.77,581" fill="none" stroke="#ff1a1a" stroke-width="1.3" stroke-linejoin="round"/>
<path d="M407.71,503.89L409.69,507.4L405.73,507.4Z" fill="#ff1a1a"/>
<path d="M411.74,541.47L413.72,544.98L409.76,544.98Z" fill="#ff1a1a"/>
<path d="M415.77,578.93L417.75,582.44L413.79,582.44Z" fill="#ff1a1a"/>
<polyline points="339.2,468.5 407.71,468.5 407.71,513.5 411.74,513.5 411.74,536 419.8,536 419.8,581" fill="none" stroke="#c6c212" stroke-width="1.5" stroke-linejoin="round"/>
<rect x="405.61" y="511.4" width="4.2" height="4.2" fill="#c6c212"/>
<rect x="409.64" y="533.9" width="4.2" height="4.2" fill="#c6c212"/>
<rect x="417.7" y="578.9" width="4.2" height="4.2" fill="#c6c212"/>
<polyline points="339.2,468.5 395.62,468.5 395.62,491 399.65,491 399.65,536 407.71,536 407.71,558.5 411.74,558.5 411.74,581" fill="none" stroke="#3a3a3a" stroke-width="1.3" stroke-linejoin="round"/>
<circle cx="395.62" cy="491" r="2" fill="#3a3a3a"/>
<circle cx="399.65" cy="536" r="2" fill="#3a3a3a"/>
<circle cx="407.71" cy="558.5" r="2" fill="#3a3a3a"/>
<circle cx="411.74" cy="581" r="2" fill="#3a3a3a"/>
<polyline points="339.2,466.48 464.13,466.48 464.13,466.48 464.13,466.48 464.13,487.62 476.22,487.62 476.22,511.25 520.55,511.25 520.55,511.25" fill="none" stroke="#9a6526" stroke-width="1.5" stroke-linejoin="round"/>
<rect x="462.03" y="485.52" width="4.2" height="4.2" fill="#9a6526"/>
<rect x="474.12" y="509.15" width="4.2" height="4.2" fill="#9a6526"/>
<rect x="518.45" y="509.15" width="4.2" height="4.2" fill="#9a6526"/>
<line x1="535" y1="465.2" x2="548.1" y2="465.2" stroke="#3a3a3a" stroke-width="1.4" stroke-linecap="butt"/>
<circle cx="541.6" cy="465.2" r="1.7" fill="#3a3a3a"/>
<text transform="translate(555.2,468.7) scale(0.93,1)" font-size="10" text-anchor="start" fill="#1a1a1a" >NT</text>
<line x1="535" y1="481.62" x2="548.1" y2="481.62" stroke="#c6c212" stroke-width="1.4" stroke-linecap="butt"/>
<rect x="539.9" y="479.92" width="3.4" height="3.4" fill="#c6c212"/>
<text transform="translate(555.2,485.12) scale(0.93,1)" font-size="10" text-anchor="start" fill="#1a1a1a" >CAR T</text>
<line x1="535" y1="498.04" x2="548.1" y2="498.04" stroke="#ff1a1a" stroke-width="1.4" stroke-linecap="butt"/>
<path d="M541.6,496.08L543.47,499.4L539.73,499.4Z" fill="#ff1a1a"/>
<text transform="translate(555.2,501.54) scale(0.93,1)" font-size="10" text-anchor="start" fill="#1a1a1a" >CAR.&#916;SSR T</text>
<line x1="535" y1="514.46" x2="548.1" y2="514.46" stroke="#9a6526" stroke-width="1.4" stroke-linecap="butt"/>
<rect x="539.9" y="512.76" width="3.4" height="3.4" fill="#9a6526"/>
<text transform="translate(555.2,517.96) scale(0.93,1)" font-size="10" text-anchor="start" fill="#1a1a1a" >CAR.SSR T</text>
<line x1="535" y1="530.88" x2="548.1" y2="530.88" stroke="#a8125e" stroke-width="1.4" stroke-linecap="butt"/>
<path d="M541.6,528.92L543.47,532.24L539.73,532.24Z" fill="#a8125e"/>
<text transform="translate(555.2,534.38) scale(0.93,1)" font-size="10" text-anchor="start" fill="#1a1a1a" >SSR T</text>
<line x1="616" y1="496.6" x2="616" y2="516.7" stroke="#111" stroke-width="1.6" stroke-linecap="butt"/>
<line x1="626" y1="474.4" x2="626" y2="516.7" stroke="#111" stroke-width="1.6" stroke-linecap="butt"/>
<text transform="translate(620.8,507.4)" font-size="13" text-anchor="middle" fill="#1a1a1a" >*</text>
<text transform="translate(620.8,513)" font-size="13" text-anchor="middle" fill="#1a1a1a" >*</text>
<text transform="translate(632.9,498.2)" font-size="13" text-anchor="middle" fill="#1a1a1a" >*</text>
<text transform="translate(632.9,503.3)" font-size="13" text-anchor="middle" fill="#1a1a1a" >*</text>
<text x="479.3" y="646.2" font-size="14.1" text-anchor="middle" fill="#1a1a1a">Systemic leukemia burden (THP1 CLL1<tspan dy="-4.5" font-size="9.5">LOW</tspan><tspan dy="4.5">)</tspan></text>
<line x1="233.3" y1="651" x2="684" y2="651" stroke="#111" stroke-width="1.8" stroke-linecap="butt"/>
<text transform="translate(223,716.9) rotate(-90)" font-size="12.3" text-anchor="middle" fill="#1a1a1a" >BLI (Avg Radiance)</text>
<text transform="translate(466,794.5)" font-size="12.2" text-anchor="middle" fill="#1a1a1a" >Days post CAR T-cell infusion</text>
<line x1="246.8" y1="671.4" x2="246.8" y2="763.8" stroke="#1a1a1a" stroke-width="2" stroke-linecap="butt"/>
<line x1="243.3" y1="759.75" x2="246.8" y2="759.75" stroke="#1a1a1a" stroke-width="2" stroke-linecap="butt"/>
<text transform="translate(242,762.55) scale(0.9,1)" font-size="8" text-anchor="end" fill="#1a1a1a">10<tspan dx="1.2" dy="-3.2" font-size="5.2">3</tspan></text>
<line x1="244.6" y1="755.97" x2="246.8" y2="755.97" stroke="#1a1a1a" stroke-width="0.8" stroke-linecap="butt"/>
<line x1="244.6" y1="753.76" x2="246.8" y2="753.76" stroke="#1a1a1a" stroke-width="0.8" stroke-linecap="butt"/>
<line x1="244.6" y1="752.19" x2="246.8" y2="752.19" stroke="#1a1a1a" stroke-width="0.8" stroke-linecap="butt"/>
<line x1="244.6" y1="750.98" x2="246.8" y2="750.98" stroke="#1a1a1a" stroke-width="0.8" stroke-linecap="butt"/>
<line x1="244.6" y1="749.98" x2="246.8" y2="749.98" stroke="#1a1a1a" stroke-width="0.8" stroke-linecap="butt"/>
<line x1="244.6" y1="749.14" x2="246.8" y2="749.14" stroke="#1a1a1a" stroke-width="0.8" stroke-linecap="butt"/>
<line x1="244.6" y1="748.42" x2="246.8" y2="748.42" stroke="#1a1a1a" stroke-width="0.8" stroke-linecap="butt"/>
<line x1="244.6" y1="747.77" x2="246.8" y2="747.77" stroke="#1a1a1a" stroke-width="0.8" stroke-linecap="butt"/>
<line x1="243.3" y1="747.2" x2="246.8" y2="747.2" stroke="#1a1a1a" stroke-width="2" stroke-linecap="butt"/>
<text transform="translate(242,750) scale(0.9,1)" font-size="8" text-anchor="end" fill="#1a1a1a">10<tspan dx="1.2" dy="-3.2" font-size="5.2">4</tspan></text>
<line x1="244.6" y1="743.42" x2="246.8" y2="743.42" stroke="#1a1a1a" stroke-width="0.8" stroke-linecap="butt"/>
<line x1="244.6" y1="741.21" x2="246.8" y2="741.21" stroke="#1a1a1a" stroke-width="0.8" stroke-linecap="butt"/>
<line x1="244.6" y1="739.64" x2="246.8" y2="739.64" stroke="#1a1a1a" stroke-width="0.8" stroke-linecap="butt"/>
<line x1="244.6" y1="738.43" x2="246.8" y2="738.43" stroke="#1a1a1a" stroke-width="0.8" stroke-linecap="butt"/>
<line x1="244.6" y1="737.43" x2="246.8" y2="737.43" stroke="#1a1a1a" stroke-width="0.8" stroke-linecap="butt"/>
<line x1="244.6" y1="736.59" x2="246.8" y2="736.59" stroke="#1a1a1a" stroke-width="0.8" stroke-linecap="butt"/>
<line x1="244.6" y1="735.87" x2="246.8" y2="735.87" stroke="#1a1a1a" stroke-width="0.8" stroke-linecap="butt"/>
<line x1="244.6" y1="735.22" x2="246.8" y2="735.22" stroke="#1a1a1a" stroke-width="0.8" stroke-linecap="butt"/>
<line x1="243.3" y1="734.65" x2="246.8" y2="734.65" stroke="#1a1a1a" stroke-width="2" stroke-linecap="butt"/>
<text transform="translate(242,737.45) scale(0.9,1)" font-size="8" text-anchor="end" fill="#1a1a1a">10<tspan dx="1.2" dy="-3.2" font-size="5.2">5</tspan></text>
<line x1="244.6" y1="730.87" x2="246.8" y2="730.87" stroke="#1a1a1a" stroke-width="0.8" stroke-linecap="butt"/>
<line x1="244.6" y1="728.66" x2="246.8" y2="728.66" stroke="#1a1a1a" stroke-width="0.8" stroke-linecap="butt"/>
<line x1="244.6" y1="727.09" x2="246.8" y2="727.09" stroke="#1a1a1a" stroke-width="0.8" stroke-linecap="butt"/>
<line x1="244.6" y1="725.88" x2="246.8" y2="725.88" stroke="#1a1a1a" stroke-width="0.8" stroke-linecap="butt"/>
<line x1="244.6" y1="724.88" x2="246.8" y2="724.88" stroke="#1a1a1a" stroke-width="0.8" stroke-linecap="butt"/>
<line x1="244.6" y1="724.04" x2="246.8" y2="724.04" stroke="#1a1a1a" stroke-width="0.8" stroke-linecap="butt"/>
<line x1="244.6" y1="723.32" x2="246.8" y2="723.32" stroke="#1a1a1a" stroke-width="0.8" stroke-linecap="butt"/>
<line x1="244.6" y1="722.67" x2="246.8" y2="722.67" stroke="#1a1a1a" stroke-width="0.8" stroke-linecap="butt"/>
<line x1="243.3" y1="722.1" x2="246.8" y2="722.1" stroke="#1a1a1a" stroke-width="2" stroke-linecap="butt"/>
<text transform="translate(242,724.9) scale(0.9,1)" font-size="8" text-anchor="end" fill="#1a1a1a">10<tspan dx="1.2" dy="-3.2" font-size="5.2">6</tspan></text>
<line x1="244.6" y1="718.32" x2="246.8" y2="718.32" stroke="#1a1a1a" stroke-width="0.8" stroke-linecap="butt"/>
<line x1="244.6" y1="716.11" x2="246.8" y2="716.11" stroke="#1a1a1a" stroke-width="0.8" stroke-linecap="butt"/>
<line x1="244.6" y1="714.54" x2="246.8" y2="714.54" stroke="#1a1a1a" stroke-width="0.8" stroke-linecap="butt"/>
<line x1="244.6" y1="713.33" x2="246.8" y2="713.33" stroke="#1a1a1a" stroke-width="0.8" stroke-linecap="butt"/>
<line x1="244.6" y1="712.33" x2="246.8" y2="712.33" stroke="#1a1a1a" stroke-width="0.8" stroke-linecap="butt"/>
<line x1="244.6" y1="711.49" x2="246.8" y2="711.49" stroke="#1a1a1a" stroke-width="0.8" stroke-linecap="butt"/>
<line x1="244.6" y1="710.77" x2="246.8" y2="710.77" stroke="#1a1a1a" stroke-width="0.8" stroke-linecap="butt"/>
<line x1="244.6" y1="710.12" x2="246.8" y2="710.12" stroke="#1a1a1a" stroke-width="0.8" stroke-linecap="butt"/>
<line x1="243.3" y1="709.55" x2="246.8" y2="709.55" stroke="#1a1a1a" stroke-width="2" stroke-linecap="butt"/>
<text transform="translate(242,712.35) scale(0.9,1)" font-size="8" text-anchor="end" fill="#1a1a1a">10<tspan dx="1.2" dy="-3.2" font-size="5.2">7</tspan></text>
<line x1="244.6" y1="705.77" x2="246.8" y2="705.77" stroke="#1a1a1a" stroke-width="0.8" stroke-linecap="butt"/>
<line x1="244.6" y1="703.56" x2="246.8" y2="703.56" stroke="#1a1a1a" stroke-width="0.8" stroke-linecap="butt"/>
<line x1="244.6" y1="701.99" x2="246.8" y2="701.99" stroke="#1a1a1a" stroke-width="0.8" stroke-linecap="butt"/>
<line x1="244.6" y1="700.78" x2="246.8" y2="700.78" stroke="#1a1a1a" stroke-width="0.8" stroke-linecap="butt"/>
<line x1="244.6" y1="699.78" x2="246.8" y2="699.78" stroke="#1a1a1a" stroke-width="0.8" stroke-linecap="butt"/>
<line x1="244.6" y1="698.94" x2="246.8" y2="698.94" stroke="#1a1a1a" stroke-width="0.8" stroke-linecap="butt"/>
<line x1="244.6" y1="698.22" x2="246.8" y2="698.22" stroke="#1a1a1a" stroke-width="0.8" stroke-linecap="butt"/>
<line x1="244.6" y1="697.57" x2="246.8" y2="697.57" stroke="#1a1a1a" stroke-width="0.8" stroke-linecap="butt"/>
<line x1="243.3" y1="697" x2="246.8" y2="697" stroke="#1a1a1a" stroke-width="2" stroke-linecap="butt"/>
<text transform="translate(242,699.8) scale(0.9,1)" font-size="8" text-anchor="end" fill="#1a1a1a">10<tspan dx="1.2" dy="-3.2" font-size="5.2">8</tspan></text>
<line x1="244.6" y1="693.22" x2="246.8" y2="693.22" stroke="#1a1a1a" stroke-width="0.8" stroke-linecap="butt"/>
<line x1="244.6" y1="691.01" x2="246.8" y2="691.01" stroke="#1a1a1a" stroke-width="0.8" stroke-linecap="butt"/>
<line x1="244.6" y1="689.44" x2="246.8" y2="689.44" stroke="#1a1a1a" stroke-width="0.8" stroke-linecap="butt"/>
<line x1="244.6" y1="688.23" x2="246.8" y2="688.23" stroke="#1a1a1a" stroke-width="0.8" stroke-linecap="butt"/>
<line x1="244.6" y1="687.23" x2="246.8" y2="687.23" stroke="#1a1a1a" stroke-width="0.8" stroke-linecap="butt"/>
<line x1="244.6" y1="686.39" x2="246.8" y2="686.39" stroke="#1a1a1a" stroke-width="0.8" stroke-linecap="butt"/>
<line x1="244.6" y1="685.67" x2="246.8" y2="685.67" stroke="#1a1a1a" stroke-width="0.8" stroke-linecap="butt"/>
<line x1="244.6" y1="685.02" x2="246.8" y2="685.02" stroke="#1a1a1a" stroke-width="0.8" stroke-linecap="butt"/>
<line x1="243.3" y1="684.45" x2="246.8" y2="684.45" stroke="#1a1a1a" stroke-width="2" stroke-linecap="butt"/>
<text transform="translate(242,687.25) scale(0.9,1)" font-size="8" text-anchor="end" fill="#1a1a1a">10<tspan dx="1.2" dy="-3.2" font-size="5.2">9</tspan></text>
<line x1="244.6" y1="680.67" x2="246.8" y2="680.67" stroke="#1a1a1a" stroke-width="0.8" stroke-linecap="butt"/>
<line x1="244.6" y1="678.46" x2="246.8" y2="678.46" stroke="#1a1a1a" stroke-width="0.8" stroke-linecap="butt"/>
<line x1="244.6" y1="676.89" x2="246.8" y2="676.89" stroke="#1a1a1a" stroke-width="0.8" stroke-linecap="butt"/>
<line x1="244.6" y1="675.68" x2="246.8" y2="675.68" stroke="#1a1a1a" stroke-width="0.8" stroke-linecap="butt"/>
<line x1="244.6" y1="674.68" x2="246.8" y2="674.68" stroke="#1a1a1a" stroke-width="0.8" stroke-linecap="butt"/>
<line x1="244.6" y1="673.84" x2="246.8" y2="673.84" stroke="#1a1a1a" stroke-width="0.8" stroke-linecap="butt"/>
<line x1="244.6" y1="673.12" x2="246.8" y2="673.12" stroke="#1a1a1a" stroke-width="0.8" stroke-linecap="butt"/>
<line x1="244.6" y1="672.47" x2="246.8" y2="672.47" stroke="#1a1a1a" stroke-width="0.8" stroke-linecap="butt"/>
<line x1="243.3" y1="671.9" x2="246.8" y2="671.9" stroke="#1a1a1a" stroke-width="2" stroke-linecap="butt"/>
<text transform="translate(242,674.7) scale(0.9,1)" font-size="8" text-anchor="end" fill="#1a1a1a">10<tspan dx="1.2" dy="-3.2" font-size="5.2">10</tspan></text>
<line x1="246.05" y1="762.8" x2="333.9" y2="762.8" stroke="#1a1a1a" stroke-width="1.5" stroke-linecap="butt"/>
<line x1="252.7" y1="762.8" x2="252.7" y2="766.6" stroke="#1a1a1a" stroke-width="1.5" stroke-linecap="butt"/>
<text transform="translate(252.7,776.9) scale(0.78,1)" font-size="9.8" text-anchor="middle" fill="#1a1a1a" >0</text>
<line x1="262.85" y1="762.8" x2="262.85" y2="765.08" stroke="#1a1a1a" stroke-width="1.2" stroke-linecap="butt"/>
<line x1="273" y1="762.8" x2="273" y2="766.6" stroke="#1a1a1a" stroke-width="1.5" stroke-linecap="butt"/>
<text transform="translate(273,776.9) scale(0.78,1)" font-size="9.8" text-anchor="middle" fill="#1a1a1a" >10</text>
<line x1="283.15" y1="762.8" x2="283.15" y2="765.08" stroke="#1a1a1a" stroke-width="1.2" stroke-linecap="butt"/>
<line x1="293.3" y1="762.8" x2="293.3" y2="766.6" stroke="#1a1a1a" stroke-width="1.5" stroke-linecap="butt"/>
<text transform="translate(293.3,776.9) scale(0.78,1)" font-size="9.8" text-anchor="middle" fill="#1a1a1a" >20</text>
<line x1="303.45" y1="762.8" x2="303.45" y2="765.08" stroke="#1a1a1a" stroke-width="1.2" stroke-linecap="butt"/>
<line x1="313.6" y1="762.8" x2="313.6" y2="766.6" stroke="#1a1a1a" stroke-width="1.5" stroke-linecap="butt"/>
<text transform="translate(313.6,776.9) scale(0.78,1)" font-size="9.8" text-anchor="middle" fill="#1a1a1a" >30</text>
<line x1="323.75" y1="762.8" x2="323.75" y2="765.08" stroke="#1a1a1a" stroke-width="1.2" stroke-linecap="butt"/>
<line x1="333.9" y1="762.8" x2="333.9" y2="766.6" stroke="#1a1a1a" stroke-width="1.5" stroke-linecap="butt"/>
<text transform="translate(333.9,776.9) scale(0.78,1)" font-size="9.8" text-anchor="middle" fill="#1a1a1a" >40</text>
<line x1="305.48" y1="671.9" x2="305.48" y2="762" stroke="#222" stroke-width="1" stroke-linecap="butt" stroke-dasharray="1.2,1.5"/>
<text transform="translate(298.3,667.8)" font-size="12.3" text-anchor="middle" fill="#1a1a1a" >NT</text>
<polyline points="252.7,736.28 262.85,730.13 268.94,723.61 279.09,712.44 283.15,708.67 297.36,693.36 305.48,685.2 311.57,679.05" fill="none" stroke="#aaaaaa" stroke-width="0.6" stroke-linejoin="round" stroke-dasharray="1.2,1"/>
<circle cx="252.7" cy="736.28" r="1.5" fill="none" stroke="#999" stroke-width="0.7"/>
<circle cx="262.85" cy="730.13" r="1.5" fill="none" stroke="#999" stroke-width="0.7"/>
<circle cx="268.94" cy="723.61" r="1.5" fill="none" stroke="#999" stroke-width="0.7"/>
<circle cx="279.09" cy="712.44" r="1.5" fill="none" stroke="#999" stroke-width="0.7"/>
<circle cx="283.15" cy="708.67" r="1.5" fill="none" stroke="#999" stroke-width="0.7"/>
<circle cx="297.36" cy="693.36" r="1.5" fill="none" stroke="#999" stroke-width="0.7"/>
<circle cx="305.48" cy="685.2" r="1.5" fill="none" stroke="#999" stroke-width="0.7"/>
<circle cx="311.57" cy="679.05" r="1.5" fill="none" stroke="#999" stroke-width="0.7"/>
<polyline points="252.7,740.92 262.85,742.18 268.94,728.38 279.09,718.34 283.15,713.31 291.27,705.78 297.36,699.51 305.48,691.35 311.57,684.45 319.69,678.05" fill="none" stroke="#3a3a3a" stroke-width="0.9" stroke-linejoin="round"/>
<circle cx="252.7" cy="740.92" r="1.45" fill="#3a3a3a"/>
<circle cx="262.85" cy="742.18" r="1.45" fill="#3a3a3a"/>
<circle cx="268.94" cy="728.38" r="1.45" fill="#3a3a3a"/>
<circle cx="279.09" cy="718.34" r="1.45" fill="#3a3a3a"/>
<circle cx="283.15" cy="713.31" r="1.45" fill="#3a3a3a"/>
<circle cx="291.27" cy="705.78" r="1.45" fill="#3a3a3a"/>
<circle cx="297.36" cy="699.51" r="1.45" fill="#3a3a3a"/>
<circle cx="305.48" cy="691.35" r="1.45" fill="#3a3a3a"/>
<circle cx="311.57" cy="684.45" r="1.45" fill="#3a3a3a"/>
<circle cx="319.69" cy="678.05" r="1.45" fill="#3a3a3a"/>
<polyline points="252.7,742.18 262.85,735.9 268.94,729.63 279.09,719.59 283.15,713.94 291.27,707.04 297.36,700.76 305.48,692.61 311.57,685.7 319.69,681.94" fill="none" stroke="#3a3a3a" stroke-width="0.9" stroke-linejoin="round"/>
<circle cx="252.7" cy="742.18" r="1.45" fill="#3a3a3a"/>
<circle cx="262.85" cy="735.9" r="1.45" fill="#3a3a3a"/>
<circle cx="268.94" cy="729.63" r="1.45" fill="#3a3a3a"/>
<circle cx="279.09" cy="719.59" r="1.45" fill="#3a3a3a"/>
<circle cx="283.15" cy="713.94" r="1.45" fill="#3a3a3a"/>
<circle cx="291.27" cy="707.04" r="1.45" fill="#3a3a3a"/>
<circle cx="297.36" cy="700.76" r="1.45" fill="#3a3a3a"/>
<circle cx="305.48" cy="692.61" r="1.45" fill="#3a3a3a"/>
<circle cx="311.57" cy="685.7" r="1.45" fill="#3a3a3a"/>
<circle cx="319.69" cy="681.94" r="1.45" fill="#3a3a3a"/>
<polyline points="252.7,743.43 262.85,746.45 268.94,730.88 279.09,720.22 283.15,714.57 291.27,707.67 297.36,702.02 305.48,693.86 311.57,686.96 319.69,684.45" fill="none" stroke="#3a3a3a" stroke-width="0.9" stroke-linejoin="round"/>
<circle cx="252.7" cy="743.43" r="1.45" fill="#3a3a3a"/>
<circle cx="262.85" cy="746.45" r="1.45" fill="#3a3a3a"/>
<circle cx="268.94" cy="730.88" r="1.45" fill="#3a3a3a"/>
<circle cx="279.09" cy="720.22" r="1.45" fill="#3a3a3a"/>
<circle cx="283.15" cy="714.57" r="1.45" fill="#3a3a3a"/>
<circle cx="291.27" cy="707.67" r="1.45" fill="#3a3a3a"/>
<circle cx="297.36" cy="702.02" r="1.45" fill="#3a3a3a"/>
<circle cx="305.48" cy="693.86" r="1.45" fill="#3a3a3a"/>
<circle cx="311.57" cy="686.96" r="1.45" fill="#3a3a3a"/>
<circle cx="319.69" cy="684.45" r="1.45" fill="#3a3a3a"/>
<polyline points="252.7,744.56 262.85,737.16 268.94,732.14 279.09,720.85 283.15,714.82 291.27,708.67 297.36,702.65 305.48,695.37 311.57,689.34 319.69,688.22" fill="none" stroke="#3a3a3a" stroke-width="0.9" stroke-linejoin="round"/>
<circle cx="252.7" cy="744.56" r="1.45" fill="#3a3a3a"/>
<circle cx="262.85" cy="737.16" r="1.45" fill="#3a3a3a"/>
<circle cx="268.94" cy="732.14" r="1.45" fill="#3a3a3a"/>
<circle cx="279.09" cy="720.85" r="1.45" fill="#3a3a3a"/>
<circle cx="283.15" cy="714.82" r="1.45" fill="#3a3a3a"/>
<circle cx="291.27" cy="708.67" r="1.45" fill="#3a3a3a"/>
<circle cx="297.36" cy="702.65" r="1.45" fill="#3a3a3a"/>
<circle cx="305.48" cy="695.37" r="1.45" fill="#3a3a3a"/>
<circle cx="311.57" cy="689.34" r="1.45" fill="#3a3a3a"/>
<circle cx="319.69" cy="688.22" r="1.45" fill="#3a3a3a"/>
<polyline points="252.7,739.67 262.85,734.65 268.94,729 279.09,718.96 283.15,713.31 291.27,706.41 297.36,701.39 305.48,693.24 311.57,688.22 319.69,686.33" fill="none" stroke="#3a3a3a" stroke-width="0.9" stroke-linejoin="round"/>
<circle cx="252.7" cy="739.67" r="1.45" fill="#3a3a3a"/>
<circle cx="262.85" cy="734.65" r="1.45" fill="#3a3a3a"/>
<circle cx="268.94" cy="729" r="1.45" fill="#3a3a3a"/>
<circle cx="279.09" cy="718.96" r="1.45" fill="#3a3a3a"/>
<circle cx="283.15" cy="713.31" r="1.45" fill="#3a3a3a"/>
<circle cx="291.27" cy="706.41" r="1.45" fill="#3a3a3a"/>
<circle cx="297.36" cy="701.39" r="1.45" fill="#3a3a3a"/>
<circle cx="305.48" cy="693.24" r="1.45" fill="#3a3a3a"/>
<circle cx="311.57" cy="688.22" r="1.45" fill="#3a3a3a"/>
<circle cx="319.69" cy="686.33" r="1.45" fill="#3a3a3a"/>
<line x1="361.9" y1="671.4" x2="361.9" y2="763.8" stroke="#1a1a1a" stroke-width="2" stroke-linecap="butt"/>
<line x1="358.4" y1="759.75" x2="361.9" y2="759.75" stroke="#1a1a1a" stroke-width="2" stroke-linecap="butt"/>
<text transform="translate(357.1,762.55) scale(0.9,1)" font-size="8" text-anchor="end" fill="#1a1a1a">10<tspan dx="1.2" dy="-3.2" font-size="5.2">3</tspan></text>
<line x1="359.7" y1="755.97" x2="361.9" y2="755.97" stroke="#1a1a1a" stroke-width="0.8" stroke-linecap="butt"/>
<line x1="359.7" y1="753.76" x2="361.9" y2="753.76" stroke="#1a1a1a" stroke-width="0.8" stroke-linecap="butt"/>
<line x1="359.7" y1="752.19" x2="361.9" y2="752.19" stroke="#1a1a1a" stroke-width="0.8" stroke-linecap="butt"/>
<line x1="359.7" y1="750.98" x2="361.9" y2="750.98" stroke="#1a1a1a" stroke-width="0.8" stroke-linecap="butt"/>
<line x1="359.7" y1="749.98" x2="361.9" y2="749.98" stroke="#1a1a1a" stroke-width="0.8" stroke-linecap="butt"/>
<line x1="359.7" y1="749.14" x2="361.9" y2="749.14" stroke="#1a1a1a" stroke-width="0.8" stroke-linecap="butt"/>
<line x1="359.7" y1="748.42" x2="361.9" y2="748.42" stroke="#1a1a1a" stroke-width="0.8" stroke-linecap="butt"/>
<line x1="359.7" y1="747.77" x2="361.9" y2="747.77" stroke="#1a1a1a" stroke-width="0.8" stroke-linecap="butt"/>
<line x1="358.4" y1="747.2" x2="361.9" y2="747.2" stroke="#1a1a1a" stroke-width="2" stroke-linecap="butt"/>
<text transform="translate(357.1,750) scale(0.9,1)" font-size="8" text-anchor="end" fill="#1a1a1a">10<tspan dx="1.2" dy="-3.2" font-size="5.2">4</tspan></text>
<line x1="359.7" y1="743.42" x2="361.9" y2="743.42" stroke="#1a1a1a" stroke-width="0.8" stroke-linecap="butt"/>
<line x1="359.7" y1="741.21" x2="361.9" y2="741.21" stroke="#1a1a1a" stroke-width="0.8" stroke-linecap="butt"/>
<line x1="359.7" y1="739.64" x2="361.9" y2="739.64" stroke="#1a1a1a" stroke-width="0.8" stroke-linecap="butt"/>
<line x1="359.7" y1="738.43" x2="361.9" y2="738.43" stroke="#1a1a1a" stroke-width="0.8" stroke-linecap="butt"/>
<line x1="359.7" y1="737.43" x2="361.9" y2="737.43" stroke="#1a1a1a" stroke-width="0.8" stroke-linecap="butt"/>
<line x1="359.7" y1="736.59" x2="361.9" y2="736.59" stroke="#1a1a1a" stroke-width="0.8" stroke-linecap="butt"/>
<line x1="359.7" y1="735.87" x2="361.9" y2="735.87" stroke="#1a1a1a" stroke-width="0.8" stroke-linecap="butt"/>
<line x1="359.7" y1="735.22" x2="361.9" y2="735.22" stroke="#1a1a1a" stroke-width="0.8" stroke-linecap="butt"/>
<line x1="358.4" y1="734.65" x2="361.9" y2="734.65" stroke="#1a1a1a" stroke-width="2" stroke-linecap="butt"/>
<text transform="translate(357.1,737.45) scale(0.9,1)" font-size="8" text-anchor="end" fill="#1a1a1a">10<tspan dx="1.2" dy="-3.2" font-size="5.2">5</tspan></text>
<line x1="359.7" y1="730.87" x2="361.9" y2="730.87" stroke="#1a1a1a" stroke-width="0.8" stroke-linecap="butt"/>
<line x1="359.7" y1="728.66" x2="361.9" y2="728.66" stroke="#1a1a1a" stroke-width="0.8" stroke-linecap="butt"/>
<line x1="359.7" y1="727.09" x2="361.9" y2="727.09" stroke="#1a1a1a" stroke-width="0.8" stroke-linecap="butt"/>
<line x1="359.7" y1="725.88" x2="361.9" y2="725.88" stroke="#1a1a1a" stroke-width="0.8" stroke-linecap="butt"/>
<line x1="359.7" y1="724.88" x2="361.9" y2="724.88" stroke="#1a1a1a" stroke-width="0.8" stroke-linecap="butt"/>
<line x1="359.7" y1="724.04" x2="361.9" y2="724.04" stroke="#1a1a1a" stroke-width="0.8" stroke-linecap="butt"/>
<line x1="359.7" y1="723.32" x2="361.9" y2="723.32" stroke="#1a1a1a" stroke-width="0.8" stroke-linecap="butt"/>
<line x1="359.7" y1="722.67" x2="361.9" y2="722.67" stroke="#1a1a1a" stroke-width="0.8" stroke-linecap="butt"/>
<line x1="358.4" y1="722.1" x2="361.9" y2="722.1" stroke="#1a1a1a" stroke-width="2" stroke-linecap="butt"/>
<text transform="translate(357.1,724.9) scale(0.9,1)" font-size="8" text-anchor="end" fill="#1a1a1a">10<tspan dx="1.2" dy="-3.2" font-size="5.2">6</tspan></text>
<line x1="359.7" y1="718.32" x2="361.9" y2="718.32" stroke="#1a1a1a" stroke-width="0.8" stroke-linecap="butt"/>
<line x1="359.7" y1="716.11" x2="361.9" y2="716.11" stroke="#1a1a1a" stroke-width="0.8" stroke-linecap="butt"/>
<line x1="359.7" y1="714.54" x2="361.9" y2="714.54" stroke="#1a1a1a" stroke-width="0.8" stroke-linecap="butt"/>
<line x1="359.7" y1="713.33" x2="361.9" y2="713.33" stroke="#1a1a1a" stroke-width="0.8" stroke-linecap="butt"/>
<line x1="359.7" y1="712.33" x2="361.9" y2="712.33" stroke="#1a1a1a" stroke-width="0.8" stroke-linecap="butt"/>
<line x1="359.7" y1="711.49" x2="361.9" y2="711.49" stroke="#1a1a1a" stroke-width="0.8" stroke-linecap="butt"/>
<line x1="359.7" y1="710.77" x2="361.9" y2="710.77" stroke="#1a1a1a" stroke-width="0.8" stroke-linecap="butt"/>
<line x1="359.7" y1="710.12" x2="361.9" y2="710.12" stroke="#1a1a1a" stroke-width="0.8" stroke-linecap="butt"/>
<line x1="358.4" y1="709.55" x2="361.9" y2="709.55" stroke="#1a1a1a" stroke-width="2" stroke-linecap="butt"/>
<text transform="translate(357.1,712.35) scale(0.9,1)" font-size="8" text-anchor="end" fill="#1a1a1a">10<tspan dx="1.2" dy="-3.2" font-size="5.2">7</tspan></text>
<line x1="359.7" y1="705.77" x2="361.9" y2="705.77" stroke="#1a1a1a" stroke-width="0.8" stroke-linecap="butt"/>
<line x1="359.7" y1="703.56" x2="361.9" y2="703.56" stroke="#1a1a1a" stroke-width="0.8" stroke-linecap="butt"/>
<line x1="359.7" y1="701.99" x2="361.9" y2="701.99" stroke="#1a1a1a" stroke-width="0.8" stroke-linecap="butt"/>
<line x1="359.7" y1="700.78" x2="361.9" y2="700.78" stroke="#1a1a1a" stroke-width="0.8" stroke-linecap="butt"/>
<line x1="359.7" y1="699.78" x2="361.9" y2="699.78" stroke="#1a1a1a" stroke-width="0.8" stroke-linecap="butt"/>
<line x1="359.7" y1="698.94" x2="361.9" y2="698.94" stroke="#1a1a1a" stroke-width="0.8" stroke-linecap="butt"/>
<line x1="359.7" y1="698.22" x2="361.9" y2="698.22" stroke="#1a1a1a" stroke-width="0.8" stroke-linecap="butt"/>
<line x1="359.7" y1="697.57" x2="361.9" y2="697.57" stroke="#1a1a1a" stroke-width="0.8" stroke-linecap="butt"/>
<line x1="358.4" y1="697" x2="361.9" y2="697" stroke="#1a1a1a" stroke-width="2" stroke-linecap="butt"/>
<text transform="translate(357.1,699.8) scale(0.9,1)" font-size="8" text-anchor="end" fill="#1a1a1a">10<tspan dx="1.2" dy="-3.2" font-size="5.2">8</tspan></text>
<line x1="359.7" y1="693.22" x2="361.9" y2="693.22" stroke="#1a1a1a" stroke-width="0.8" stroke-linecap="butt"/>
<line x1="359.7" y1="691.01" x2="361.9" y2="691.01" stroke="#1a1a1a" stroke-width="0.8" stroke-linecap="butt"/>
<line x1="359.7" y1="689.44" x2="361.9" y2="689.44" stroke="#1a1a1a" stroke-width="0.8" stroke-linecap="butt"/>
<line x1="359.7" y1="688.23" x2="361.9" y2="688.23" stroke="#1a1a1a" stroke-width="0.8" stroke-linecap="butt"/>
<line x1="359.7" y1="687.23" x2="361.9" y2="687.23" stroke="#1a1a1a" stroke-width="0.8" stroke-linecap="butt"/>
<line x1="359.7" y1="686.39" x2="361.9" y2="686.39" stroke="#1a1a1a" stroke-width="0.8" stroke-linecap="butt"/>
<line x1="359.7" y1="685.67" x2="361.9" y2="685.67" stroke="#1a1a1a" stroke-width="0.8" stroke-linecap="butt"/>
<line x1="359.7" y1="685.02" x2="361.9" y2="685.02" stroke="#1a1a1a" stroke-width="0.8" stroke-linecap="butt"/>
<line x1="358.4" y1="684.45" x2="361.9" y2="684.45" stroke="#1a1a1a" stroke-width="2" stroke-linecap="butt"/>
<text transform="translate(357.1,687.25) scale(0.9,1)" font-size="8" text-anchor="end" fill="#1a1a1a">10<tspan dx="1.2" dy="-3.2" font-size="5.2">9</tspan></text>
<line x1="359.7" y1="680.67" x2="361.9" y2="680.67" stroke="#1a1a1a" stroke-width="0.8" stroke-linecap="butt"/>
<line x1="359.7" y1="678.46" x2="361.9" y2="678.46" stroke="#1a1a1a" stroke-width="0.8" stroke-linecap="butt"/>
<line x1="359.7" y1="676.89" x2="361.9" y2="676.89" stroke="#1a1a1a" stroke-width="0.8" stroke-linecap="butt"/>
<line x1="359.7" y1="675.68" x2="361.9" y2="675.68" stroke="#1a1a1a" stroke-width="0.8" stroke-linecap="butt"/>
<line x1="359.7" y1="674.68" x2="361.9" y2="674.68" stroke="#1a1a1a" stroke-width="0.8" stroke-linecap="butt"/>
<line x1="359.7" y1="673.84" x2="361.9" y2="673.84" stroke="#1a1a1a" stroke-width="0.8" stroke-linecap="butt"/>
<line x1="359.7" y1="673.12" x2="361.9" y2="673.12" stroke="#1a1a1a" stroke-width="0.8" stroke-linecap="butt"/>
<line x1="359.7" y1="672.47" x2="361.9" y2="672.47" stroke="#1a1a1a" stroke-width="0.8" stroke-linecap="butt"/>
<line x1="358.4" y1="671.9" x2="361.9" y2="671.9" stroke="#1a1a1a" stroke-width="2" stroke-linecap="butt"/>
<text transform="translate(357.1,674.7) scale(0.9,1)" font-size="8" text-anchor="end" fill="#1a1a1a">10<tspan dx="1.2" dy="-3.2" font-size="5.2">10</tspan></text>
<line x1="361.15" y1="762.8" x2="448.8" y2="762.8" stroke="#1a1a1a" stroke-width="1.5" stroke-linecap="butt"/>
<line x1="367.4" y1="762.8" x2="367.4" y2="766.6" stroke="#1a1a1a" stroke-width="1.5" stroke-linecap="butt"/>
<text transform="translate(367.4,776.9) scale(0.78,1)" font-size="9.8" text-anchor="middle" fill="#1a1a1a" >0</text>
<line x1="377.57" y1="762.8" x2="377.57" y2="765.08" stroke="#1a1a1a" stroke-width="1.2" stroke-linecap="butt"/>
<line x1="387.75" y1="762.8" x2="387.75" y2="766.6" stroke="#1a1a1a" stroke-width="1.5" stroke-linecap="butt"/>
<text transform="translate(387.75,776.9) scale(0.78,1)" font-size="9.8" text-anchor="middle" fill="#1a1a1a" >10</text>
<line x1="397.92" y1="762.8" x2="397.92" y2="765.08" stroke="#1a1a1a" stroke-width="1.2" stroke-linecap="butt"/>
<line x1="408.1" y1="762.8" x2="408.1" y2="766.6" stroke="#1a1a1a" stroke-width="1.5" stroke-linecap="butt"/>
<text transform="translate(408.1,776.9) scale(0.78,1)" font-size="9.8" text-anchor="middle" fill="#1a1a1a" >20</text>
<line x1="418.27" y1="762.8" x2="418.27" y2="765.08" stroke="#1a1a1a" stroke-width="1.2" stroke-linecap="butt"/>
<line x1="428.45" y1="762.8" x2="428.45" y2="766.6" stroke="#1a1a1a" stroke-width="1.5" stroke-linecap="butt"/>
<text transform="translate(428.45,776.9) scale(0.78,1)" font-size="9.8" text-anchor="middle" fill="#1a1a1a" >30</text>
<line x1="438.62" y1="762.8" x2="438.62" y2="765.08" stroke="#1a1a1a" stroke-width="1.2" stroke-linecap="butt"/>
<line x1="448.8" y1="762.8" x2="448.8" y2="766.6" stroke="#1a1a1a" stroke-width="1.5" stroke-linecap="butt"/>
<text transform="translate(448.8,776.9) scale(0.78,1)" font-size="9.8" text-anchor="middle" fill="#1a1a1a" >40</text>
<line x1="420.31" y1="671.9" x2="420.31" y2="762" stroke="#222" stroke-width="1" stroke-linecap="butt" stroke-dasharray="1.2,1.5"/>
<text transform="translate(410.6,667.8)" font-size="12.3" text-anchor="middle" fill="#1a1a1a" >SSR</text>
<polyline points="367.4,736.28 377.57,730.13 383.68,722.98 393.85,711.81 397.92,708.29 412.17,693.36 420.31,685.2 426.41,679.05" fill="none" stroke="#aaaaaa" stroke-width="0.6" stroke-linejoin="round" stroke-dasharray="1.2,1"/>
<circle cx="367.4" cy="736.28" r="1.5" fill="none" stroke="#999" stroke-width="0.7"/>
<circle cx="377.57" cy="730.13" r="1.5" fill="none" stroke="#999" stroke-width="0.7"/>
<circle cx="383.68" cy="722.98" r="1.5" fill="none" stroke="#999" stroke-width="0.7"/>
<circle cx="393.85" cy="711.81" r="1.5" fill="none" stroke="#999" stroke-width="0.7"/>
<circle cx="397.92" cy="708.29" r="1.5" fill="none" stroke="#999" stroke-width="0.7"/>
<circle cx="412.17" cy="693.36" r="1.5" fill="none" stroke="#999" stroke-width="0.7"/>
<circle cx="420.31" cy="685.2" r="1.5" fill="none" stroke="#999" stroke-width="0.7"/>
<circle cx="426.41" cy="679.05" r="1.5" fill="none" stroke="#999" stroke-width="0.7"/>
<polyline points="367.4,739.67 377.57,734.65 383.68,729.63 393.85,717.08 397.92,713.31 406.06,705.16 412.17,699.51 420.31,692.61 426.41,686.33 434.55,679.43" fill="none" stroke="#a8125e" stroke-width="0.9" stroke-linejoin="round"/>
<path d="M367.4,738L369,740.83L365.8,740.83Z" fill="#a8125e"/>
<path d="M377.57,732.98L379.17,735.81L375.98,735.81Z" fill="#a8125e"/>
<path d="M383.68,727.96L385.27,730.79L382.08,730.79Z" fill="#a8125e"/>
<path d="M393.85,715.41L395.45,718.24L392.26,718.24Z" fill="#a8125e"/>
<path d="M397.92,711.65L399.52,714.47L396.33,714.47Z" fill="#a8125e"/>
<path d="M406.06,703.49L407.66,706.32L404.47,706.32Z" fill="#a8125e"/>
<path d="M412.17,697.84L413.76,700.67L410.57,700.67Z" fill="#a8125e"/>
<path d="M420.31,690.94L421.91,693.77L418.71,693.77Z" fill="#a8125e"/>
<path d="M426.41,684.66L428.01,687.49L424.82,687.49Z" fill="#a8125e"/>
<path d="M434.55,677.76L436.15,680.59L432.96,680.59Z" fill="#a8125e"/>
<polyline points="367.4,740.92 377.57,735.9 383.68,730.88 393.85,718.34 397.92,714.57 406.06,707.04 412.17,700.76 420.31,694.49 426.41,688.22 434.55,681.94" fill="none" stroke="#a8125e" stroke-width="0.9" stroke-linejoin="round"/>
<path d="M367.4,739.26L369,742.08L365.8,742.08Z" fill="#a8125e"/>
<path d="M377.57,734.24L379.17,737.06L375.98,737.06Z" fill="#a8125e"/>
<path d="M383.68,729.22L385.27,732.04L382.08,732.04Z" fill="#a8125e"/>
<path d="M393.85,716.67L395.45,719.5L392.26,719.5Z" fill="#a8125e"/>
<path d="M397.92,712.9L399.52,715.73L396.33,715.73Z" fill="#a8125e"/>
<path d="M406.06,705.37L407.66,708.2L404.47,708.2Z" fill="#a8125e"/>
<path d="M412.17,699.1L413.76,701.92L410.57,701.92Z" fill="#a8125e"/>
<path d="M420.31,692.82L421.91,695.65L418.71,695.65Z" fill="#a8125e"/>
<path d="M426.41,686.55L428.01,689.38L424.82,689.38Z" fill="#a8125e"/>
<path d="M434.55,680.27L436.15,683.1L432.96,683.1Z" fill="#a8125e"/>
<polyline points="367.4,742.18 377.57,737.16 383.68,732.14 393.85,718.96 397.92,732.14 406.06,709.55 412.17,702.02 420.31,695.75 426.41,689.47 434.55,684.45" fill="none" stroke="#a8125e" stroke-width="0.9" stroke-linejoin="round"/>
<path d="M367.4,740.51L369,743.34L365.8,743.34Z" fill="#a8125e"/>
<path d="M377.57,735.49L379.17,738.32L375.98,738.32Z" fill="#a8125e"/>
<path d="M383.68,730.47L385.27,733.3L382.08,733.3Z" fill="#a8125e"/>
<path d="M393.85,717.29L395.45,720.12L392.26,720.12Z" fill="#a8125e"/>
<path d="M397.92,730.47L399.52,733.3L396.33,733.3Z" fill="#a8125e"/>
<path d="M406.06,707.88L407.66,710.71L404.47,710.71Z" fill="#a8125e"/>
<path d="M412.17,700.35L413.76,703.18L410.57,703.18Z" fill="#a8125e"/>
<path d="M420.31,694.08L421.91,696.9L418.71,696.9Z" fill="#a8125e"/>
<path d="M426.41,687.8L428.01,690.63L424.82,690.63Z" fill="#a8125e"/>
<path d="M434.55,682.78L436.15,685.61L432.96,685.61Z" fill="#a8125e"/>
<polyline points="367.4,743.43 377.57,738.41 383.68,733.39 393.85,719.59 397.92,715.82 406.06,710.18 412.17,703.27 420.31,697 426.41,690.73 434.55,686.96" fill="none" stroke="#a8125e" stroke-width="0.9" stroke-linejoin="round"/>
<path d="M367.4,741.77L369,744.59L365.8,744.59Z" fill="#a8125e"/>
<path d="M377.57,736.75L379.17,739.57L375.98,739.57Z" fill="#a8125e"/>
<path d="M383.68,731.73L385.27,734.55L382.08,734.55Z" fill="#a8125e"/>
<path d="M393.85,717.92L395.45,720.75L392.26,720.75Z" fill="#a8125e"/>
<path d="M397.92,714.16L399.52,716.98L396.33,716.98Z" fill="#a8125e"/>
<path d="M406.06,708.51L407.66,711.34L404.47,711.34Z" fill="#a8125e"/>
<path d="M412.17,701.61L413.76,704.43L410.57,704.43Z" fill="#a8125e"/>
<path d="M420.31,695.33L421.91,698.16L418.71,698.16Z" fill="#a8125e"/>
<path d="M426.41,689.06L428.01,691.88L424.82,691.88Z" fill="#a8125e"/>
<path d="M434.55,685.29L436.15,688.12L432.96,688.12Z" fill="#a8125e"/>
<polyline points="367.4,744.56 377.57,738.29 383.68,734.15 393.85,719.84 397.92,715.2 406.06,710.8 412.17,703.65 420.31,697.5 426.41,691.35 434.55,689.34" fill="none" stroke="#a8125e" stroke-width="0.9" stroke-linejoin="round"/>
<path d="M367.4,742.9L369,745.72L365.8,745.72Z" fill="#a8125e"/>
<path d="M377.57,736.62L379.17,739.45L375.98,739.45Z" fill="#a8125e"/>
<path d="M383.68,732.48L385.27,735.31L382.08,735.31Z" fill="#a8125e"/>
<path d="M393.85,718.17L395.45,721L392.26,721Z" fill="#a8125e"/>
<path d="M397.92,713.53L399.52,716.36L396.33,716.36Z" fill="#a8125e"/>
<path d="M406.06,709.14L407.66,711.96L404.47,711.96Z" fill="#a8125e"/>
<path d="M412.17,701.98L413.76,704.81L410.57,704.81Z" fill="#a8125e"/>
<path d="M420.31,695.83L421.91,698.66L418.71,698.66Z" fill="#a8125e"/>
<path d="M426.41,689.68L428.01,692.51L424.82,692.51Z" fill="#a8125e"/>
<path d="M434.55,687.68L436.15,690.5L432.96,690.5Z" fill="#a8125e"/>
<line x1="478.6" y1="671.4" x2="478.6" y2="763.8" stroke="#1a1a1a" stroke-width="2" stroke-linecap="butt"/>
<line x1="475.1" y1="759.75" x2="478.6" y2="759.75" stroke="#1a1a1a" stroke-width="2" stroke-linecap="butt"/>
<text transform="translate(473.8,762.55) scale(0.9,1)" font-size="8" text-anchor="end" fill="#1a1a1a">10<tspan dx="1.2" dy="-3.2" font-size="5.2">3</tspan></text>
<line x1="476.4" y1="755.97" x2="478.6" y2="755.97" stroke="#1a1a1a" stroke-width="0.8" stroke-linecap="butt"/>
<line x1="476.4" y1="753.76" x2="478.6" y2="753.76" stroke="#1a1a1a" stroke-width="0.8" stroke-linecap="butt"/>
<line x1="476.4" y1="752.19" x2="478.6" y2="752.19" stroke="#1a1a1a" stroke-width="0.8" stroke-linecap="butt"/>
<line x1="476.4" y1="750.98" x2="478.6" y2="750.98" stroke="#1a1a1a" stroke-width="0.8" stroke-linecap="butt"/>
<line x1="476.4" y1="749.98" x2="478.6" y2="749.98" stroke="#1a1a1a" stroke-width="0.8" stroke-linecap="butt"/>
<line x1="476.4" y1="749.14" x2="478.6" y2="749.14" stroke="#1a1a1a" stroke-width="0.8" stroke-linecap="butt"/>
<line x1="476.4" y1="748.42" x2="478.6" y2="748.42" stroke="#1a1a1a" stroke-width="0.8" stroke-linecap="butt"/>
<line x1="476.4" y1="747.77" x2="478.6" y2="747.77" stroke="#1a1a1a" stroke-width="0.8" stroke-linecap="butt"/>
<line x1="475.1" y1="747.2" x2="478.6" y2="747.2" stroke="#1a1a1a" stroke-width="2" stroke-linecap="butt"/>
<text transform="translate(473.8,750) scale(0.9,1)" font-size="8" text-anchor="end" fill="#1a1a1a">10<tspan dx="1.2" dy="-3.2" font-size="5.2">4</tspan></text>
<line x1="476.4" y1="743.42" x2="478.6" y2="743.42" stroke="#1a1a1a" stroke-width="0.8" stroke-linecap="butt"/>
<line x1="476.4" y1="741.21" x2="478.6" y2="741.21" stroke="#1a1a1a" stroke-width="0.8" stroke-linecap="butt"/>
<line x1="476.4" y1="739.64" x2="478.6" y2="739.64" stroke="#1a1a1a" stroke-width="0.8" stroke-linecap="butt"/>
<line x1="476.4" y1="738.43" x2="478.6" y2="738.43" stroke="#1a1a1a" stroke-width="0.8" stroke-linecap="butt"/>
<line x1="476.4" y1="737.43" x2="478.6" y2="737.43" stroke="#1a1a1a" stroke-width="0.8" stroke-linecap="butt"/>
<line x1="476.4" y1="736.59" x2="478.6" y2="736.59" stroke="#1a1a1a" stroke-width="0.8" stroke-linecap="butt"/>
<line x1="476.4" y1="735.87" x2="478.6" y2="735.87" stroke="#1a1a1a" stroke-width="0.8" stroke-linecap="butt"/>
<line x1="476.4" y1="735.22" x2="478.6" y2="735.22" stroke="#1a1a1a" stroke-width="0.8" stroke-linecap="butt"/>
<line x1="475.1" y1="734.65" x2="478.6" y2="734.65" stroke="#1a1a1a" stroke-width="2" stroke-linecap="butt"/>
<text transform="translate(473.8,737.45) scale(0.9,1)" font-size="8" text-anchor="end" fill="#1a1a1a">10<tspan dx="1.2" dy="-3.2" font-size="5.2">5</tspan></text>
<line x1="476.4" y1="730.87" x2="478.6" y2="730.87" stroke="#1a1a1a" stroke-width="0.8" stroke-linecap="butt"/>
<line x1="476.4" y1="728.66" x2="478.6" y2="728.66" stroke="#1a1a1a" stroke-width="0.8" stroke-linecap="butt"/>
<line x1="476.4" y1="727.09" x2="478.6" y2="727.09" stroke="#1a1a1a" stroke-width="0.8" stroke-linecap="butt"/>
<line x1="476.4" y1="725.88" x2="478.6" y2="725.88" stroke="#1a1a1a" stroke-width="0.8" stroke-linecap="butt"/>
<line x1="476.4" y1="724.88" x2="478.6" y2="724.88" stroke="#1a1a1a" stroke-width="0.8" stroke-linecap="butt"/>
<line x1="476.4" y1="724.04" x2="478.6" y2="724.04" stroke="#1a1a1a" stroke-width="0.8" stroke-linecap="butt"/>
<line x1="476.4" y1="723.32" x2="478.6" y2="723.32" stroke="#1a1a1a" stroke-width="0.8" stroke-linecap="butt"/>
<line x1="476.4" y1="722.67" x2="478.6" y2="722.67" stroke="#1a1a1a" stroke-width="0.8" stroke-linecap="butt"/>
<line x1="475.1" y1="722.1" x2="478.6" y2="722.1" stroke="#1a1a1a" stroke-width="2" stroke-linecap="butt"/>
<text transform="translate(473.8,724.9) scale(0.9,1)" font-size="8" text-anchor="end" fill="#1a1a1a">10<tspan dx="1.2" dy="-3.2" font-size="5.2">6</tspan></text>
<line x1="476.4" y1="718.32" x2="478.6" y2="718.32" stroke="#1a1a1a" stroke-width="0.8" stroke-linecap="butt"/>
<line x1="476.4" y1="716.11" x2="478.6" y2="716.11" stroke="#1a1a1a" stroke-width="0.8" stroke-linecap="butt"/>
<line x1="476.4" y1="714.54" x2="478.6" y2="714.54" stroke="#1a1a1a" stroke-width="0.8" stroke-linecap="butt"/>
<line x1="476.4" y1="713.33" x2="478.6" y2="713.33" stroke="#1a1a1a" stroke-width="0.8" stroke-linecap="butt"/>
<line x1="476.4" y1="712.33" x2="478.6" y2="712.33" stroke="#1a1a1a" stroke-width="0.8" stroke-linecap="butt"/>
<line x1="476.4" y1="711.49" x2="478.6" y2="711.49" stroke="#1a1a1a" stroke-width="0.8" stroke-linecap="butt"/>
<line x1="476.4" y1="710.77" x2="478.6" y2="710.77" stroke="#1a1a1a" stroke-width="0.8" stroke-linecap="butt"/>
<line x1="476.4" y1="710.12" x2="478.6" y2="710.12" stroke="#1a1a1a" stroke-width="0.8" stroke-linecap="butt"/>
<line x1="475.1" y1="709.55" x2="478.6" y2="709.55" stroke="#1a1a1a" stroke-width="2" stroke-linecap="butt"/>
<text transform="translate(473.8,712.35) scale(0.9,1)" font-size="8" text-anchor="end" fill="#1a1a1a">10<tspan dx="1.2" dy="-3.2" font-size="5.2">7</tspan></text>
<line x1="476.4" y1="705.77" x2="478.6" y2="705.77" stroke="#1a1a1a" stroke-width="0.8" stroke-linecap="butt"/>
<line x1="476.4" y1="703.56" x2="478.6" y2="703.56" stroke="#1a1a1a" stroke-width="0.8" stroke-linecap="butt"/>
<line x1="476.4" y1="701.99" x2="478.6" y2="701.99" stroke="#1a1a1a" stroke-width="0.8" stroke-linecap="butt"/>
<line x1="476.4" y1="700.78" x2="478.6" y2="700.78" stroke="#1a1a1a" stroke-width="0.8" stroke-linecap="butt"/>
<line x1="476.4" y1="699.78" x2="478.6" y2="699.78" stroke="#1a1a1a" stroke-width="0.8" stroke-linecap="butt"/>
<line x1="476.4" y1="698.94" x2="478.6" y2="698.94" stroke="#1a1a1a" stroke-width="0.8" stroke-linecap="butt"/>
<line x1="476.4" y1="698.22" x2="478.6" y2="698.22" stroke="#1a1a1a" stroke-width="0.8" stroke-linecap="butt"/>
<line x1="476.4" y1="697.57" x2="478.6" y2="697.57" stroke="#1a1a1a" stroke-width="0.8" stroke-linecap="butt"/>
<line x1="475.1" y1="697" x2="478.6" y2="697" stroke="#1a1a1a" stroke-width="2" stroke-linecap="butt"/>
<text transform="translate(473.8,699.8) scale(0.9,1)" font-size="8" text-anchor="end" fill="#1a1a1a">10<tspan dx="1.2" dy="-3.2" font-size="5.2">8</tspan></text>
<line x1="476.4" y1="693.22" x2="478.6" y2="693.22" stroke="#1a1a1a" stroke-width="0.8" stroke-linecap="butt"/>
<line x1="476.4" y1="691.01" x2="478.6" y2="691.01" stroke="#1a1a1a" stroke-width="0.8" stroke-linecap="butt"/>
<line x1="476.4" y1="689.44" x2="478.6" y2="689.44" stroke="#1a1a1a" stroke-width="0.8" stroke-linecap="butt"/>
<line x1="476.4" y1="688.23" x2="478.6" y2="688.23" stroke="#1a1a1a" stroke-width="0.8" stroke-linecap="butt"/>
<line x1="476.4" y1="687.23" x2="478.6" y2="687.23" stroke="#1a1a1a" stroke-width="0.8" stroke-linecap="butt"/>
<line x1="476.4" y1="686.39" x2="478.6" y2="686.39" stroke="#1a1a1a" stroke-width="0.8" stroke-linecap="butt"/>
<line x1="476.4" y1="685.67" x2="478.6" y2="685.67" stroke="#1a1a1a" stroke-width="0.8" stroke-linecap="butt"/>
<line x1="476.4" y1="685.02" x2="478.6" y2="685.02" stroke="#1a1a1a" stroke-width="0.8" stroke-linecap="butt"/>
<line x1="475.1" y1="684.45" x2="478.6" y2="684.45" stroke="#1a1a1a" stroke-width="2" stroke-linecap="butt"/>
<text transform="translate(473.8,687.25) scale(0.9,1)" font-size="8" text-anchor="end" fill="#1a1a1a">10<tspan dx="1.2" dy="-3.2" font-size="5.2">9</tspan></text>
<line x1="476.4" y1="680.67" x2="478.6" y2="680.67" stroke="#1a1a1a" stroke-width="0.8" stroke-linecap="butt"/>
<line x1="476.4" y1="678.46" x2="478.6" y2="678.46" stroke="#1a1a1a" stroke-width="0.8" stroke-linecap="butt"/>
<line x1="476.4" y1="676.89" x2="478.6" y2="676.89" stroke="#1a1a1a" stroke-width="0.8" stroke-linecap="butt"/>
<line x1="476.4" y1="675.68" x2="478.6" y2="675.68" stroke="#1a1a1a" stroke-width="0.8" stroke-linecap="butt"/>
<line x1="476.4" y1="674.68" x2="478.6" y2="674.68" stroke="#1a1a1a" stroke-width="0.8" stroke-linecap="butt"/>
<line x1="476.4" y1="673.84" x2="478.6" y2="673.84" stroke="#1a1a1a" stroke-width="0.8" stroke-linecap="butt"/>
<line x1="476.4" y1="673.12" x2="478.6" y2="673.12" stroke="#1a1a1a" stroke-width="0.8" stroke-linecap="butt"/>
<line x1="476.4" y1="672.47" x2="478.6" y2="672.47" stroke="#1a1a1a" stroke-width="0.8" stroke-linecap="butt"/>
<line x1="475.1" y1="671.9" x2="478.6" y2="671.9" stroke="#1a1a1a" stroke-width="2" stroke-linecap="butt"/>
<text transform="translate(473.8,674.7) scale(0.9,1)" font-size="8" text-anchor="end" fill="#1a1a1a">10<tspan dx="1.2" dy="-3.2" font-size="5.2">10</tspan></text>
<line x1="477.85" y1="762.8" x2="563.4" y2="762.8" stroke="#1a1a1a" stroke-width="1.5" stroke-linecap="butt"/>
<line x1="483.7" y1="762.8" x2="483.7" y2="766.6" stroke="#1a1a1a" stroke-width="1.5" stroke-linecap="butt"/>
<text transform="translate(483.7,776.9) scale(0.78,1)" font-size="9.8" text-anchor="middle" fill="#1a1a1a" >0</text>
<line x1="491.67" y1="762.8" x2="491.67" y2="765.08" stroke="#1a1a1a" stroke-width="1.2" stroke-linecap="butt"/>
<line x1="499.64" y1="762.8" x2="499.64" y2="766.6" stroke="#1a1a1a" stroke-width="1.5" stroke-linecap="butt"/>
<text transform="translate(499.64,776.9) scale(0.78,1)" font-size="9.8" text-anchor="middle" fill="#1a1a1a" >10</text>
<line x1="507.61" y1="762.8" x2="507.61" y2="765.08" stroke="#1a1a1a" stroke-width="1.2" stroke-linecap="butt"/>
<line x1="515.58" y1="762.8" x2="515.58" y2="766.6" stroke="#1a1a1a" stroke-width="1.5" stroke-linecap="butt"/>
<text transform="translate(515.58,776.9) scale(0.78,1)" font-size="9.8" text-anchor="middle" fill="#1a1a1a" >20</text>
<line x1="523.55" y1="762.8" x2="523.55" y2="765.08" stroke="#1a1a1a" stroke-width="1.2" stroke-linecap="butt"/>
<line x1="531.52" y1="762.8" x2="531.52" y2="766.6" stroke="#1a1a1a" stroke-width="1.5" stroke-linecap="butt"/>
<text transform="translate(531.52,776.9) scale(0.78,1)" font-size="9.8" text-anchor="middle" fill="#1a1a1a" >30</text>
<line x1="539.49" y1="762.8" x2="539.49" y2="765.08" stroke="#1a1a1a" stroke-width="1.2" stroke-linecap="butt"/>
<line x1="547.46" y1="762.8" x2="547.46" y2="766.6" stroke="#1a1a1a" stroke-width="1.5" stroke-linecap="butt"/>
<text transform="translate(547.46,776.9) scale(0.78,1)" font-size="9.8" text-anchor="middle" fill="#1a1a1a" >40</text>
<line x1="555.43" y1="762.8" x2="555.43" y2="765.08" stroke="#1a1a1a" stroke-width="1.2" stroke-linecap="butt"/>
<line x1="563.4" y1="762.8" x2="563.4" y2="766.6" stroke="#1a1a1a" stroke-width="1.5" stroke-linecap="butt"/>
<text transform="translate(563.4,776.9) scale(0.78,1)" font-size="9.8" text-anchor="middle" fill="#1a1a1a" >50</text>
<line x1="525.14" y1="671.9" x2="525.14" y2="762" stroke="#222" stroke-width="1" stroke-linecap="butt" stroke-dasharray="1.2,1.5"/>
<text transform="translate(527.5,667.8)" font-size="12.3" text-anchor="middle" fill="#1a1a1a" >CAR</text>
<polyline points="483.7,736.28 491.67,730.13 496.45,722.98 504.42,712.81 507.61,708.67 518.77,693.36 525.14,685.2 529.93,679.05" fill="none" stroke="#aaaaaa" stroke-width="0.6" stroke-linejoin="round" stroke-dasharray="1.2,1"/>
<circle cx="483.7" cy="736.28" r="1.5" fill="none" stroke="#999" stroke-width="0.7"/>
<circle cx="491.67" cy="730.13" r="1.5" fill="none" stroke="#999" stroke-width="0.7"/>
<circle cx="496.45" cy="722.98" r="1.5" fill="none" stroke="#999" stroke-width="0.7"/>
<circle cx="504.42" cy="712.81" r="1.5" fill="none" stroke="#999" stroke-width="0.7"/>
<circle cx="507.61" cy="708.67" r="1.5" fill="none" stroke="#999" stroke-width="0.7"/>
<circle cx="518.77" cy="693.36" r="1.5" fill="none" stroke="#999" stroke-width="0.7"/>
<circle cx="525.14" cy="685.2" r="1.5" fill="none" stroke="#999" stroke-width="0.7"/>
<circle cx="529.93" cy="679.05" r="1.5" fill="none" stroke="#999" stroke-width="0.7"/>
<polyline points="483.7,737.79 491.67,734.15 496.45,728 504.42,717.96 507.61,713.82 518.77,701.52 525.14,695.37 529.93,688.22" fill="none" stroke="#aaaaaa" stroke-width="0.6" stroke-linejoin="round" stroke-dasharray="1.2,1"/>
<circle cx="483.7" cy="737.79" r="1.5" fill="none" stroke="#999" stroke-width="0.7"/>
<circle cx="491.67" cy="734.15" r="1.5" fill="none" stroke="#999" stroke-width="0.7"/>
<circle cx="496.45" cy="728" r="1.5" fill="none" stroke="#999" stroke-width="0.7"/>
<circle cx="504.42" cy="717.96" r="1.5" fill="none" stroke="#999" stroke-width="0.7"/>
<circle cx="507.61" cy="713.82" r="1.5" fill="none" stroke="#999" stroke-width="0.7"/>
<circle cx="518.77" cy="701.52" r="1.5" fill="none" stroke="#999" stroke-width="0.7"/>
<circle cx="525.14" cy="695.37" r="1.5" fill="none" stroke="#999" stroke-width="0.7"/>
<circle cx="529.93" cy="688.22" r="1.5" fill="none" stroke="#999" stroke-width="0.7"/>
<polyline points="483.7,737.29 491.67,740.3 496.45,732.14 504.42,725.99 507.61,720.85 513.99,720.85 518.77,713.82 525.14,711.68 529.93,705.66 536.3,699.51 541.08,696.5 547.46,696.5 553.84,695.37 558.62,691.35" fill="none" stroke="#c6c212" stroke-width="0.9" stroke-linejoin="round"/>
<rect x="482.25" y="735.84" width="2.9" height="2.9" fill="#c6c212"/>
<rect x="490.22" y="738.85" width="2.9" height="2.9" fill="#c6c212"/>
<rect x="495" y="730.69" width="2.9" height="2.9" fill="#c6c212"/>
<rect x="502.97" y="724.54" width="2.9" height="2.9" fill="#c6c212"/>
<rect x="506.16" y="719.39" width="2.9" height="2.9" fill="#c6c212"/>
<rect x="512.54" y="719.39" width="2.9" height="2.9" fill="#c6c212"/>
<rect x="517.32" y="712.37" width="2.9" height="2.9" fill="#c6c212"/>
<rect x="523.69" y="710.23" width="2.9" height="2.9" fill="#c6c212"/>
<rect x="528.48" y="704.21" width="2.9" height="2.9" fill="#c6c212"/>
<rect x="534.85" y="698.06" width="2.9" height="2.9" fill="#c6c212"/>
<rect x="539.63" y="695.05" width="2.9" height="2.9" fill="#c6c212"/>
<rect x="546.01" y="695.05" width="2.9" height="2.9" fill="#c6c212"/>
<rect x="552.39" y="693.92" width="2.9" height="2.9" fill="#c6c212"/>
<rect x="557.17" y="689.9" width="2.9" height="2.9" fill="#c6c212"/>
<polyline points="483.7,740.3 491.67,756.74 496.45,741.3 504.42,732.14 507.61,730.13 513.99,725.99 518.77,723.98 525.14,719.84 529.93,716.7 536.3,717.71 541.08,703.65 547.46,701.64 553.84,692.36 558.62,697.5" fill="none" stroke="#c6c212" stroke-width="0.9" stroke-linejoin="round"/>
<rect x="482.25" y="738.85" width="2.9" height="2.9" fill="#c6c212"/>
<rect x="490.22" y="755.29" width="2.9" height="2.9" fill="#c6c212"/>
<rect x="495" y="739.85" width="2.9" height="2.9" fill="#c6c212"/>
<rect x="502.97" y="730.69" width="2.9" height="2.9" fill="#c6c212"/>
<rect x="506.16" y="728.68" width="2.9" height="2.9" fill="#c6c212"/>
<rect x="512.54" y="724.54" width="2.9" height="2.9" fill="#c6c212"/>
<rect x="517.32" y="722.53" width="2.9" height="2.9" fill="#c6c212"/>
<rect x="523.69" y="718.39" width="2.9" height="2.9" fill="#c6c212"/>
<rect x="528.48" y="715.25" width="2.9" height="2.9" fill="#c6c212"/>
<rect x="534.85" y="716.26" width="2.9" height="2.9" fill="#c6c212"/>
<rect x="539.63" y="702.2" width="2.9" height="2.9" fill="#c6c212"/>
<rect x="546.01" y="700.19" width="2.9" height="2.9" fill="#c6c212"/>
<rect x="552.39" y="690.91" width="2.9" height="2.9" fill="#c6c212"/>
<rect x="557.17" y="696.05" width="2.9" height="2.9" fill="#c6c212"/>
<polyline points="483.7,744.69 491.67,740.3 496.45,736.28 504.42,736.28 507.61,730.13 513.99,736.28 518.77,728 525.14,723.98 529.93,717.71 536.3,717.71 541.08,715.82 547.46,711.68 553.84,709.55 558.62,707.79" fill="none" stroke="#c6c212" stroke-width="0.9" stroke-linejoin="round"/>
<rect x="482.25" y="743.24" width="2.9" height="2.9" fill="#c6c212"/>
<rect x="490.22" y="738.85" width="2.9" height="2.9" fill="#c6c212"/>
<rect x="495" y="734.83" width="2.9" height="2.9" fill="#c6c212"/>
<rect x="502.97" y="734.83" width="2.9" height="2.9" fill="#c6c212"/>
<rect x="506.16" y="728.68" width="2.9" height="2.9" fill="#c6c212"/>
<rect x="512.54" y="734.83" width="2.9" height="2.9" fill="#c6c212"/>
<rect x="517.32" y="726.55" width="2.9" height="2.9" fill="#c6c212"/>
<rect x="523.69" y="722.53" width="2.9" height="2.9" fill="#c6c212"/>
<rect x="528.48" y="716.26" width="2.9" height="2.9" fill="#c6c212"/>
<rect x="534.85" y="716.26" width="2.9" height="2.9" fill="#c6c212"/>
<rect x="539.63" y="714.37" width="2.9" height="2.9" fill="#c6c212"/>
<rect x="546.01" y="710.23" width="2.9" height="2.9" fill="#c6c212"/>
<rect x="552.39" y="708.1" width="2.9" height="2.9" fill="#c6c212"/>
<rect x="557.17" y="706.34" width="2.9" height="2.9" fill="#c6c212"/>
<polyline points="483.7,739.67 491.67,739.67 496.45,734.65 504.42,728.38 507.61,727.12 513.99,728.38 518.77,725.87 525.14,719.59 529.93,717.08 536.3,715.82 541.08,699.51 547.46,698.25 553.84,694.49 558.62,701.64" fill="none" stroke="#c6c212" stroke-width="0.9" stroke-linejoin="round"/>
<rect x="482.25" y="738.22" width="2.9" height="2.9" fill="#c6c212"/>
<rect x="490.22" y="738.22" width="2.9" height="2.9" fill="#c6c212"/>
<rect x="495" y="733.2" width="2.9" height="2.9" fill="#c6c212"/>
<rect x="502.97" y="726.92" width="2.9" height="2.9" fill="#c6c212"/>
<rect x="506.16" y="725.67" width="2.9" height="2.9" fill="#c6c212"/>
<rect x="512.54" y="726.92" width="2.9" height="2.9" fill="#c6c212"/>
<rect x="517.32" y="724.41" width="2.9" height="2.9" fill="#c6c212"/>
<rect x="523.69" y="718.14" width="2.9" height="2.9" fill="#c6c212"/>
<rect x="528.48" y="715.63" width="2.9" height="2.9" fill="#c6c212"/>
<rect x="534.85" y="714.37" width="2.9" height="2.9" fill="#c6c212"/>
<rect x="539.63" y="698.06" width="2.9" height="2.9" fill="#c6c212"/>
<rect x="546.01" y="696.8" width="2.9" height="2.9" fill="#c6c212"/>
<rect x="552.39" y="693.04" width="2.9" height="2.9" fill="#c6c212"/>
<rect x="557.17" y="700.19" width="2.9" height="2.9" fill="#c6c212"/>
<line x1="593.6" y1="671.4" x2="593.6" y2="763.8" stroke="#1a1a1a" stroke-width="2" stroke-linecap="butt"/>
<line x1="590.1" y1="759.75" x2="593.6" y2="759.75" stroke="#1a1a1a" stroke-width="2" stroke-linecap="butt"/>
<text transform="translate(588.8,762.55) scale(0.9,1)" font-size="8" text-anchor="end" fill="#1a1a1a">10<tspan dx="1.2" dy="-3.2" font-size="5.2">3</tspan></text>
<line x1="591.4" y1="755.97" x2="593.6" y2="755.97" stroke="#1a1a1a" stroke-width="0.8" stroke-linecap="butt"/>
<line x1="591.4" y1="753.76" x2="593.6" y2="753.76" stroke="#1a1a1a" stroke-width="0.8" stroke-linecap="butt"/>
<line x1="591.4" y1="752.19" x2="593.6" y2="752.19" stroke="#1a1a1a" stroke-width="0.8" stroke-linecap="butt"/>
<line x1="591.4" y1="750.98" x2="593.6" y2="750.98" stroke="#1a1a1a" stroke-width="0.8" stroke-linecap="butt"/>
<line x1="591.4" y1="749.98" x2="593.6" y2="749.98" stroke="#1a1a1a" stroke-width="0.8" stroke-linecap="butt"/>
<line x1="591.4" y1="749.14" x2="593.6" y2="749.14" stroke="#1a1a1a" stroke-width="0.8" stroke-linecap="butt"/>
<line x1="591.4" y1="748.42" x2="593.6" y2="748.42" stroke="#1a1a1a" stroke-width="0.8" stroke-linecap="butt"/>
<line x1="591.4" y1="747.77" x2="593.6" y2="747.77" stroke="#1a1a1a" stroke-width="0.8" stroke-linecap="butt"/>
<line x1="590.1" y1="747.2" x2="593.6" y2="747.2" stroke="#1a1a1a" stroke-width="2" stroke-linecap="butt"/>
<text transform="translate(588.8,750) scale(0.9,1)" font-size="8" text-anchor="end" fill="#1a1a1a">10<tspan dx="1.2" dy="-3.2" font-size="5.2">4</tspan></text>
<line x1="591.4" y1="743.42" x2="593.6" y2="743.42" stroke="#1a1a1a" stroke-width="0.8" stroke-linecap="butt"/>
<line x1="591.4" y1="741.21" x2="593.6" y2="741.21" stroke="#1a1a1a" stroke-width="0.8" stroke-linecap="butt"/>
<line x1="591.4" y1="739.64" x2="593.6" y2="739.64" stroke="#1a1a1a" stroke-width="0.8" stroke-linecap="butt"/>
<line x1="591.4" y1="738.43" x2="593.6" y2="738.43" stroke="#1a1a1a" stroke-width="0.8" stroke-linecap="butt"/>
<line x1="591.4" y1="737.43" x2="593.6" y2="737.43" stroke="#1a1a1a" stroke-width="0.8" stroke-linecap="butt"/>
<line x1="591.4" y1="736.59" x2="593.6" y2="736.59" stroke="#1a1a1a" stroke-width="0.8" stroke-linecap="butt"/>
<line x1="591.4" y1="735.87" x2="593.6" y2="735.87" stroke="#1a1a1a" stroke-width="0.8" stroke-linecap="butt"/>
<line x1="591.4" y1="735.22" x2="593.6" y2="735.22" stroke="#1a1a1a" stroke-width="0.8" stroke-linecap="butt"/>
<line x1="590.1" y1="734.65" x2="593.6" y2="734.65" stroke="#1a1a1a" stroke-width="2" stroke-linecap="butt"/>
<text transform="translate(588.8,737.45) scale(0.9,1)" font-size="8" text-anchor="end" fill="#1a1a1a">10<tspan dx="1.2" dy="-3.2" font-size="5.2">5</tspan></text>
<line x1="591.4" y1="730.87" x2="593.6" y2="730.87" stroke="#1a1a1a" stroke-width="0.8" stroke-linecap="butt"/>
<line x1="591.4" y1="728.66" x2="593.6" y2="728.66" stroke="#1a1a1a" stroke-width="0.8" stroke-linecap="butt"/>
<line x1="591.4" y1="727.09" x2="593.6" y2="727.09" stroke="#1a1a1a" stroke-width="0.8" stroke-linecap="butt"/>
<line x1="591.4" y1="725.88" x2="593.6" y2="725.88" stroke="#1a1a1a" stroke-width="0.8" stroke-linecap="butt"/>
<line x1="591.4" y1="724.88" x2="593.6" y2="724.88" stroke="#1a1a1a" stroke-width="0.8" stroke-linecap="butt"/>
<line x1="591.4" y1="724.04" x2="593.6" y2="724.04" stroke="#1a1a1a" stroke-width="0.8" stroke-linecap="butt"/>
<line x1="591.4" y1="723.32" x2="593.6" y2="723.32" stroke="#1a1a1a" stroke-width="0.8" stroke-linecap="butt"/>
<line x1="591.4" y1="722.67" x2="593.6" y2="722.67" stroke="#1a1a1a" stroke-width="0.8" stroke-linecap="butt"/>
<line x1="590.1" y1="722.1" x2="593.6" y2="722.1" stroke="#1a1a1a" stroke-width="2" stroke-linecap="butt"/>
<text transform="translate(588.8,724.9) scale(0.9,1)" font-size="8" text-anchor="end" fill="#1a1a1a">10<tspan dx="1.2" dy="-3.2" font-size="5.2">6</tspan></text>
<line x1="591.4" y1="718.32" x2="593.6" y2="718.32" stroke="#1a1a1a" stroke-width="0.8" stroke-linecap="butt"/>
<line x1="591.4" y1="716.11" x2="593.6" y2="716.11" stroke="#1a1a1a" stroke-width="0.8" stroke-linecap="butt"/>
<line x1="591.4" y1="714.54" x2="593.6" y2="714.54" stroke="#1a1a1a" stroke-width="0.8" stroke-linecap="butt"/>
<line x1="591.4" y1="713.33" x2="593.6" y2="713.33" stroke="#1a1a1a" stroke-width="0.8" stroke-linecap="butt"/>
<line x1="591.4" y1="712.33" x2="593.6" y2="712.33" stroke="#1a1a1a" stroke-width="0.8" stroke-linecap="butt"/>
<line x1="591.4" y1="711.49" x2="593.6" y2="711.49" stroke="#1a1a1a" stroke-width="0.8" stroke-linecap="butt"/>
<line x1="591.4" y1="710.77" x2="593.6" y2="710.77" stroke="#1a1a1a" stroke-width="0.8" stroke-linecap="butt"/>
<line x1="591.4" y1="710.12" x2="593.6" y2="710.12" stroke="#1a1a1a" stroke-width="0.8" stroke-linecap="butt"/>
<line x1="590.1" y1="709.55" x2="593.6" y2="709.55" stroke="#1a1a1a" stroke-width="2" stroke-linecap="butt"/>
<text transform="translate(588.8,712.35) scale(0.9,1)" font-size="8" text-anchor="end" fill="#1a1a1a">10<tspan dx="1.2" dy="-3.2" font-size="5.2">7</tspan></text>
<line x1="591.4" y1="705.77" x2="593.6" y2="705.77" stroke="#1a1a1a" stroke-width="0.8" stroke-linecap="butt"/>
<line x1="591.4" y1="703.56" x2="593.6" y2="703.56" stroke="#1a1a1a" stroke-width="0.8" stroke-linecap="butt"/>
<line x1="591.4" y1="701.99" x2="593.6" y2="701.99" stroke="#1a1a1a" stroke-width="0.8" stroke-linecap="butt"/>
<line x1="591.4" y1="700.78" x2="593.6" y2="700.78" stroke="#1a1a1a" stroke-width="0.8" stroke-linecap="butt"/>
<line x1="591.4" y1="699.78" x2="593.6" y2="699.78" stroke="#1a1a1a" stroke-width="0.8" stroke-linecap="butt"/>
<line x1="591.4" y1="698.94" x2="593.6" y2="698.94" stroke="#1a1a1a" stroke-width="0.8" stroke-linecap="butt"/>
<line x1="591.4" y1="698.22" x2="593.6" y2="698.22" stroke="#1a1a1a" stroke-width="0.8" stroke-linecap="butt"/>
<line x1="591.4" y1="697.57" x2="593.6" y2="697.57" stroke="#1a1a1a" stroke-width="0.8" stroke-linecap="butt"/>
<line x1="590.1" y1="697" x2="593.6" y2="697" stroke="#1a1a1a" stroke-width="2" stroke-linecap="butt"/>
<text transform="translate(588.8,699.8) scale(0.9,1)" font-size="8" text-anchor="end" fill="#1a1a1a">10<tspan dx="1.2" dy="-3.2" font-size="5.2">8</tspan></text>
<line x1="591.4" y1="693.22" x2="593.6" y2="693.22" stroke="#1a1a1a" stroke-width="0.8" stroke-linecap="butt"/>
<line x1="591.4" y1="691.01" x2="593.6" y2="691.01" stroke="#1a1a1a" stroke-width="0.8" stroke-linecap="butt"/>
<line x1="591.4" y1="689.44" x2="593.6" y2="689.44" stroke="#1a1a1a" stroke-width="0.8" stroke-linecap="butt"/>
<line x1="591.4" y1="688.23" x2="593.6" y2="688.23" stroke="#1a1a1a" stroke-width="0.8" stroke-linecap="butt"/>
<line x1="591.4" y1="687.23" x2="593.6" y2="687.23" stroke="#1a1a1a" stroke-width="0.8" stroke-linecap="butt"/>
<line x1="591.4" y1="686.39" x2="593.6" y2="686.39" stroke="#1a1a1a" stroke-width="0.8" stroke-linecap="butt"/>
<line x1="591.4" y1="685.67" x2="593.6" y2="685.67" stroke="#1a1a1a" stroke-width="0.8" stroke-linecap="butt"/>
<line x1="591.4" y1="685.02" x2="593.6" y2="685.02" stroke="#1a1a1a" stroke-width="0.8" stroke-linecap="butt"/>
<line x1="590.1" y1="684.45" x2="593.6" y2="684.45" stroke="#1a1a1a" stroke-width="2" stroke-linecap="butt"/>
<text transform="translate(588.8,687.25) scale(0.9,1)" font-size="8" text-anchor="end" fill="#1a1a1a">10<tspan dx="1.2" dy="-3.2" font-size="5.2">9</tspan></text>
<line x1="591.4" y1="680.67" x2="593.6" y2="680.67" stroke="#1a1a1a" stroke-width="0.8" stroke-linecap="butt"/>
<line x1="591.4" y1="678.46" x2="593.6" y2="678.46" stroke="#1a1a1a" stroke-width="0.8" stroke-linecap="butt"/>
<line x1="591.4" y1="676.89" x2="593.6" y2="676.89" stroke="#1a1a1a" stroke-width="0.8" stroke-linecap="butt"/>
<line x1="591.4" y1="675.68" x2="593.6" y2="675.68" stroke="#1a1a1a" stroke-width="0.8" stroke-linecap="butt"/>
<line x1="591.4" y1="674.68" x2="593.6" y2="674.68" stroke="#1a1a1a" stroke-width="0.8" stroke-linecap="butt"/>
<line x1="591.4" y1="673.84" x2="593.6" y2="673.84" stroke="#1a1a1a" stroke-width="0.8" stroke-linecap="butt"/>
<line x1="591.4" y1="673.12" x2="593.6" y2="673.12" stroke="#1a1a1a" stroke-width="0.8" stroke-linecap="butt"/>
<line x1="591.4" y1="672.47" x2="593.6" y2="672.47" stroke="#1a1a1a" stroke-width="0.8" stroke-linecap="butt"/>
<line x1="590.1" y1="671.9" x2="593.6" y2="671.9" stroke="#1a1a1a" stroke-width="2" stroke-linecap="butt"/>
<text transform="translate(588.8,674.7) scale(0.9,1)" font-size="8" text-anchor="end" fill="#1a1a1a">10<tspan dx="1.2" dy="-3.2" font-size="5.2">10</tspan></text>
<line x1="592.85" y1="762.8" x2="679.5" y2="762.8" stroke="#1a1a1a" stroke-width="1.5" stroke-linecap="butt"/>
<line x1="598.8" y1="762.8" x2="598.8" y2="766.6" stroke="#1a1a1a" stroke-width="1.5" stroke-linecap="butt"/>
<text transform="translate(598.8,776.9) scale(0.78,1)" font-size="9.8" text-anchor="middle" fill="#1a1a1a" >0</text>
<line x1="606.87" y1="762.8" x2="606.87" y2="765.08" stroke="#1a1a1a" stroke-width="1.2" stroke-linecap="butt"/>
<line x1="614.94" y1="762.8" x2="614.94" y2="766.6" stroke="#1a1a1a" stroke-width="1.5" stroke-linecap="butt"/>
<text transform="translate(614.94,776.9) scale(0.78,1)" font-size="9.8" text-anchor="middle" fill="#1a1a1a" >10</text>
<line x1="623.01" y1="762.8" x2="623.01" y2="765.08" stroke="#1a1a1a" stroke-width="1.2" stroke-linecap="butt"/>
<line x1="631.08" y1="762.8" x2="631.08" y2="766.6" stroke="#1a1a1a" stroke-width="1.5" stroke-linecap="butt"/>
<text transform="translate(631.08,776.9) scale(0.78,1)" font-size="9.8" text-anchor="middle" fill="#1a1a1a" >20</text>
<line x1="639.15" y1="762.8" x2="639.15" y2="765.08" stroke="#1a1a1a" stroke-width="1.2" stroke-linecap="butt"/>
<line x1="647.22" y1="762.8" x2="647.22" y2="766.6" stroke="#1a1a1a" stroke-width="1.5" stroke-linecap="butt"/>
<text transform="translate(647.22,776.9) scale(0.78,1)" font-size="9.8" text-anchor="middle" fill="#1a1a1a" >30</text>
<line x1="655.29" y1="762.8" x2="655.29" y2="765.08" stroke="#1a1a1a" stroke-width="1.2" stroke-linecap="butt"/>
<line x1="663.36" y1="762.8" x2="663.36" y2="766.6" stroke="#1a1a1a" stroke-width="1.5" stroke-linecap="butt"/>
<text transform="translate(663.36,776.9) scale(0.78,1)" font-size="9.8" text-anchor="middle" fill="#1a1a1a" >40</text>
<line x1="671.43" y1="762.8" x2="671.43" y2="765.08" stroke="#1a1a1a" stroke-width="1.2" stroke-linecap="butt"/>
<line x1="679.5" y1="762.8" x2="679.5" y2="766.6" stroke="#1a1a1a" stroke-width="1.5" stroke-linecap="butt"/>
<text transform="translate(679.5,776.9) scale(0.78,1)" font-size="9.8" text-anchor="middle" fill="#1a1a1a" >50</text>
<line x1="640.76" y1="671.9" x2="640.76" y2="762" stroke="#222" stroke-width="1" stroke-linecap="butt" stroke-dasharray="1.2,1.5"/>
<text transform="translate(639.2,667.8)" font-size="12.3" text-anchor="middle" fill="#1a1a1a" >CAR.SSR</text>
<polyline points="598.8,739.67 606.87,730.13 611.71,722.98 619.78,711.81 623.01,708.67 634.31,693.36 640.76,685.2 645.61,679.05" fill="none" stroke="#aaaaaa" stroke-width="0.6" stroke-linejoin="round" stroke-dasharray="1.2,1"/>
<circle cx="598.8" cy="739.67" r="1.5" fill="none" stroke="#999" stroke-width="0.7"/>
<circle cx="606.87" cy="730.13" r="1.5" fill="none" stroke="#999" stroke-width="0.7"/>
<circle cx="611.71" cy="722.98" r="1.5" fill="none" stroke="#999" stroke-width="0.7"/>
<circle cx="619.78" cy="711.81" r="1.5" fill="none" stroke="#999" stroke-width="0.7"/>
<circle cx="623.01" cy="708.67" r="1.5" fill="none" stroke="#999" stroke-width="0.7"/>
<circle cx="634.31" cy="693.36" r="1.5" fill="none" stroke="#999" stroke-width="0.7"/>
<circle cx="640.76" cy="685.2" r="1.5" fill="none" stroke="#999" stroke-width="0.7"/>
<circle cx="645.61" cy="679.05" r="1.5" fill="none" stroke="#999" stroke-width="0.7"/>
<polyline points="598.8,740.92 606.87,734.15 611.71,727.5 619.78,717.96 623.01,713.82 634.31,701.52 640.76,695.37 645.61,687.21" fill="none" stroke="#aaaaaa" stroke-width="0.6" stroke-linejoin="round" stroke-dasharray="1.2,1"/>
<circle cx="598.8" cy="740.92" r="1.5" fill="none" stroke="#999" stroke-width="0.7"/>
<circle cx="606.87" cy="734.15" r="1.5" fill="none" stroke="#999" stroke-width="0.7"/>
<circle cx="611.71" cy="727.5" r="1.5" fill="none" stroke="#999" stroke-width="0.7"/>
<circle cx="619.78" cy="717.96" r="1.5" fill="none" stroke="#999" stroke-width="0.7"/>
<circle cx="623.01" cy="713.82" r="1.5" fill="none" stroke="#999" stroke-width="0.7"/>
<circle cx="634.31" cy="701.52" r="1.5" fill="none" stroke="#999" stroke-width="0.7"/>
<circle cx="640.76" cy="695.37" r="1.5" fill="none" stroke="#999" stroke-width="0.7"/>
<circle cx="645.61" cy="687.21" r="1.5" fill="none" stroke="#999" stroke-width="0.7"/>
<polyline points="598.8,736.28 606.87,741.3 611.71,735.28 619.78,730.13 623.01,725.99 629.47,723.98 634.31,719.84 640.76,715.82 645.61,717.71 652.06,714.82 656.9,707.29 663.36,702.65 669.82,704.53 674.66,700.76" fill="none" stroke="#9a6526" stroke-width="0.9" stroke-linejoin="round"/>
<rect x="597.35" y="734.83" width="2.9" height="2.9" fill="#9a6526"/>
<rect x="605.42" y="739.85" width="2.9" height="2.9" fill="#9a6526"/>
<rect x="610.26" y="733.83" width="2.9" height="2.9" fill="#9a6526"/>
<rect x="618.33" y="728.68" width="2.9" height="2.9" fill="#9a6526"/>
<rect x="621.56" y="724.54" width="2.9" height="2.9" fill="#9a6526"/>
<rect x="628.02" y="722.53" width="2.9" height="2.9" fill="#9a6526"/>
<rect x="632.86" y="718.39" width="2.9" height="2.9" fill="#9a6526"/>
<rect x="639.31" y="714.37" width="2.9" height="2.9" fill="#9a6526"/>
<rect x="644.16" y="716.26" width="2.9" height="2.9" fill="#9a6526"/>
<rect x="650.61" y="713.37" width="2.9" height="2.9" fill="#9a6526"/>
<rect x="655.45" y="705.84" width="2.9" height="2.9" fill="#9a6526"/>
<rect x="661.91" y="701.2" width="2.9" height="2.9" fill="#9a6526"/>
<rect x="668.37" y="703.08" width="2.9" height="2.9" fill="#9a6526"/>
<rect x="673.21" y="699.31" width="2.9" height="2.9" fill="#9a6526"/>
<polyline points="598.8,737.16 606.87,742.18 611.71,736.28 619.78,732.14 623.01,734.15 629.47,735.28 634.31,736.28 640.76,733.14 645.61,730.13 652.06,728 656.9,730.13 663.36,733.14 669.82,732.14 674.66,725.99" fill="none" stroke="#9a6526" stroke-width="0.9" stroke-linejoin="round"/>
<rect x="597.35" y="735.71" width="2.9" height="2.9" fill="#9a6526"/>
<rect x="605.42" y="740.73" width="2.9" height="2.9" fill="#9a6526"/>
<rect x="610.26" y="734.83" width="2.9" height="2.9" fill="#9a6526"/>
<rect x="618.33" y="730.69" width="2.9" height="2.9" fill="#9a6526"/>
<rect x="621.56" y="732.7" width="2.9" height="2.9" fill="#9a6526"/>
<rect x="628.02" y="733.83" width="2.9" height="2.9" fill="#9a6526"/>
<rect x="632.86" y="734.83" width="2.9" height="2.9" fill="#9a6526"/>
<rect x="639.31" y="731.69" width="2.9" height="2.9" fill="#9a6526"/>
<rect x="644.16" y="728.68" width="2.9" height="2.9" fill="#9a6526"/>
<rect x="650.61" y="726.55" width="2.9" height="2.9" fill="#9a6526"/>
<rect x="655.45" y="728.68" width="2.9" height="2.9" fill="#9a6526"/>
<rect x="661.91" y="731.69" width="2.9" height="2.9" fill="#9a6526"/>
<rect x="668.37" y="730.69" width="2.9" height="2.9" fill="#9a6526"/>
<rect x="673.21" y="724.54" width="2.9" height="2.9" fill="#9a6526"/>
<polyline points="598.8,740.3 606.87,742.18 611.71,740.3 619.78,734.15 623.01,735.28 629.47,735.9 634.31,747.45 640.76,747.45 645.61,738.29 652.06,741.3 656.9,731.14 663.36,734.15 669.82,732.14 674.66,731.14" fill="none" stroke="#9a6526" stroke-width="0.9" stroke-linejoin="round"/>
<rect x="597.35" y="738.85" width="2.9" height="2.9" fill="#9a6526"/>
<rect x="605.42" y="740.73" width="2.9" height="2.9" fill="#9a6526"/>
<rect x="610.26" y="738.85" width="2.9" height="2.9" fill="#9a6526"/>
<rect x="618.33" y="732.7" width="2.9" height="2.9" fill="#9a6526"/>
<rect x="621.56" y="733.83" width="2.9" height="2.9" fill="#9a6526"/>
<rect x="628.02" y="734.45" width="2.9" height="2.9" fill="#9a6526"/>
<rect x="632.86" y="746" width="2.9" height="2.9" fill="#9a6526"/>
<rect x="639.31" y="746" width="2.9" height="2.9" fill="#9a6526"/>
<rect x="644.16" y="736.84" width="2.9" height="2.9" fill="#9a6526"/>
<rect x="650.61" y="739.85" width="2.9" height="2.9" fill="#9a6526"/>
<rect x="655.45" y="729.69" width="2.9" height="2.9" fill="#9a6526"/>
<rect x="661.91" y="732.7" width="2.9" height="2.9" fill="#9a6526"/>
<rect x="668.37" y="730.69" width="2.9" height="2.9" fill="#9a6526"/>
<rect x="673.21" y="729.69" width="2.9" height="2.9" fill="#9a6526"/>
<polyline points="598.8,744.56 606.87,758.75 611.71,740.3 619.78,745.57 623.01,750.59 629.47,750.59 634.31,752.6 640.76,753.6 645.61,751.59 652.06,748.58 656.9,748.58 663.36,749.58 669.82,746.57 674.66,754.6" fill="none" stroke="#9a6526" stroke-width="0.9" stroke-linejoin="round"/>
<rect x="597.35" y="743.11" width="2.9" height="2.9" fill="#9a6526"/>
<rect x="605.42" y="757.3" width="2.9" height="2.9" fill="#9a6526"/>
<rect x="610.26" y="738.85" width="2.9" height="2.9" fill="#9a6526"/>
<rect x="618.33" y="744.12" width="2.9" height="2.9" fill="#9a6526"/>
<rect x="621.56" y="749.14" width="2.9" height="2.9" fill="#9a6526"/>
<rect x="628.02" y="749.14" width="2.9" height="2.9" fill="#9a6526"/>
<rect x="632.86" y="751.15" width="2.9" height="2.9" fill="#9a6526"/>
<rect x="639.31" y="752.15" width="2.9" height="2.9" fill="#9a6526"/>
<rect x="644.16" y="750.14" width="2.9" height="2.9" fill="#9a6526"/>
<rect x="650.61" y="747.13" width="2.9" height="2.9" fill="#9a6526"/>
<rect x="655.45" y="747.13" width="2.9" height="2.9" fill="#9a6526"/>
<rect x="661.91" y="748.13" width="2.9" height="2.9" fill="#9a6526"/>
<rect x="668.37" y="745.12" width="2.9" height="2.9" fill="#9a6526"/>
<rect x="673.21" y="753.15" width="2.9" height="2.9" fill="#9a6526"/>
<polyline points="598.8,746.57 606.87,757.74 611.71,740.92 619.78,750.59 623.01,752.6 629.47,755.61 634.31,753.6 640.76,752.6 645.61,750.59 652.06,756.74 656.9,752.6 663.36,749.58 669.82,750.59 674.66,755.61" fill="none" stroke="#9a6526" stroke-width="0.9" stroke-linejoin="round"/>
<rect x="597.35" y="745.12" width="2.9" height="2.9" fill="#9a6526"/>
<rect x="605.42" y="756.29" width="2.9" height="2.9" fill="#9a6526"/>
<rect x="610.26" y="739.47" width="2.9" height="2.9" fill="#9a6526"/>
<rect x="618.33" y="749.14" width="2.9" height="2.9" fill="#9a6526"/>
<rect x="621.56" y="751.15" width="2.9" height="2.9" fill="#9a6526"/>
<rect x="628.02" y="754.16" width="2.9" height="2.9" fill="#9a6526"/>
<rect x="632.86" y="752.15" width="2.9" height="2.9" fill="#9a6526"/>
<rect x="639.31" y="751.15" width="2.9" height="2.9" fill="#9a6526"/>
<rect x="644.16" y="749.14" width="2.9" height="2.9" fill="#9a6526"/>
<rect x="650.61" y="755.29" width="2.9" height="2.9" fill="#9a6526"/>
<rect x="655.45" y="751.15" width="2.9" height="2.9" fill="#9a6526"/>
<rect x="661.91" y="748.13" width="2.9" height="2.9" fill="#9a6526"/>
<rect x="668.37" y="749.14" width="2.9" height="2.9" fill="#9a6526"/>
<rect x="673.21" y="754.16" width="2.9" height="2.9" fill="#9a6526"/>
<text transform="translate(101.3,819.8)" font-size="14.3" text-anchor="middle" fill="#1a1a1a" >Leukemia burden</text>
<text transform="translate(103,837.3)" font-size="14.1" text-anchor="middle" fill="#1a1a1a" >(day 47)</text>
<line x1="72.6" y1="854" x2="72.6" y2="949.2" stroke="#1a1a1a" stroke-width="1.2" stroke-linecap="butt"/>
<line x1="69.1" y1="948.3" x2="72.6" y2="948.3" stroke="#1a1a1a" stroke-width="1.1" stroke-linecap="butt"/>
<text transform="translate(67.4,951.5) scale(0.92,1)" font-size="9.3" text-anchor="end" fill="#1a1a1a">10<tspan dx="1.8" dy="-3.2" font-size="6">5</tspan></text>
<line x1="70.6" y1="942.63" x2="72.6" y2="942.63" stroke="#1a1a1a" stroke-width="0.7" stroke-linecap="butt"/>
<line x1="70.6" y1="939.31" x2="72.6" y2="939.31" stroke="#1a1a1a" stroke-width="0.7" stroke-linecap="butt"/>
<line x1="70.6" y1="936.96" x2="72.6" y2="936.96" stroke="#1a1a1a" stroke-width="0.7" stroke-linecap="butt"/>
<line x1="70.6" y1="935.13" x2="72.6" y2="935.13" stroke="#1a1a1a" stroke-width="0.7" stroke-linecap="butt"/>
<line x1="70.6" y1="933.64" x2="72.6" y2="933.64" stroke="#1a1a1a" stroke-width="0.7" stroke-linecap="butt"/>
<line x1="70.6" y1="932.38" x2="72.6" y2="932.38" stroke="#1a1a1a" stroke-width="0.7" stroke-linecap="butt"/>
<line x1="70.6" y1="931.29" x2="72.6" y2="931.29" stroke="#1a1a1a" stroke-width="0.7" stroke-linecap="butt"/>
<line x1="70.6" y1="930.32" x2="72.6" y2="930.32" stroke="#1a1a1a" stroke-width="0.7" stroke-linecap="butt"/>
<line x1="69.1" y1="929.46" x2="72.6" y2="929.46" stroke="#1a1a1a" stroke-width="1.1" stroke-linecap="butt"/>
<text transform="translate(67.4,932.66) scale(0.92,1)" font-size="9.3" text-anchor="end" fill="#1a1a1a">10<tspan dx="1.8" dy="-3.2" font-size="6">6</tspan></text>
<line x1="70.6" y1="923.79" x2="72.6" y2="923.79" stroke="#1a1a1a" stroke-width="0.7" stroke-linecap="butt"/>
<line x1="70.6" y1="920.47" x2="72.6" y2="920.47" stroke="#1a1a1a" stroke-width="0.7" stroke-linecap="butt"/>
<line x1="70.6" y1="918.12" x2="72.6" y2="918.12" stroke="#1a1a1a" stroke-width="0.7" stroke-linecap="butt"/>
<line x1="70.6" y1="916.29" x2="72.6" y2="916.29" stroke="#1a1a1a" stroke-width="0.7" stroke-linecap="butt"/>
<line x1="70.6" y1="914.8" x2="72.6" y2="914.8" stroke="#1a1a1a" stroke-width="0.7" stroke-linecap="butt"/>
<line x1="70.6" y1="913.54" x2="72.6" y2="913.54" stroke="#1a1a1a" stroke-width="0.7" stroke-linecap="butt"/>
<line x1="70.6" y1="912.45" x2="72.6" y2="912.45" stroke="#1a1a1a" stroke-width="0.7" stroke-linecap="butt"/>
<line x1="70.6" y1="911.48" x2="72.6" y2="911.48" stroke="#1a1a1a" stroke-width="0.7" stroke-linecap="butt"/>
<line x1="69.1" y1="910.62" x2="72.6" y2="910.62" stroke="#1a1a1a" stroke-width="1.1" stroke-linecap="butt"/>
<text transform="translate(67.4,913.82) scale(0.92,1)" font-size="9.3" text-anchor="end" fill="#1a1a1a">10<tspan dx="1.8" dy="-3.2" font-size="6">7</tspan></text>
<line x1="70.6" y1="904.95" x2="72.6" y2="904.95" stroke="#1a1a1a" stroke-width="0.7" stroke-linecap="butt"/>
<line x1="70.6" y1="901.63" x2="72.6" y2="901.63" stroke="#1a1a1a" stroke-width="0.7" stroke-linecap="butt"/>
<line x1="70.6" y1="899.28" x2="72.6" y2="899.28" stroke="#1a1a1a" stroke-width="0.7" stroke-linecap="butt"/>
<line x1="70.6" y1="897.45" x2="72.6" y2="897.45" stroke="#1a1a1a" stroke-width="0.7" stroke-linecap="butt"/>
<line x1="70.6" y1="895.96" x2="72.6" y2="895.96" stroke="#1a1a1a" stroke-width="0.7" stroke-linecap="butt"/>
<line x1="70.6" y1="894.7" x2="72.6" y2="894.7" stroke="#1a1a1a" stroke-width="0.7" stroke-linecap="butt"/>
<line x1="70.6" y1="893.61" x2="72.6" y2="893.61" stroke="#1a1a1a" stroke-width="0.7" stroke-linecap="butt"/>
<line x1="70.6" y1="892.64" x2="72.6" y2="892.64" stroke="#1a1a1a" stroke-width="0.7" stroke-linecap="butt"/>
<line x1="69.1" y1="891.78" x2="72.6" y2="891.78" stroke="#1a1a1a" stroke-width="1.1" stroke-linecap="butt"/>
<text transform="translate(67.4,894.98) scale(0.92,1)" font-size="9.3" text-anchor="end" fill="#1a1a1a">10<tspan dx="1.8" dy="-3.2" font-size="6">8</tspan></text>
<line x1="70.6" y1="886.11" x2="72.6" y2="886.11" stroke="#1a1a1a" stroke-width="0.7" stroke-linecap="butt"/>
<line x1="70.6" y1="882.79" x2="72.6" y2="882.79" stroke="#1a1a1a" stroke-width="0.7" stroke-linecap="butt"/>
<line x1="70.6" y1="880.44" x2="72.6" y2="880.44" stroke="#1a1a1a" stroke-width="0.7" stroke-linecap="butt"/>
<line x1="70.6" y1="878.61" x2="72.6" y2="878.61" stroke="#1a1a1a" stroke-width="0.7" stroke-linecap="butt"/>
<line x1="70.6" y1="877.12" x2="72.6" y2="877.12" stroke="#1a1a1a" stroke-width="0.7" stroke-linecap="butt"/>
<line x1="70.6" y1="875.86" x2="72.6" y2="875.86" stroke="#1a1a1a" stroke-width="0.7" stroke-linecap="butt"/>
<line x1="70.6" y1="874.77" x2="72.6" y2="874.77" stroke="#1a1a1a" stroke-width="0.7" stroke-linecap="butt"/>
<line x1="70.6" y1="873.8" x2="72.6" y2="873.8" stroke="#1a1a1a" stroke-width="0.7" stroke-linecap="butt"/>
<line x1="69.1" y1="872.94" x2="72.6" y2="872.94" stroke="#1a1a1a" stroke-width="1.1" stroke-linecap="butt"/>
<text transform="translate(67.4,876.14) scale(0.92,1)" font-size="9.3" text-anchor="end" fill="#1a1a1a">10<tspan dx="1.8" dy="-3.2" font-size="6">9</tspan></text>
<line x1="70.6" y1="867.27" x2="72.6" y2="867.27" stroke="#1a1a1a" stroke-width="0.7" stroke-linecap="butt"/>
<line x1="70.6" y1="863.95" x2="72.6" y2="863.95" stroke="#1a1a1a" stroke-width="0.7" stroke-linecap="butt"/>
<line x1="70.6" y1="861.6" x2="72.6" y2="861.6" stroke="#1a1a1a" stroke-width="0.7" stroke-linecap="butt"/>
<line x1="70.6" y1="859.77" x2="72.6" y2="859.77" stroke="#1a1a1a" stroke-width="0.7" stroke-linecap="butt"/>
<line x1="70.6" y1="858.28" x2="72.6" y2="858.28" stroke="#1a1a1a" stroke-width="0.7" stroke-linecap="butt"/>
<line x1="70.6" y1="857.02" x2="72.6" y2="857.02" stroke="#1a1a1a" stroke-width="0.7" stroke-linecap="butt"/>
<line x1="70.6" y1="855.93" x2="72.6" y2="855.93" stroke="#1a1a1a" stroke-width="0.7" stroke-linecap="butt"/>
<line x1="70.6" y1="854.96" x2="72.6" y2="854.96" stroke="#1a1a1a" stroke-width="0.7" stroke-linecap="butt"/>
<line x1="69.1" y1="854.1" x2="72.6" y2="854.1" stroke="#1a1a1a" stroke-width="1.1" stroke-linecap="butt"/>
<text transform="translate(67.4,857.3) scale(0.92,1)" font-size="9.3" text-anchor="end" fill="#1a1a1a">10<tspan dx="1.8" dy="-3.2" font-size="6">10</tspan></text>
<line x1="72" y1="948.6" x2="136.5" y2="948.6" stroke="#1a1a1a" stroke-width="1.3" stroke-linecap="butt"/>
<line x1="90.6" y1="948.6" x2="90.6" y2="952.1" stroke="#1a1a1a" stroke-width="1.2" stroke-linecap="butt"/>
<line x1="117.2" y1="948.6" x2="117.2" y2="952.1" stroke="#1a1a1a" stroke-width="1.2" stroke-linecap="butt"/>
<rect x="82.6" y="871.43" width="16.4" height="77.17" fill="none" stroke="#c6c212" stroke-width="1.8"/>
<rect x="109.8" y="894.61" width="16.3" height="53.99" fill="none" stroke="#9a6526" stroke-width="1.8"/>
<line x1="90.7" y1="871.43" x2="90.7" y2="868.8" stroke="#c6c212" stroke-width="1.1" stroke-linecap="butt"/>
<line x1="87.2" y1="868.8" x2="94.2" y2="868.8" stroke="#c6c212" stroke-width="1.1" stroke-linecap="butt"/>
<line x1="117.8" y1="920.98" x2="117.8" y2="888.95" stroke="#9a6526" stroke-width="1.1" stroke-linecap="butt"/>
<line x1="114" y1="888.95" x2="121.6" y2="888.95" stroke="#9a6526" stroke-width="1.1" stroke-linecap="butt"/>
<line x1="114" y1="920.98" x2="121.6" y2="920.98" stroke="#9a6526" stroke-width="1.1" stroke-linecap="butt"/>
<rect x="84.7" y="863.2" width="4.4" height="4.4" fill="#c6c212"/>
<rect x="92.2" y="866.03" width="4.4" height="4.4" fill="#c6c212"/>
<rect x="93.6" y="870.74" width="4.4" height="4.4" fill="#c6c212"/>
<rect x="84.3" y="869.8" width="4.4" height="4.4" fill="#c6c212"/>
<rect x="89.2" y="886.75" width="4.4" height="4.4" fill="#c6c212"/>
<rect x="115.3" y="879.22" width="4.4" height="4.4" fill="#9a6526"/>
<rect x="111.6" y="915.96" width="4.4" height="4.4" fill="#9a6526"/>
<rect x="119.4" y="912.19" width="4.4" height="4.4" fill="#9a6526"/>
<rect x="115.3" y="930.65" width="4.4" height="4.4" fill="#9a6526"/>
<rect x="115.3" y="934.42" width="4.4" height="4.4" fill="#9a6526"/>
<line x1="88.3" y1="859.3" x2="118.5" y2="859.3" stroke="#111" stroke-width="1.7" stroke-linecap="butt"/>
<text transform="translate(103.8,860.5)" font-size="13" text-anchor="middle" fill="#1a1a1a" >*</text>
<text transform="translate(35.8,900) rotate(-90)" font-size="11" text-anchor="middle" fill="#1a1a1a" >Leukemia burden</text>
<text transform="translate(47.3,900) rotate(-90)" font-size="11" text-anchor="middle" fill="#1a1a1a" >(AUC)</text>
<text transform="translate(92,958.5) rotate(-45)" font-size="9.5" text-anchor="end" fill="#1a1a1a" >CAR</text>
<text transform="translate(119.5,960.5) rotate(-45)" font-size="9.5" text-anchor="end" fill="#1a1a1a" >CAR.SSR</text>
<text transform="translate(330,819.8)" font-size="14.2" text-anchor="middle" fill="#1a1a1a" >Overall Survival</text>
<line x1="259.4" y1="821.9" x2="259.4" y2="951.4" stroke="#1a1a1a" stroke-width="2" stroke-linecap="butt"/>
<line x1="255.4" y1="950.4" x2="259.4" y2="950.4" stroke="#1a1a1a" stroke-width="1.8" stroke-linecap="butt"/>
<text transform="translate(252.9,954.3)" font-size="11" text-anchor="end" fill="#1a1a1a" >0</text>
<line x1="255.4" y1="927.32" x2="259.4" y2="927.32" stroke="#1a1a1a" stroke-width="1.8" stroke-linecap="butt"/>
<text transform="translate(252.9,931.22)" font-size="11" text-anchor="end" fill="#1a1a1a" >20</text>
<line x1="255.4" y1="904.24" x2="259.4" y2="904.24" stroke="#1a1a1a" stroke-width="1.8" stroke-linecap="butt"/>
<text transform="translate(252.9,908.14)" font-size="11" text-anchor="end" fill="#1a1a1a" >40</text>
<line x1="255.4" y1="881.16" x2="259.4" y2="881.16" stroke="#1a1a1a" stroke-width="1.8" stroke-linecap="butt"/>
<text transform="translate(252.9,885.06)" font-size="11" text-anchor="end" fill="#1a1a1a" >60</text>
<line x1="255.4" y1="858.08" x2="259.4" y2="858.08" stroke="#1a1a1a" stroke-width="1.8" stroke-linecap="butt"/>
<text transform="translate(252.9,861.98)" font-size="11" text-anchor="end" fill="#1a1a1a" >80</text>
<line x1="255.4" y1="835" x2="259.4" y2="835" stroke="#1a1a1a" stroke-width="1.8" stroke-linecap="butt"/>
<text transform="translate(252.9,838.9)" font-size="11" text-anchor="end" fill="#1a1a1a" >100</text>
<line x1="258.4" y1="950.4" x2="472.57" y2="950.4" stroke="#1a1a1a" stroke-width="2" stroke-linecap="butt"/>
<line x1="259.4" y1="950.4" x2="259.4" y2="954.9" stroke="#1a1a1a" stroke-width="1.8" stroke-linecap="butt"/>
<text transform="translate(259.4,967)" font-size="10.5" text-anchor="middle" fill="#1a1a1a" >0</text>
<line x1="292.12" y1="950.4" x2="292.12" y2="954.9" stroke="#1a1a1a" stroke-width="1.8" stroke-linecap="butt"/>
<text transform="translate(292.12,967)" font-size="10.5" text-anchor="middle" fill="#1a1a1a" >20</text>
<line x1="324.84" y1="950.4" x2="324.84" y2="954.9" stroke="#1a1a1a" stroke-width="1.8" stroke-linecap="butt"/>
<text transform="translate(324.84,967)" font-size="10.5" text-anchor="middle" fill="#1a1a1a" >40</text>
<line x1="357.56" y1="950.4" x2="357.56" y2="954.9" stroke="#1a1a1a" stroke-width="1.8" stroke-linecap="butt"/>
<text transform="translate(357.56,967)" font-size="10.5" text-anchor="middle" fill="#1a1a1a" >60</text>
<line x1="390.28" y1="950.4" x2="390.28" y2="954.9" stroke="#1a1a1a" stroke-width="1.8" stroke-linecap="butt"/>
<text transform="translate(390.28,967)" font-size="10.5" text-anchor="middle" fill="#1a1a1a" >80</text>
<line x1="423" y1="950.4" x2="423" y2="954.9" stroke="#1a1a1a" stroke-width="1.8" stroke-linecap="butt"/>
<text transform="translate(423,967)" font-size="10.5" text-anchor="middle" fill="#1a1a1a" >100</text>
<line x1="455.72" y1="950.4" x2="455.72" y2="954.9" stroke="#1a1a1a" stroke-width="1.8" stroke-linecap="butt"/>
<text transform="translate(455.72,967)" font-size="10.5" text-anchor="middle" fill="#1a1a1a" >120</text>
<text transform="translate(228.4,885.4) rotate(-90)" font-size="12.5" text-anchor="middle" fill="#1a1a1a" >Percent Survival</text>
<text transform="translate(366,985.2)" font-size="12.4" text-anchor="middle" fill="#1a1a1a" >Days post CAR-T infusion</text>
<polyline points="259.4,834.08 315.02,834.08 315.02,834.08 315.02,834.08 315.02,881.16 318.3,881.16 318.3,927.32 319.93,927.32 319.93,950.4" fill="none" stroke="#3a3a3a" stroke-width="1.1" stroke-linejoin="round"/>
<polyline points="259.4,835 315.02,835 315.02,835 315.02,835 315.02,858.08 316.66,858.08 316.66,904.24 319.93,904.24 319.93,927.32 326.48,927.32 326.48,950.4" fill="none" stroke="#a8125e" stroke-width="1.1" stroke-linejoin="round"/>
<polyline points="259.4,834.54 346.11,834.54 346.11,834.54 346.11,834.54 346.11,858.08 364.1,858.08 364.1,904.24 370.65,904.24 370.65,927.32 382.1,927.32 382.1,950.4" fill="none" stroke="#c6c212" stroke-width="1.2" stroke-linejoin="round"/>
<polyline points="259.4,833.5 349.38,833.5 349.38,833.5 349.38,833.5 349.38,856.93 382.1,856.93 382.1,880.01 416.46,880.01 416.46,903.09 454.08,903.09 454.08,903.09" fill="none" stroke="#9a6526" stroke-width="1.1" stroke-linejoin="round"/>
<circle cx="315.02" cy="881.16" r="2.4" fill="#3a3a3a"/>
<circle cx="318.3" cy="927.32" r="2.4" fill="#3a3a3a"/>
<circle cx="319.93" cy="950.4" r="2.4" fill="#3a3a3a"/>
<path d="M315.02,855.55L317.44,859.84L312.6,859.84Z" fill="#a8125e"/>
<path d="M316.66,901.71L319.08,906L314.24,906Z" fill="#a8125e"/>
<path d="M319.93,924.79L322.35,929.08L317.51,929.08Z" fill="#a8125e"/>
<path d="M326.48,947.87L328.9,952.16L324.06,952.16Z" fill="#a8125e"/>
<rect x="343.71" y="855.68" width="4.8" height="4.8" fill="#c6c212"/>
<rect x="361.7" y="901.84" width="4.8" height="4.8" fill="#c6c212"/>
<rect x="368.25" y="924.92" width="4.8" height="4.8" fill="#c6c212"/>
<rect x="379.7" y="948" width="4.8" height="4.8" fill="#c6c212"/>
<rect x="346.98" y="854.53" width="4.8" height="4.8" fill="#9a6526"/>
<rect x="379.7" y="877.61" width="4.8" height="4.8" fill="#9a6526"/>
<rect x="414.06" y="900.69" width="4.8" height="4.8" fill="#9a6526"/>
<rect x="451.68" y="900.69" width="4.8" height="4.8" fill="#9a6526"/>
<line x1="462.2" y1="822.8" x2="476.2" y2="822.8" stroke="#3a3a3a" stroke-width="1.3" stroke-linecap="butt"/>
<circle cx="468.9" cy="822.8" r="2.6" fill="#3a3a3a"/>
<text transform="translate(483.2,826.6)" font-size="10.5" text-anchor="start" fill="#1a1a1a" >NT</text>
<line x1="462.2" y1="840.03" x2="476.2" y2="840.03" stroke="#c6c212" stroke-width="1.3" stroke-linecap="butt"/>
<rect x="466.3" y="837.43" width="5.2" height="5.2" fill="#c6c212"/>
<text transform="translate(483.2,843.83)" font-size="10.5" text-anchor="start" fill="#1a1a1a" >CAR T</text>
<line x1="462.2" y1="857.26" x2="476.2" y2="857.26" stroke="#9a6526" stroke-width="1.3" stroke-linecap="butt"/>
<rect x="466.3" y="854.66" width="5.2" height="5.2" fill="#9a6526"/>
<text transform="translate(483.2,861.06)" font-size="10.5" text-anchor="start" fill="#1a1a1a" >CAR.SSR T</text>
<line x1="462.2" y1="874.49" x2="476.2" y2="874.49" stroke="#a8125e" stroke-width="1.3" stroke-linecap="butt"/>
<path d="M468.9,871.5L471.76,876.57L466.04,876.57Z" fill="#a8125e"/>
<text transform="translate(483.2,878.29)" font-size="10.5" text-anchor="start" fill="#1a1a1a" >SSR T</text>
<line x1="542.5" y1="836.5" x2="542.5" y2="861.9" stroke="#111" stroke-width="1.8" stroke-linecap="butt"/>
<text transform="translate(549,856)" font-size="19" text-anchor="middle" fill="#1a1a1a" >*</text>
</svg></body></html>
